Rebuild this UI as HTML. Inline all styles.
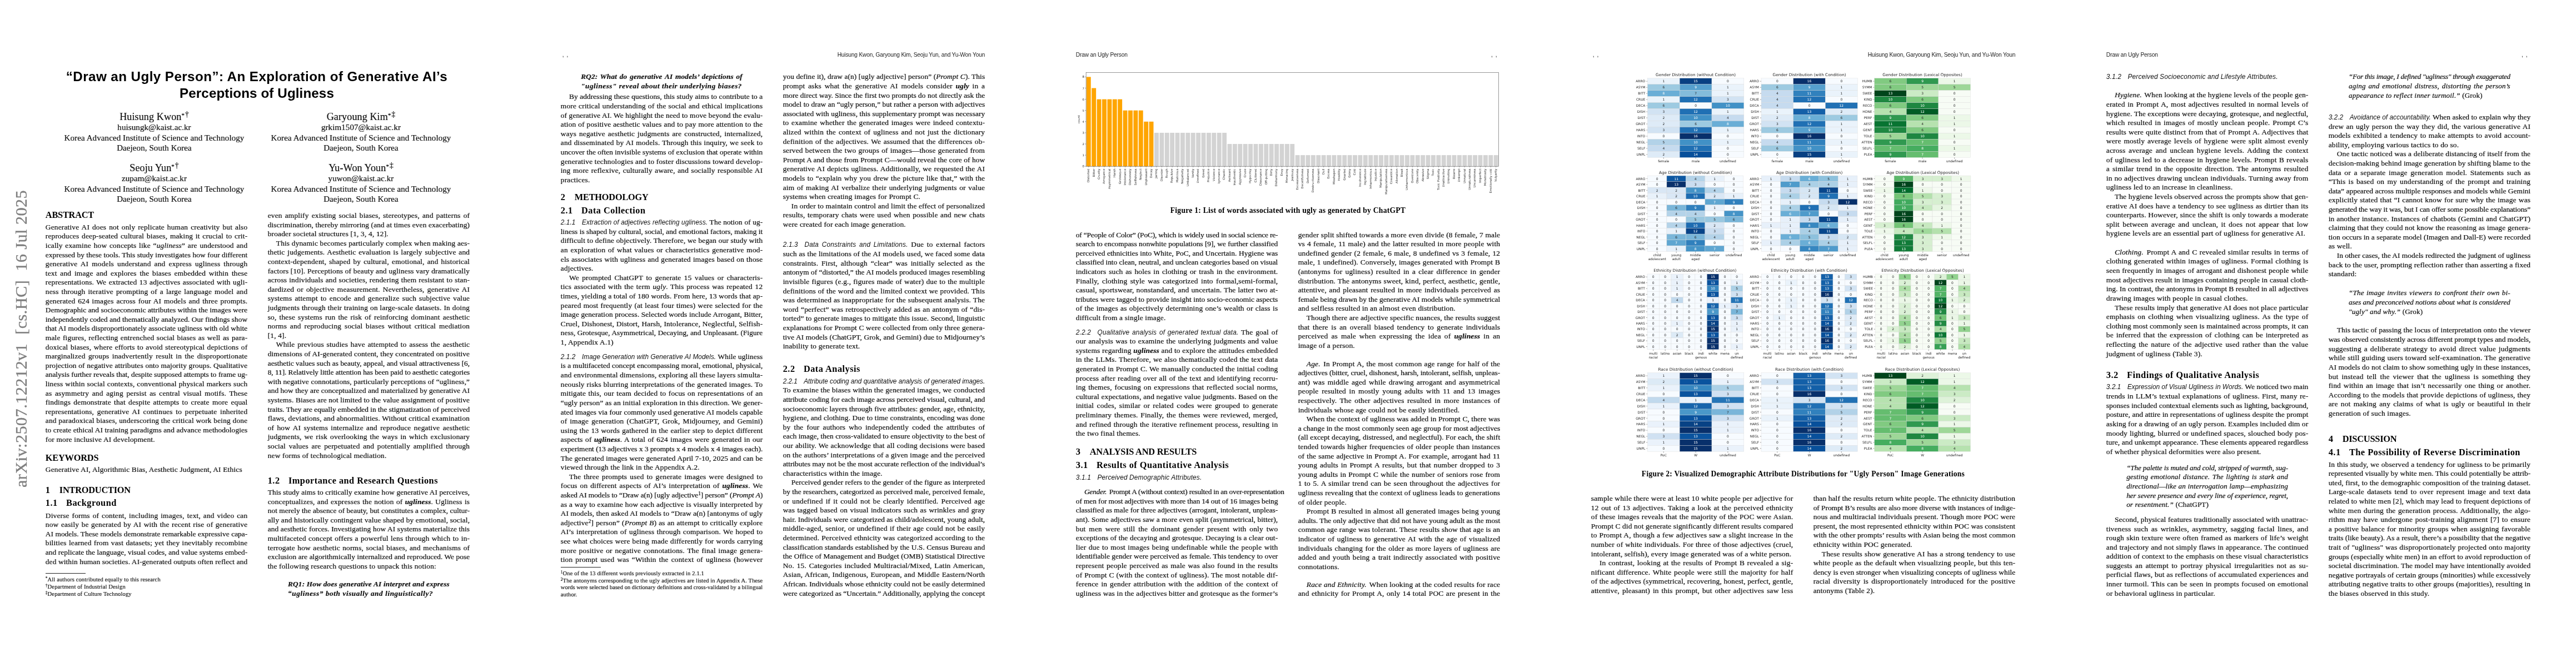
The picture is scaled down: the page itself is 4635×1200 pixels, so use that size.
<!DOCTYPE html><html lang="en"><head><meta charset="utf-8"><title>Draw an Ugly Person</title><style>
html,body{margin:0;padding:0;background:#fff}
body{width:4635px;height:1200px;position:relative;overflow:hidden;will-change:transform;color:#111;font-family:"Liberation Serif",serif;font-size:13.45px}
.l{position:absolute;white-space:nowrap;line-height:21px;height:21px;letter-spacing:0.16px;-webkit-text-stroke:.22px #111}
.l.j{text-align:justify;text-align-last:justify}
.l *{line-height:0}
.l sup{font-size:.7em;vertical-align:baseline;position:relative;top:-.42em}
.h1{font-weight:bold;font-size:16.4px;color:#000;-webkit-text-stroke:0}
.lc{letter-spacing:.45px}
.h1:not(.lc){letter-spacing:-.25px}
.gap{display:inline-block;width:17px}
.lc .gap{width:15.4px}
.g3{display:inline-block;width:1.5px}
.gap2{display:inline-block;width:11.6px}
.ss{font-family:"Liberation Sans",sans-serif;font-style:italic;font-size:11.85px;-webkit-text-stroke:0}
.bi{font-weight:bold;font-style:italic;font-size:13.3px}
.it{font-style:italic;font-size:13.1px}
.up{font-style:normal}
.fn{font-size:10.6px;letter-spacing:.09px;-webkit-text-stroke:.15px #111}
.rule{position:absolute;width:72.7px;height:0;border-top:.6px solid #222}
.hd{position:absolute;font-family:"Liberation Sans",sans-serif;font-size:10.2px;letter-spacing:-.18px;line-height:16px;white-space:nowrap;color:#222}
.hd.r{text-align:right}
.hd.cm{word-spacing:2px;letter-spacing:0}
.ttl{position:absolute;text-align:center;font-family:"Liberation Sans",sans-serif;font-weight:bold;font-size:24.3px;line-height:40px;white-space:nowrap;color:#000;letter-spacing:.37px}
.au{position:absolute;width:400px;text-align:center;font-size:15.1px;line-height:22px;height:22px;white-space:nowrap;-webkit-text-stroke:.2px #111;letter-spacing:.05px}
.au.nm{font-size:18.2px;line-height:26px;height:26px}
.au sup{font-size:.6em;vertical-align:baseline;position:relative;top:-.5em;line-height:0}
.au .dg{font-size:1.25em;position:relative;top:-.05em;margin-left:1px}
.cap{position:absolute;text-align:center;font-weight:bold;font-size:13.6px;letter-spacing:.25px;line-height:20px;white-space:nowrap;color:#000}
.fig{position:absolute;overflow:visible}
.arx{position:absolute;left:38.2px;top:877px;letter-spacing:.42px;transform-origin:0 0;transform:rotate(-90deg);font-family:"Liberation Serif",serif;font-size:30.3px;line-height:0;white-space:nowrap;color:#7f7f7f;-webkit-text-stroke:.3px #7f7f7f}
</style></head><body>
<div class="ttl" style="left:62.0px;top:118.0px;width:800.0px">“Draw an Ugly Person”: An Exploration of Generative AI’s</div>
<div class="ttl" style="left:62.0px;top:148.3px;width:800.0px;letter-spacing:.05px">Perceptions of Ugliness</div>
<div class="au nm" style="left:77.5px;top:197px">Huisung Kwon<sup>*<span class="dg">†</span></sup></div>
<div class="au" style="left:77.5px;top:218px">huisungk@kaist.ac.kr</div>
<div class="au" style="left:77.5px;top:237px">Korea Advanced Institute of Science and Technology</div>
<div class="au" style="left:77.5px;top:255px">Daejeon, South Korea</div>
<div class="au nm" style="left:449.5px;top:197px">Garyoung Kim<sup>*<span class="dg">‡</span></sup></div>
<div class="au" style="left:449.5px;top:218px">grkim1507@kaist.ac.kr</div>
<div class="au" style="left:449.5px;top:237px">Korea Advanced Institute of Science and Technology</div>
<div class="au" style="left:449.5px;top:255px">Daejeon, South Korea</div>
<div class="au nm" style="left:77.5px;top:289px">Seoju Yun<sup>*<span class="dg">†</span></sup></div>
<div class="au" style="left:77.5px;top:310px">zupam@kaist.ac.kr</div>
<div class="au" style="left:77.5px;top:329px">Korea Advanced Institute of Science and Technology</div>
<div class="au" style="left:77.5px;top:347px">Daejeon, South Korea</div>
<div class="au nm" style="left:449.5px;top:289px">Yu-Won Youn<sup>*<span class="dg">‡</span></sup></div>
<div class="au" style="left:449.5px;top:310px">yuwon@kaist.ac.kr</div>
<div class="au" style="left:449.5px;top:329px">Korea Advanced Institute of Science and Technology</div>
<div class="au" style="left:449.5px;top:347px">Daejeon, South Korea</div>
<div class="arx">arXiv:2507.12212v1&nbsp; [cs.HC]&nbsp; 16 Jul 2025</div>
<div id="L1" class="l h1" style="left:81.80px;top:374px;line-height:25px;height:25px;">ABSTRACT</div>
<div id="L2" class="l  j" style="left:81.80px;top:398px;width:363.50px;">Generative AI does not only replicate human creativity but also</div>
<div id="L3" class="l  j" style="left:81.80px;top:414px;width:363.50px;">reproduces deep-seated cultural biases, making it crucial to crit-</div>
<div id="L4" class="l  j" style="left:81.80px;top:431px;width:363.50px;">ically examine how concepts like “<i>ugliness</i>” are understood and</div>
<div id="L5" class="l  j" style="left:81.80px;top:448px;width:363.50px;letter-spacing:0.023px;">expressed by these tools. This study investigates how four different</div>
<div id="L6" class="l  j" style="left:81.80px;top:464px;width:363.50px;">generative AI models understand and express ugliness through</div>
<div id="L7" class="l  j" style="left:81.80px;top:481px;width:363.50px;">text and image and explores the biases embedded within these</div>
<div id="L8" class="l  j" style="left:81.80px;top:497px;width:363.50px;">representations. We extracted 13 adjectives associated with ugli-</div>
<div id="L9" class="l  j" style="left:81.80px;top:514px;width:363.50px;">ness through iterative prompting of a large language model and</div>
<div id="L10" class="l  j" style="left:81.80px;top:531px;width:363.50px;">generated 624 images across four AI models and three prompts.</div>
<div id="L11" class="l  j" style="left:81.80px;top:547px;width:363.50px;letter-spacing:0.024px;">Demographic and socioeconomic attributes within the images were</div>
<div id="L12" class="l  j" style="left:81.80px;top:564px;width:363.50px;letter-spacing:0.018px;">independently coded and thematically analyzed. Our findings show</div>
<div id="L13" class="l  j" style="left:81.80px;top:580px;width:363.50px;letter-spacing:0.027px;">that AI models disproportionately associate ugliness with old white</div>
<div id="L14" class="l  j" style="left:81.80px;top:597px;width:363.50px;">male figures, reflecting entrenched social biases as well as para-</div>
<div id="L15" class="l  j" style="left:81.80px;top:614px;width:363.50px;">doxical biases, where efforts to avoid stereotypical depictions of</div>
<div id="L16" class="l  j" style="left:81.80px;top:630px;width:363.50px;">marginalized groups inadvertently result in the disproportionate</div>
<div id="L17" class="l  j" style="left:81.80px;top:647px;width:363.50px;letter-spacing:0.139px;">projection of negative attributes onto majority groups. Qualitative</div>
<div id="L18" class="l  j" style="left:81.80px;top:663px;width:363.50px;letter-spacing:-0.027px;">analysis further reveals that, despite supposed attempts to frame ug-</div>
<div id="L19" class="l  j" style="left:81.80px;top:680px;width:363.50px;">liness within social contexts, conventional physical markers such</div>
<div id="L20" class="l  j" style="left:81.80px;top:697px;width:363.50px;">as asymmetry and aging persist as central visual motifs. These</div>
<div id="L21" class="l  j" style="left:81.80px;top:713px;width:363.50px;">findings demonstrate that despite attempts to create more equal</div>
<div id="L22" class="l  j" style="left:81.80px;top:730px;width:363.50px;">representations, generative AI continues to perpetuate inherited</div>
<div id="L23" class="l  j" style="left:81.80px;top:746px;width:363.50px;">and paradoxical biases, underscoring the critical work being done</div>
<div id="L24" class="l  j" style="left:81.80px;top:763px;width:363.50px;letter-spacing:0.064px;">to create ethical AI training paradigms and advance methodologies</div>
<div id="L25" class="l" style="left:81.80px;top:780px;">for more inclusive AI development.</div>
<div id="L26" class="l h1" style="left:81.80px;top:811px;line-height:25px;height:25px;">KEYWORDS</div>
<div id="L27" class="l" style="left:81.80px;top:834px;">Generative AI, Algorithmic Bias, Aesthetic Judgment, AI Ethics</div>
<div id="L28" class="l h1" style="left:81.80px;top:869px;line-height:25px;height:25px;">1<span class="gap"></span>INTRODUCTION</div>
<div id="L29" class="l h1 lc" style="left:81.80px;top:892px;line-height:25px;height:25px;">1.1<span class="gap"></span>Background</div>
<div id="L30" class="l  j" style="left:81.80px;top:917px;width:363.50px;">Diverse forms of content, including images, text, and video can</div>
<div id="L31" class="l  j" style="left:81.80px;top:933px;width:363.50px;">now easily be generated by AI with the recent rise of generative</div>
<div id="L32" class="l  j" style="left:81.80px;top:950px;width:363.50px;letter-spacing:0.011px;">AI models. These models demonstrate remarkable expressive capa-</div>
<div id="L33" class="l  j" style="left:81.80px;top:966px;width:363.50px;">bilities learned from vast datasets; yet they inevitably recombine</div>
<div id="L34" class="l  j" style="left:81.80px;top:983px;width:363.50px;letter-spacing:0.023px;">and replicate the language, visual codes, and value systems embed-</div>
<div id="L35" class="l  j" style="left:81.80px;top:1000px;width:363.50px;letter-spacing:0.080px;">ded within human societies. AI-generated outputs often reflect and</div>
<div class="rule" style="left:81.80px;top:1031.00px"></div>
<div id="L36" class="l fn" style="left:81.80px;top:1034px;line-height:17px;height:17px;"><sup>*</sup>All authors contributed equally to this research</div>
<div id="L37" class="l fn" style="left:81.80px;top:1047px;line-height:17px;height:17px;"><sup>†</sup>Department of Industrial Design</div>
<div id="L38" class="l fn" style="left:81.80px;top:1060px;line-height:17px;height:17px;"><sup>‡</sup>Department of Culture Technology</div>
<div id="L39" class="l  j" style="left:481.70px;top:377px;width:363.50px;">even amplify existing social biases, stereotypes, and patterns of</div>
<div id="L40" class="l  j" style="left:481.70px;top:394px;width:363.50px;letter-spacing:0.085px;">discrimination, thereby mirroring (and at times even exacerbating)</div>
<div id="L41" class="l" style="left:481.70px;top:410px;">broader societal structures [1, 3, 4, 12].</div>
<div id="L42" class="l  j" style="left:496.80px;top:427px;width:348.40px;letter-spacing:0.139px;">This dynamic becomes particularly complex when making aes-</div>
<div id="L43" class="l  j" style="left:481.70px;top:443px;width:363.50px;">thetic judgements. Aesthetic evaluation is largely subjective and</div>
<div id="L44" class="l  j" style="left:481.70px;top:460px;width:363.50px;">context-dependent, shaped by cultural, emotional, and historical</div>
<div id="L45" class="l  j" style="left:481.70px;top:477px;width:363.50px;letter-spacing:0.147px;">factors [10]. Perceptions of beauty and ugliness vary dramatically</div>
<div id="L46" class="l  j" style="left:481.70px;top:493px;width:363.50px;">across individuals and societies, rendering them resistant to stan-</div>
<div id="L47" class="l  j" style="left:481.70px;top:510px;width:363.50px;">dardized or objective measurement. Nevertheless, generative AI</div>
<div id="L48" class="l  j" style="left:481.70px;top:526px;width:363.50px;">systems attempt to encode and generalize such subjective value</div>
<div id="L49" class="l  j" style="left:481.70px;top:543px;width:363.50px;">judgments through their training on large-scale datasets. In doing</div>
<div id="L50" class="l  j" style="left:481.70px;top:560px;width:363.50px;">so, these systems run the risk of reinforcing dominant aesthetic</div>
<div id="L51" class="l  j" style="left:481.70px;top:576px;width:363.50px;">norms and reproducing social biases without critical mediation</div>
<div id="L52" class="l" style="left:481.70px;top:593px;">[1, 4].</div>
<div id="L53" class="l  j" style="left:496.80px;top:609px;width:348.40px;">While previous studies have attempted to assess the aesthetic</div>
<div id="L54" class="l  j" style="left:481.70px;top:626px;width:363.50px;letter-spacing:0.098px;">dimensions of AI-generated content, they concentrated on positive</div>
<div id="L55" class="l  j" style="left:481.70px;top:643px;width:363.50px;letter-spacing:-0.003px;">aesthetic values such as beauty, appeal, and visual attractiveness [6,</div>
<div id="L56" class="l  j" style="left:481.70px;top:659px;width:363.50px;letter-spacing:-0.090px;">8, 11]. Relatively little attention has been paid to aesthetic categories</div>
<div id="L57" class="l  j" style="left:481.70px;top:676px;width:363.50px;letter-spacing:0.106px;">with negative connotations, particularly perceptions of “ugliness,”</div>
<div id="L58" class="l  j" style="left:481.70px;top:692px;width:363.50px;letter-spacing:0.024px;">and how they are conceptualized and materialized by generative AI</div>
<div id="L59" class="l  j" style="left:481.70px;top:709px;width:363.50px;letter-spacing:0.100px;">systems. Biases are not limited to the value assignment of positive</div>
<div id="L60" class="l  j" style="left:481.70px;top:726px;width:363.50px;letter-spacing:-0.034px;">traits. They are equally embedded in the stigmatization of perceived</div>
<div id="L61" class="l  j" style="left:481.70px;top:742px;width:363.50px;letter-spacing:0.136px;">flaws, deviations, and abnormalities. Without critical examination</div>
<div id="L62" class="l  j" style="left:481.70px;top:759px;width:363.50px;">of how AI systems internalize and reproduce negative aesthetic</div>
<div id="L63" class="l  j" style="left:481.70px;top:775px;width:363.50px;">judgments, we risk overlooking the ways in which exclusionary</div>
<div id="L64" class="l  j" style="left:481.70px;top:792px;width:363.50px;">social values are perpetuated and potentially amplified through</div>
<div id="L65" class="l" style="left:481.70px;top:809px;">new forms of technological mediation.</div>
<div id="L66" class="l h1 lc" style="left:481.70px;top:852px;line-height:25px;height:25px;">1.2<span class="gap"></span>Importance and Research Questions</div>
<div id="L67" class="l  j" style="left:481.70px;top:875px;width:363.50px;letter-spacing:0.063px;">This study aims to critically examine how generative AI perceives,</div>
<div id="L68" class="l  j" style="left:481.70px;top:892px;width:363.50px;">conceptualizes, and expresses the notion of <b><i>ugliness</i></b>. Ugliness is</div>
<div id="L69" class="l  j" style="left:481.70px;top:908px;width:363.50px;letter-spacing:0.012px;">not merely the absence of beauty, but constitutes a complex, cultur-</div>
<div id="L70" class="l  j" style="left:481.70px;top:925px;width:363.50px;letter-spacing:0.117px;">ally and historically contingent value shaped by emotional, social,</div>
<div id="L71" class="l  j" style="left:481.70px;top:941px;width:363.50px;letter-spacing:0.078px;">and aesthetic forces. Investigating how AI systems materialize this</div>
<div id="L72" class="l  j" style="left:481.70px;top:958px;width:363.50px;">multifaceted concept offers a powerful lens through which to in-</div>
<div id="L73" class="l  j" style="left:481.70px;top:975px;width:363.50px;">terrogate how aesthetic norms, social biases, and mechanisms of</div>
<div id="L74" class="l  j" style="left:481.70px;top:991px;width:363.50px;letter-spacing:0.015px;">exclusion are algorithmically internalized and reproduced. We pose</div>
<div id="L75" class="l" style="left:481.70px;top:1008px;">the following research questions to unpack this notion:</div>
<div id="L76" class="l bi j" style="left:518.05px;top:1040px;width:290.80px;">RQ1: How does generative AI interpret and express</div>
<div id="L77" class="l bi" style="left:518.05px;top:1057px;letter-spacing:0.56px;">“ugliness” both visually and linguistically?</div>
<div class="hd cm" style="left:1011.80px;top:90.90px">, ,</div>
<div class="hd r" style="left:1008.80px;top:90.90px;width:763.40px">Huisung Kwon, Garyoung Kim, Seoju Yun, and Yu-Won Youn</div>
<div id="L78" class="l bi j" style="left:1045.15px;top:127px;width:290.80px;">RQ2: What do generative AI models’ depictions of</div>
<div id="L79" class="l bi" style="left:1045.15px;top:144px;letter-spacing:0.49px;">"ugliness" reveal about their underlying biases?</div>
<div id="L80" class="l  j" style="left:1023.90px;top:163px;width:348.40px;letter-spacing:0.065px;">By addressing these questions, this study aims to contribute to a</div>
<div id="L81" class="l  j" style="left:1008.80px;top:180px;width:363.50px;">more critical understanding of the social and ethical implications</div>
<div id="L82" class="l  j" style="left:1008.80px;top:197px;width:363.50px;letter-spacing:0.072px;">of generative AI. We highlight the need to move beyond the evalu-</div>
<div id="L83" class="l  j" style="left:1008.80px;top:213px;width:363.50px;">ation of positive aesthetic values and to pay more attention to the</div>
<div id="L84" class="l  j" style="left:1008.80px;top:230px;width:363.50px;">ways negative aesthetic judgments are constructed, internalized,</div>
<div id="L85" class="l  j" style="left:1008.80px;top:246px;width:363.50px;">and disseminated by AI models. Through this inquiry, we seek to</div>
<div id="L86" class="l  j" style="left:1008.80px;top:263px;width:363.50px;letter-spacing:-0.000px;">uncover the often invisible systems of exclusion that operate within</div>
<div id="L87" class="l  j" style="left:1008.80px;top:280px;width:363.50px;letter-spacing:0.149px;">generative technologies and to foster discussions toward develop-</div>
<div id="L88" class="l  j" style="left:1008.80px;top:296px;width:363.50px;">ing more reflexive, culturally aware, and socially responsible AI</div>
<div id="L89" class="l" style="left:1008.80px;top:313px;">practices.</div>
<div id="L90" class="l h1" style="left:1008.80px;top:342px;line-height:25px;height:25px;">2<span class="gap"></span>METHODOLOGY</div>
<div id="L91" class="l h1 lc" style="left:1008.80px;top:366px;line-height:25px;height:25px;">2.1<span class="gap"></span>Data Collection</div>
<div id="L92" class="l  j" style="left:1008.80px;top:389px;width:363.50px;letter-spacing:0.065px;"><span class="ss">2.1.1<span class="gap2"></span>Extraction of adjectives reflecting ugliness.</span> The notion of ug-</div>
<div id="L93" class="l  j" style="left:1008.80px;top:406px;width:363.50px;letter-spacing:-0.011px;">liness is shaped by cultural, social, and emotional factors, making it</div>
<div id="L94" class="l  j" style="left:1008.80px;top:422px;width:363.50px;letter-spacing:0.132px;">difficult to define objectively. Therefore, we began our study with</div>
<div id="L95" class="l  j" style="left:1008.80px;top:439px;width:363.50px;">an exploration of what values or characteristics generative mod-</div>
<div id="L96" class="l  j" style="left:1008.80px;top:456px;width:363.50px;">els associates with ugliness and generated images based on those</div>
<div id="L97" class="l" style="left:1008.80px;top:472px;">adjectives.</div>
<div id="L98" class="l  j" style="left:1023.90px;top:489px;width:348.40px;">We prompted ChatGPT to generate 15 values or characteris-</div>
<div id="L99" class="l  j" style="left:1008.80px;top:505px;width:363.50px;">tics associated with the term <i>ugly</i>. This process was repeated 12</div>
<div id="L100" class="l  j" style="left:1008.80px;top:522px;width:363.50px;letter-spacing:0.147px;">times, yielding a total of 180 words. From here, 13 words that ap-</div>
<div id="L101" class="l  j" style="left:1008.80px;top:539px;width:363.50px;">peared most frequently (at least four times) were selected for the</div>
<div id="L102" class="l  j" style="left:1008.80px;top:555px;width:363.50px;letter-spacing:0.059px;">image generation process. Selected words include Arrogant, Bitter,</div>
<div id="L103" class="l  j" style="left:1008.80px;top:572px;width:363.50px;">Cruel, Dishonest, Distort, Harsh, Intolerance, Neglectful, Selfish-</div>
<div id="L104" class="l  j" style="left:1008.80px;top:588px;width:363.50px;letter-spacing:0.023px;">ness, Grotesque, Asymmetrical, Decaying, and Unpleasant. (Figure</div>
<div id="L105" class="l" style="left:1008.80px;top:605px;">1, Appendix A.1)</div>
<div id="L106" class="l  j" style="left:1008.80px;top:631px;width:363.50px;letter-spacing:0.041px;"><span class="ss">2.1.2<span class="gap2"></span>Image Generation with Generative AI Models.</span> While ugliness</div>
<div id="L107" class="l  j" style="left:1008.80px;top:647px;width:363.50px;letter-spacing:-0.005px;">is a multifaceted concept encompassing moral, emotional, physical,</div>
<div id="L108" class="l  j" style="left:1008.80px;top:664px;width:363.50px;letter-spacing:0.144px;">and environmental dimensions, exploring all these layers simulta-</div>
<div id="L109" class="l  j" style="left:1008.80px;top:681px;width:363.50px;">neously risks blurring interpretations of the generated images. To</div>
<div id="L110" class="l  j" style="left:1008.80px;top:697px;width:363.50px;">mitigate this, our team decided to focus on representations of an</div>
<div id="L111" class="l  j" style="left:1008.80px;top:714px;width:363.50px;letter-spacing:0.133px;">“ugly person” as an initial exploration in this direction. We gener-</div>
<div id="L112" class="l  j" style="left:1008.80px;top:731px;width:363.50px;letter-spacing:0.036px;">ated images via four commonly used generative AI models capable</div>
<div id="L113" class="l  j" style="left:1008.80px;top:747px;width:363.50px;">of image generation (ChatGPT, Grok, Midjourney, and Gemini)</div>
<div id="L114" class="l  j" style="left:1008.80px;top:764px;width:363.50px;">using the 13 words gathered in the earlier step to depict different</div>
<div id="L115" class="l  j" style="left:1008.80px;top:780px;width:363.50px;">aspects of <b><i>ugliness</i></b>. A total of 624 images were generated in our</div>
<div id="L116" class="l  j" style="left:1008.80px;top:797px;width:363.50px;letter-spacing:-0.045px;">experiment (13 adjectives x 3 prompts x 4 models x 4 images each).</div>
<div id="L117" class="l  j" style="left:1008.80px;top:814px;width:363.50px;letter-spacing:0.108px;">The generated images were generated April 7-10, 2025 and can be</div>
<div id="L118" class="l" style="left:1008.80px;top:830px;">viewed through the link in the Appendix A.2.</div>
<div id="L119" class="l  j" style="left:1023.90px;top:847px;width:348.40px;">The three prompts used to generate images were designed to</div>
<div id="L120" class="l  j" style="left:1008.80px;top:863px;width:363.50px;">focus on different aspects of AI’s interpretation of <b><i>ugliness</i></b>. We</div>
<div id="L121" class="l  j" style="left:1008.80px;top:880px;width:363.50px;letter-spacing:-0.088px;">asked AI models to “Draw a(n) [ugly adjective<sup>1</sup>] person” (<i>Prompt A</i>)</div>
<div id="L122" class="l  j" style="left:1008.80px;top:897px;width:363.50px;">as a way to examine how each adjective is visually interpreted by</div>
<div id="L123" class="l  j" style="left:1008.80px;top:913px;width:363.50px;letter-spacing:0.065px;">AI models, then asked AI models to “Draw a(n) [antonyms of ugly</div>
<div id="L124" class="l  j" style="left:1008.80px;top:930px;width:363.50px;">adjective<sup>2</sup>] person” (<i>Prompt B</i>) as an attempt to critically explore</div>
<div id="L125" class="l  j" style="left:1008.80px;top:946px;width:363.50px;">AI’s interpretation of ugliness through comparison. We hoped to</div>
<div id="L126" class="l  j" style="left:1008.80px;top:963px;width:363.50px;">see what choices were being made differently for words carrying</div>
<div id="L127" class="l  j" style="left:1008.80px;top:980px;width:363.50px;">more positive or negative connotations. The final image genera-</div>
<div id="L128" class="l  j" style="left:1008.80px;top:996px;width:363.50px;">tion prompt used was “Within the context of ugliness (however</div>
<div class="rule" style="left:1008.80px;top:1020.00px"></div>
<div id="L129" class="l fn" style="left:1008.80px;top:1023px;line-height:17px;height:17px;"><sup>1</sup>One of the 13 different words previously extracted in 2.1.1</div>
<div id="L130" class="l fn j" style="left:1008.80px;top:1036px;line-height:17px;height:17px;width:363.50px;letter-spacing:0.083px;"><sup>2</sup>The antonyms corresponding to the ugly adjectives are listed in Appendix A. These</div>
<div id="L131" class="l fn j" style="left:1008.80px;top:1048px;line-height:17px;height:17px;width:363.50px;letter-spacing:-0.023px;">words were selected based on dictionary definitions and cross-validated by a bilingual</div>
<div id="L132" class="l fn" style="left:1008.80px;top:1061px;line-height:17px;height:17px;">author.</div>
<div id="L133" class="l  j" style="left:1408.70px;top:127px;width:363.50px;letter-spacing:0.061px;">you define it), draw a(n) [ugly adjective] person” (<i>Prompt C</i>). This</div>
<div id="L134" class="l  j" style="left:1408.70px;top:144px;width:363.50px;">prompt asks what the generative AI models consider <b><i>ugly</i></b> in a</div>
<div id="L135" class="l  j" style="left:1408.70px;top:161px;width:363.50px;letter-spacing:0.024px;">more direct way. Since the first two prompts do not directly ask the</div>
<div id="L136" class="l  j" style="left:1408.70px;top:177px;width:363.50px;letter-spacing:-0.005px;">model to draw an “ugly person,” but rather a person with adjectives</div>
<div id="L137" class="l  j" style="left:1408.70px;top:194px;width:363.50px;letter-spacing:0.040px;">associated with ugliness, this supplementary prompt was necessary</div>
<div id="L138" class="l  j" style="left:1408.70px;top:210px;width:363.50px;">to examine whether the generated images were indeed contextu-</div>
<div id="L139" class="l  j" style="left:1408.70px;top:227px;width:363.50px;">alized within the context of ugliness and not just the dictionary</div>
<div id="L140" class="l  j" style="left:1408.70px;top:244px;width:363.50px;">definition of the adjectives. We assumed that the differences ob-</div>
<div id="L141" class="l  j" style="left:1408.70px;top:260px;width:363.50px;">served between the two groups of images—those generated from</div>
<div id="L142" class="l  j" style="left:1408.70px;top:277px;width:363.50px;letter-spacing:0.036px;">Prompt A and those from Prompt C—would reveal the core of how</div>
<div id="L143" class="l  j" style="left:1408.70px;top:293px;width:363.50px;">generative AI depicts ugliness. Additionally, we requested the AI</div>
<div id="L144" class="l  j" style="left:1408.70px;top:310px;width:363.50px;">models to “explain why you drew the picture like that,” with the</div>
<div id="L145" class="l  j" style="left:1408.70px;top:327px;width:363.50px;">aim of making AI verbalize their underlying judgments or value</div>
<div id="L146" class="l" style="left:1408.70px;top:343px;">systems when creating images for Prompt C.</div>
<div id="L147" class="l  j" style="left:1423.80px;top:360px;width:348.40px;letter-spacing:0.134px;">In order to maintain control and limit the effect of personalized</div>
<div id="L148" class="l  j" style="left:1408.70px;top:376px;width:363.50px;">results, temporary chats were used when possible and new chats</div>
<div id="L149" class="l" style="left:1408.70px;top:393px;">were created for each image generation.</div>
<div id="L150" class="l  j" style="left:1408.70px;top:429px;width:363.50px;"><span class="ss">2.1.3<span class="gap2"></span>Data Constraints and Limitations.</span> Due to external factors</div>
<div id="L151" class="l  j" style="left:1408.70px;top:446px;width:363.50px;letter-spacing:0.149px;">such as the limitations of the AI models used, we faced some data</div>
<div id="L152" class="l  j" style="left:1408.70px;top:463px;width:363.50px;">constraints. First, although “clear” was initially selected as the</div>
<div id="L153" class="l  j" style="left:1408.70px;top:479px;width:363.50px;letter-spacing:-0.012px;">antonym of “distorted,” the AI models produced images resembling</div>
<div id="L154" class="l  j" style="left:1408.70px;top:496px;width:363.50px;">invisible figures (e.g., figures made of water) due to the multiple</div>
<div id="L155" class="l  j" style="left:1408.70px;top:513px;width:363.50px;">definitions of the word and the limited context we provided. This</div>
<div id="L156" class="l  j" style="left:1408.70px;top:529px;width:363.50px;">was determined as inappropriate for the subsequent analysis. The</div>
<div id="L157" class="l  j" style="left:1408.70px;top:546px;width:363.50px;">word “perfect” was retrospectively added as an antonym of “dis-</div>
<div id="L158" class="l  j" style="left:1408.70px;top:562px;width:363.50px;letter-spacing:0.065px;">torted” to generate images to mitigate this issue. Second, linguistic</div>
<div id="L159" class="l  j" style="left:1408.70px;top:579px;width:363.50px;letter-spacing:0.141px;">explanations for Prompt C were collected from only three genera-</div>
<div id="L160" class="l  j" style="left:1408.70px;top:596px;width:363.50px;letter-spacing:0.088px;">tive AI models (ChatGPT, Grok, and Gemini) due to Midjourney’s</div>
<div id="L161" class="l" style="left:1408.70px;top:612px;">inability to generate text.</div>
<div id="L162" class="l h1 lc" style="left:1408.70px;top:651px;line-height:25px;height:25px;">2.2<span class="gap"></span>Data Analysis</div>
<div id="L163" class="l  j" style="left:1408.70px;top:675px;width:363.50px;letter-spacing:-0.070px;"><span class="ss">2.2.1<span class="gap2"></span>Attribute coding and quantitative analysis of generated images.</span></div>
<div id="L164" class="l  j" style="left:1408.70px;top:691px;width:363.50px;letter-spacing:0.140px;">To examine the biases within the generated images, we conducted</div>
<div id="L165" class="l  j" style="left:1408.70px;top:708px;width:363.50px;letter-spacing:-0.095px;">attribute coding for each image across perceived visual, cultural, and</div>
<div id="L166" class="l  j" style="left:1408.70px;top:725px;width:363.50px;letter-spacing:-0.006px;">socioeconomic layers through five attributes: gender, age, ethnicity,</div>
<div id="L167" class="l  j" style="left:1408.70px;top:741px;width:363.50px;letter-spacing:0.086px;">hygiene, and clothing. Due to time constraints, encoding was done</div>
<div id="L168" class="l  j" style="left:1408.70px;top:758px;width:363.50px;">by the four authors who independently coded the attributes of</div>
<div id="L169" class="l  j" style="left:1408.70px;top:774px;width:363.50px;letter-spacing:0.022px;">each image, then cross-validated to ensure objectivity to the best of</div>
<div id="L170" class="l  j" style="left:1408.70px;top:791px;width:363.50px;">our ability. We acknowledge that all coding decisions were based</div>
<div id="L171" class="l  j" style="left:1408.70px;top:808px;width:363.50px;">on the authors’ interpretations of a given image and the perceived</div>
<div id="L172" class="l  j" style="left:1408.70px;top:824px;width:363.50px;letter-spacing:-0.048px;">attributes may not be the most accurate reflection of the individual’s</div>
<div id="L173" class="l" style="left:1408.70px;top:841px;">characteristics within the image.</div>
<div id="L174" class="l  j" style="left:1423.80px;top:857px;width:348.40px;letter-spacing:0.027px;">Perceived gender refers to the gender of the figure as interpreted</div>
<div id="L175" class="l  j" style="left:1408.70px;top:874px;width:363.50px;letter-spacing:-0.064px;">by the researchers, categorized as perceived male, perceived female,</div>
<div id="L176" class="l  j" style="left:1408.70px;top:891px;width:363.50px;">or undefined if it could not be clearly identified. Perceived age</div>
<div id="L177" class="l  j" style="left:1408.70px;top:907px;width:363.50px;">was tagged based on visual indicators such as wrinkles and gray</div>
<div id="L178" class="l  j" style="left:1408.70px;top:924px;width:363.50px;letter-spacing:0.028px;">hair. Individuals were categorized as child/adolescent, young adult,</div>
<div id="L179" class="l  j" style="left:1408.70px;top:940px;width:363.50px;">middle-aged, senior, or undefined if their age could not be easily</div>
<div id="L180" class="l  j" style="left:1408.70px;top:957px;width:363.50px;">determined. Perceived ethnicity was categorized according to the</div>
<div id="L181" class="l  j" style="left:1408.70px;top:974px;width:363.50px;letter-spacing:0.062px;">classification standards established by the U.S. Census Bureau and</div>
<div id="L182" class="l  j" style="left:1408.70px;top:990px;width:363.50px;letter-spacing:0.057px;">the Office of Management and Budget (OMB) Statistical Directive</div>
<div id="L183" class="l  j" style="left:1408.70px;top:1007px;width:363.50px;">No. 15. Categories included Multiracial/Mixed, Latin American,</div>
<div id="L184" class="l  j" style="left:1408.70px;top:1023px;width:363.50px;">Asian, African, Indigenous, European, and Middle Eastern/North</div>
<div id="L185" class="l  j" style="left:1408.70px;top:1040px;width:363.50px;letter-spacing:-0.022px;">African. Individuals whose ethnicity could not be easily determined</div>
<div id="L186" class="l  j" style="left:1408.70px;top:1057px;width:363.50px;letter-spacing:-0.042px;">were categorized as “Uncertain.” Additionally, applying the concept</div>
<div class="hd" style="left:1935.80px;top:90.90px">Draw an Ugly Person</div>
<div class="hd r cm" style="left:1935.80px;top:90.90px;width:757.70px">, ,</div>
<div id="L187" class="l  j" style="left:1935.80px;top:412px;width:363.50px;letter-spacing:-0.192px;">of “People of Color” (PoC), which is widely used in social science re-</div>
<div id="L188" class="l  j" style="left:1935.80px;top:428px;width:363.50px;letter-spacing:-0.033px;">search to encompass nonwhite populations [9], we further classified</div>
<div id="L189" class="l  j" style="left:1935.80px;top:445px;width:363.50px;letter-spacing:0.050px;">perceived ethnicities into White, PoC, and Uncertain. Hygiene was</div>
<div id="L190" class="l  j" style="left:1935.80px;top:461px;width:363.50px;letter-spacing:-0.042px;">classified into clean, neutral, and unclean categories based on visual</div>
<div id="L191" class="l  j" style="left:1935.80px;top:478px;width:363.50px;">indicators such as holes in clothing or trash in the environment.</div>
<div id="L192" class="l  j" style="left:1935.80px;top:495px;width:363.50px;">Finally, clothing style was categorized into formal,semi-formal,</div>
<div id="L193" class="l  j" style="left:1935.80px;top:511px;width:363.50px;">casual, sportswear, nonstandard, and uncertain. The latter two at-</div>
<div id="L194" class="l  j" style="left:1935.80px;top:528px;width:363.50px;letter-spacing:0.017px;">tributes were tagged to provide insight into socio-economic aspects</div>
<div id="L195" class="l  j" style="left:1935.80px;top:544px;width:363.50px;">of the images as objectively determining one’s wealth or class is</div>
<div id="L196" class="l" style="left:1935.80px;top:561px;">difficult from a single image.</div>
<div id="L197" class="l  j" style="left:1935.80px;top:587px;width:363.50px;"><span class="ss">2.2.2<span class="gap2"></span>Qualitative analysis of generated textual data.</span> The goal of</div>
<div id="L198" class="l  j" style="left:1935.80px;top:603px;width:363.50px;">our analysis was to examine the underlying judgments and value</div>
<div id="L199" class="l  j" style="left:1935.80px;top:620px;width:363.50px;letter-spacing:0.145px;">systems regarding <b><i>ugliness</i></b> and to explore the attitudes embedded</div>
<div id="L200" class="l  j" style="left:1935.80px;top:636px;width:363.50px;">in the LLMs. Therefore, we also thematically coded the text data</div>
<div id="L201" class="l  j" style="left:1935.80px;top:653px;width:363.50px;">generated in Prompt C. We manually conducted the initial coding</div>
<div id="L202" class="l  j" style="left:1935.80px;top:670px;width:363.50px;">process after reading over all of the text and identifying recorru-</div>
<div id="L203" class="l  j" style="left:1935.80px;top:686px;width:363.50px;">ing themes, focusing on expressions that reflected social norms,</div>
<div id="L204" class="l  j" style="left:1935.80px;top:703px;width:363.50px;letter-spacing:0.132px;">cultural expectations, and negative value judgments. Based on the</div>
<div id="L205" class="l  j" style="left:1935.80px;top:719px;width:363.50px;">initial codes, similar or related codes were grouped to generate</div>
<div id="L206" class="l  j" style="left:1935.80px;top:736px;width:363.50px;">preliminary themes. Finally, the themes were reviewed, merged,</div>
<div id="L207" class="l  j" style="left:1935.80px;top:753px;width:363.50px;">and refined through the iterative refinement process, resulting in</div>
<div id="L208" class="l" style="left:1935.80px;top:769px;">the two final themes.</div>
<div id="L209" class="l h1" style="left:1935.80px;top:800px;line-height:25px;height:25px;">3<span class="gap"></span>ANALYSIS AND RESULTS</div>
<div id="L210" class="l h1 lc" style="left:1935.80px;top:824px;line-height:25px;height:25px;">3.1<span class="gap"></span>Results of Quantitative Analysis</div>
<div id="L211" class="l" style="left:1935.80px;top:848px;"><span class="ss">3.1.1<span class="gap2"></span>Perceived Demographic Attributes.</span></div>
<div id="L212" class="l  j" style="left:1950.90px;top:874px;width:359.90px;letter-spacing:-0.265px;"><i>Gender.</i><span class="g3"></span> Prompt A (without context) resulted in an over-representation</div>
<div id="L213" class="l  j" style="left:1935.80px;top:891px;width:363.50px;letter-spacing:-0.123px;">of men for most adjectives with more than 14 out of 16 images being</div>
<div id="L214" class="l  j" style="left:1935.80px;top:907px;width:363.50px;letter-spacing:-0.015px;">classified as male for three adjectives (arrogant, intolerant, unpleas-</div>
<div id="L215" class="l  j" style="left:1935.80px;top:924px;width:363.50px;letter-spacing:0.073px;">ant). Some adjectives saw a more even split (asymmetrical, bitter),</div>
<div id="L216" class="l  j" style="left:1935.80px;top:941px;width:363.50px;">but men were still the dominant gender present with only two</div>
<div id="L217" class="l  j" style="left:1935.80px;top:957px;width:363.50px;letter-spacing:0.103px;">exceptions of the decaying and grotesque. Decaying is a clear out-</div>
<div id="L218" class="l  j" style="left:1935.80px;top:974px;width:363.50px;">lier due to most images being undefinable while the people with</div>
<div id="L219" class="l  j" style="left:1935.80px;top:990px;width:363.50px;letter-spacing:-0.012px;">identifiable gender were perceived as female. This tendency to over</div>
<div id="L220" class="l  j" style="left:1935.80px;top:1007px;width:363.50px;">represent people perceived as male was also found in the results</div>
<div id="L221" class="l  j" style="left:1935.80px;top:1024px;width:363.50px;">of Prompt C (with the context of ugliness). The most notable dif-</div>
<div id="L222" class="l  j" style="left:1935.80px;top:1040px;width:363.50px;">ference in gender attribution with the addition of the context of</div>
<div id="L223" class="l  j" style="left:1935.80px;top:1057px;width:363.50px;letter-spacing:0.154px;">ugliness was in the adjectives bitter and grotesque as the former’s</div>
<div id="L224" class="l  j" style="left:2335.70px;top:412px;width:363.50px;">gender split shifted towards a more even divide (8 female, 7 male</div>
<div id="L225" class="l  j" style="left:2335.70px;top:428px;width:363.50px;">vs 4 female, 11 male) and the latter resulted in more people with</div>
<div id="L226" class="l  j" style="left:2335.70px;top:445px;width:363.50px;">undefined gender (2 female, 6 male, 8 undefined vs 3 female, 12</div>
<div id="L227" class="l  j" style="left:2335.70px;top:461px;width:363.50px;">male, 1 undefined). Conversely, images generated with Prompt B</div>
<div id="L228" class="l  j" style="left:2335.70px;top:478px;width:363.50px;">(antonyms for ugliness) resulted in a clear difference in gender</div>
<div id="L229" class="l  j" style="left:2335.70px;top:495px;width:363.50px;">distribution. The antonyms sweet, kind, perfect, aesthetic, gentle,</div>
<div id="L230" class="l  j" style="left:2335.70px;top:511px;width:363.50px;">attentive, and pleasant resulted in more individuals perceived as</div>
<div id="L231" class="l  j" style="left:2335.70px;top:528px;width:363.50px;letter-spacing:-0.023px;">female being drawn by the generative AI models while symmetrical</div>
<div id="L232" class="l" style="left:2335.70px;top:544px;">and selfless resulted in an almost even distribution.</div>
<div id="L233" class="l  j" style="left:2350.80px;top:561px;width:348.40px;letter-spacing:0.114px;">Though there are adjective specific nuances, the results suggest</div>
<div id="L234" class="l  j" style="left:2335.70px;top:578px;width:363.50px;">that there is an overall biased tendency to generate individuals</div>
<div id="L235" class="l  j" style="left:2335.70px;top:594px;width:363.50px;">perceived as male when expressing the idea of <b><i>ugliness</i></b> in an</div>
<div id="L236" class="l" style="left:2335.70px;top:611px;">image of a person.</div>
<div id="L237" class="l  j" style="left:2350.80px;top:644px;width:348.40px;"><i>Age.</i><span class="g3"></span> In Prompt A, the most common age range for half of the</div>
<div id="L238" class="l  j" style="left:2335.70px;top:660px;width:363.50px;letter-spacing:-0.073px;">adjectives (bitter, cruel, dishonest, harsh, intolerant, selfish, unpleas-</div>
<div id="L239" class="l  j" style="left:2335.70px;top:677px;width:363.50px;">ant) was middle aged while drawing arrogant and asymmetrical</div>
<div id="L240" class="l  j" style="left:2335.70px;top:693px;width:363.50px;">people resulted in mostly young adults with 11 and 13 images</div>
<div id="L241" class="l  j" style="left:2335.70px;top:710px;width:363.50px;">respectively. The other adjectives resulted in more instances of</div>
<div id="L242" class="l" style="left:2335.70px;top:727px;">individuals whose age could not be easily identified.</div>
<div id="L243" class="l  j" style="left:2350.80px;top:743px;width:348.40px;letter-spacing:0.076px;">When the context of ugliness was added in Prompt C, there was</div>
<div id="L244" class="l  j" style="left:2335.70px;top:760px;width:363.50px;letter-spacing:0.035px;">a change in the most commonly seen age group for most adjectives</div>
<div id="L245" class="l  j" style="left:2335.70px;top:776px;width:363.50px;letter-spacing:0.054px;">(all except decaying, distressed, and neglectful). For each, the shift</div>
<div id="L246" class="l  j" style="left:2335.70px;top:793px;width:363.50px;">tended towards higher frequencies of older people than instances</div>
<div id="L247" class="l  j" style="left:2335.70px;top:810px;width:363.50px;">of the same adjective in Prompt A. For example, arrogant had 11</div>
<div id="L248" class="l  j" style="left:2335.70px;top:826px;width:363.50px;">young adults in Prompt A results, but that number dropped to 3</div>
<div id="L249" class="l  j" style="left:2335.70px;top:843px;width:363.50px;">young adults in Prompt C while the number of seniors rose from</div>
<div id="L250" class="l  j" style="left:2335.70px;top:859px;width:363.50px;">1 to 5. A similar trend can be seen throughout the adjectives for</div>
<div id="L251" class="l  j" style="left:2335.70px;top:876px;width:363.50px;letter-spacing:0.110px;">ugliness revealing that the context of ugliness leads to generations</div>
<div id="L252" class="l" style="left:2335.70px;top:893px;">of older people.</div>
<div id="L253" class="l  j" style="left:2350.80px;top:909px;width:348.40px;">Prompt B resulted in almost all generated images being young</div>
<div id="L254" class="l  j" style="left:2335.70px;top:926px;width:363.50px;letter-spacing:0.003px;">adults. The only adjective that did not have young adult as the most</div>
<div id="L255" class="l  j" style="left:2335.70px;top:942px;width:363.50px;letter-spacing:0.150px;">common age range was tolerant. These results show that age is an</div>
<div id="L256" class="l  j" style="left:2335.70px;top:959px;width:363.50px;">indicator of ugliness to generative AI with the age of visualized</div>
<div id="L257" class="l  j" style="left:2335.70px;top:976px;width:363.50px;">individuals changing for the older as more layers of ugliness are</div>
<div id="L258" class="l  j" style="left:2335.70px;top:992px;width:363.50px;">added and youth being a trait indirectly associated with positive</div>
<div id="L259" class="l" style="left:2335.70px;top:1009px;">connotations.</div>
<div id="L260" class="l  j" style="left:2350.80px;top:1041px;width:348.40px;"><i>Race and Ethnicity.</i><span class="g3"></span> When looking at the coded results for race</div>
<div id="L261" class="l  j" style="left:2335.70px;top:1057px;width:363.50px;">and ethnicity for Prompt A, only 14 total POC are present in the</div>
<div class="cap" style="left:1935.8px;top:369.2px;width:763.4px">Figure 1: List of words associated with ugly as generated by ChatGPT</div>
<svg class="fig" style="left:1900px;top:110px" width="840" height="260" viewBox="1900 110 840 260" font-family="DejaVu Sans, sans-serif" font-size="5.3" fill="#262626"><rect x="1954.85" y="138.40" width="7.89" height="160.80" fill="#ffa500"/><path d="M1958.80 299.20v2" stroke="#333" stroke-width=".45"/><text transform="translate(1960.15 303.50) rotate(-90)" text-anchor="end">Distorted</text><rect x="1964.25" y="158.50" width="7.89" height="140.70" fill="#ffa500"/><path d="M1968.19 299.20v2" stroke="#333" stroke-width=".45"/><text transform="translate(1969.54 303.50) rotate(-90)" text-anchor="end">Bitter</text><rect x="1973.64" y="178.60" width="7.89" height="120.60" fill="#ffa500"/><path d="M1977.59 299.20v2" stroke="#333" stroke-width=".45"/><text transform="translate(1978.94 303.50) rotate(-90)" text-anchor="end">Cruelty</text><rect x="1983.04" y="178.60" width="7.89" height="120.60" fill="#ffa500"/><path d="M1986.99 299.20v2" stroke="#333" stroke-width=".45"/><text transform="translate(1988.34 303.50) rotate(-90)" text-anchor="end">Arrogance</text><rect x="1992.44" y="178.60" width="7.89" height="120.60" fill="#ffa500"/><path d="M1996.38 299.20v2" stroke="#333" stroke-width=".45"/><text transform="translate(1997.73 303.50) rotate(-90)" text-anchor="end">Asymmetrical</text><rect x="2001.83" y="178.60" width="7.89" height="120.60" fill="#ffa500"/><path d="M2005.78 299.20v2" stroke="#333" stroke-width=".45"/><text transform="translate(2007.13 303.50) rotate(-90)" text-anchor="end">Harsh</text><rect x="2011.23" y="178.60" width="7.89" height="120.60" fill="#ffa500"/><path d="M2015.18 299.20v2" stroke="#333" stroke-width=".45"/><text transform="translate(2016.53 303.50) rotate(-90)" text-anchor="end">Grotesque</text><rect x="2020.63" y="198.70" width="7.89" height="100.50" fill="#ffa500"/><path d="M2024.57 299.20v2" stroke="#333" stroke-width=".45"/><text transform="translate(2025.92 303.50) rotate(-90)" text-anchor="end">Intolerance</text><rect x="2030.02" y="198.70" width="7.89" height="100.50" fill="#ffa500"/><path d="M2033.97 299.20v2" stroke="#333" stroke-width=".45"/><text transform="translate(2035.32 303.50) rotate(-90)" text-anchor="end">Dishonesty</text><rect x="2039.42" y="198.70" width="7.89" height="100.50" fill="#ffa500"/><path d="M2043.36 299.20v2" stroke="#333" stroke-width=".45"/><text transform="translate(2044.71 303.50) rotate(-90)" text-anchor="end">Selfishness</text><rect x="2048.81" y="198.70" width="7.89" height="100.50" fill="#ffa500"/><path d="M2052.76 299.20v2" stroke="#333" stroke-width=".45"/><text transform="translate(2054.11 303.50) rotate(-90)" text-anchor="end">Neglect</text><rect x="2058.21" y="218.80" width="7.89" height="80.40" fill="#ffa500"/><path d="M2062.16 299.20v2" stroke="#333" stroke-width=".45"/><text transform="translate(2063.51 303.50) rotate(-90)" text-anchor="end">Unpleasant</text><rect x="2067.61" y="218.80" width="7.89" height="80.40" fill="#ffa500"/><path d="M2071.55 299.20v2" stroke="#333" stroke-width=".45"/><text transform="translate(2072.90 303.50) rotate(-90)" text-anchor="end">Decay</text><rect x="2077.00" y="238.90" width="7.89" height="60.30" fill="#d3d3d3"/><path d="M2080.95 299.20v2" stroke="#333" stroke-width=".45"/><text transform="translate(2082.30 303.50) rotate(-90)" text-anchor="end">Jarring</text><rect x="2086.40" y="238.90" width="7.89" height="60.30" fill="#d3d3d3"/><path d="M2090.34 299.20v2" stroke="#333" stroke-width=".45"/><text transform="translate(2091.69 303.50) rotate(-90)" text-anchor="end">Disorder</text><rect x="2095.79" y="238.90" width="7.89" height="60.30" fill="#d3d3d3"/><path d="M2099.74 299.20v2" stroke="#333" stroke-width=".45"/><text transform="translate(2101.09 303.50) rotate(-90)" text-anchor="end">Rough</text><rect x="2105.19" y="238.90" width="7.89" height="60.30" fill="#d3d3d3"/><path d="M2109.14 299.20v2" stroke="#333" stroke-width=".45"/><text transform="translate(2110.49 303.50) rotate(-90)" text-anchor="end">Repulsive</text><rect x="2114.59" y="238.90" width="7.89" height="60.30" fill="#d3d3d3"/><path d="M2118.53 299.20v2" stroke="#333" stroke-width=".45"/><text transform="translate(2119.88 303.50) rotate(-90)" text-anchor="end">Malicious</text><rect x="2123.98" y="238.90" width="7.89" height="60.30" fill="#d3d3d3"/><path d="M2127.93 299.20v2" stroke="#333" stroke-width=".45"/><text transform="translate(2129.28 303.50) rotate(-90)" text-anchor="end">Negativity</text><rect x="2133.38" y="238.90" width="7.89" height="60.30" fill="#d3d3d3"/><path d="M2137.33 299.20v2" stroke="#333" stroke-width=".45"/><text transform="translate(2138.68 303.50) rotate(-90)" text-anchor="end">Unbalanced</text><rect x="2142.78" y="238.90" width="7.89" height="60.30" fill="#d3d3d3"/><path d="M2146.72 299.20v2" stroke="#333" stroke-width=".45"/><text transform="translate(2148.07 303.50) rotate(-90)" text-anchor="end">Vanity</text><rect x="2152.17" y="238.90" width="7.89" height="60.30" fill="#d3d3d3"/><path d="M2156.12 299.20v2" stroke="#333" stroke-width=".45"/><text transform="translate(2157.47 303.50) rotate(-90)" text-anchor="end">Unrefined</text><rect x="2161.57" y="238.90" width="7.89" height="60.30" fill="#d3d3d3"/><path d="M2165.51 299.20v2" stroke="#333" stroke-width=".45"/><text transform="translate(2166.86 303.50) rotate(-90)" text-anchor="end">Greed</text><rect x="2170.96" y="238.90" width="7.89" height="60.30" fill="#d3d3d3"/><path d="M2174.91 299.20v2" stroke="#333" stroke-width=".45"/><text transform="translate(2176.26 303.50) rotate(-90)" text-anchor="end">Prejudice</text><rect x="2180.36" y="238.90" width="7.89" height="60.30" fill="#d3d3d3"/><path d="M2184.31 299.20v2" stroke="#333" stroke-width=".45"/><text transform="translate(2185.66 303.50) rotate(-90)" text-anchor="end">Violence</text><rect x="2189.76" y="238.90" width="7.89" height="60.30" fill="#d3d3d3"/><path d="M2193.70 299.20v2" stroke="#333" stroke-width=".45"/><text transform="translate(2195.05 303.50) rotate(-90)" text-anchor="end">Ignorance</text><rect x="2199.15" y="238.90" width="7.89" height="60.30" fill="#d3d3d3"/><path d="M2203.10 299.20v2" stroke="#333" stroke-width=".45"/><text transform="translate(2204.45 303.50) rotate(-90)" text-anchor="end">Chaotic</text><rect x="2208.55" y="259.00" width="7.89" height="40.20" fill="#d3d3d3"/><path d="M2212.50 299.20v2" stroke="#333" stroke-width=".45"/><text transform="translate(2213.85 303.50) rotate(-90)" text-anchor="end">Awkward</text><rect x="2217.95" y="259.00" width="7.89" height="40.20" fill="#d3d3d3"/><path d="M2221.89 299.20v2" stroke="#333" stroke-width=".45"/><text transform="translate(2223.24 303.50) rotate(-90)" text-anchor="end">Inauthentic</text><rect x="2227.34" y="259.00" width="7.89" height="40.20" fill="#d3d3d3"/><path d="M2231.29 299.20v2" stroke="#333" stroke-width=".45"/><text transform="translate(2232.64 303.50) rotate(-90)" text-anchor="end">Aggressive</text><rect x="2236.74" y="259.00" width="7.89" height="40.20" fill="#d3d3d3"/><path d="M2240.68 299.20v2" stroke="#333" stroke-width=".45"/><text transform="translate(2242.03 303.50) rotate(-90)" text-anchor="end">Crude</text><rect x="2246.13" y="259.00" width="7.89" height="40.20" fill="#d3d3d3"/><path d="M2250.08 299.20v2" stroke="#333" stroke-width=".45"/><text transform="translate(2251.43 303.50) rotate(-90)" text-anchor="end">Hypocrisy</text><rect x="2255.53" y="259.00" width="7.89" height="40.20" fill="#d3d3d3"/><path d="M2259.48 299.20v2" stroke="#333" stroke-width=".45"/><text transform="translate(2260.83 303.50) rotate(-90)" text-anchor="end">Cluttered</text><rect x="2264.93" y="259.00" width="7.89" height="40.20" fill="#d3d3d3"/><path d="M2268.87 299.20v2" stroke="#333" stroke-width=".45"/><text transform="translate(2270.22 303.50) rotate(-90)" text-anchor="end">Dissonance</text><rect x="2274.32" y="259.00" width="7.89" height="40.20" fill="#d3d3d3"/><path d="M2278.27 299.20v2" stroke="#333" stroke-width=".45"/><text transform="translate(2279.62 303.50) rotate(-90)" text-anchor="end">Off-putting</text><rect x="2283.72" y="259.00" width="7.89" height="40.20" fill="#d3d3d3"/><path d="M2287.67 299.20v2" stroke="#333" stroke-width=".45"/><text transform="translate(2289.02 303.50) rotate(-90)" text-anchor="end">Dirty</text><rect x="2293.11" y="259.00" width="7.89" height="40.20" fill="#d3d3d3"/><path d="M2297.06 299.20v2" stroke="#333" stroke-width=".45"/><text transform="translate(2298.41 303.50) rotate(-90)" text-anchor="end">Disharmony</text><rect x="2302.51" y="259.00" width="7.89" height="40.20" fill="#d3d3d3"/><path d="M2306.46 299.20v2" stroke="#333" stroke-width=".45"/><text transform="translate(2307.81 303.50) rotate(-90)" text-anchor="end">Envy</text><rect x="2311.91" y="259.00" width="7.89" height="40.20" fill="#d3d3d3"/><path d="M2315.85 299.20v2" stroke="#333" stroke-width=".45"/><text transform="translate(2317.20 303.50) rotate(-90)" text-anchor="end">Menacing</text><rect x="2321.30" y="259.00" width="7.89" height="40.20" fill="#d3d3d3"/><path d="M2325.25 299.20v2" stroke="#333" stroke-width=".45"/><text transform="translate(2326.60 303.50) rotate(-90)" text-anchor="end">Jealousy</text><rect x="2330.70" y="279.10" width="7.89" height="20.10" fill="#d3d3d3"/><path d="M2334.65 299.20v2" stroke="#333" stroke-width=".45"/><text transform="translate(2336.00 303.50) rotate(-90)" text-anchor="end">Excessiveness</text><rect x="2340.10" y="279.10" width="7.89" height="20.10" fill="#d3d3d3"/><path d="M2344.04 299.20v2" stroke="#333" stroke-width=".45"/><text transform="translate(2345.39 303.50) rotate(-90)" text-anchor="end">Deceitfulness</text><rect x="2349.49" y="279.10" width="7.89" height="20.10" fill="#d3d3d3"/><path d="M2353.44 299.20v2" stroke="#333" stroke-width=".45"/><text transform="translate(2354.79 303.50) rotate(-90)" text-anchor="end">Deformed</text><rect x="2358.89" y="279.10" width="7.89" height="20.10" fill="#d3d3d3"/><path d="M2362.83 299.20v2" stroke="#333" stroke-width=".45"/><text transform="translate(2364.18 303.50) rotate(-90)" text-anchor="end">Destructiveness</text><rect x="2368.28" y="279.10" width="7.89" height="20.10" fill="#d3d3d3"/><path d="M2372.23 299.20v2" stroke="#333" stroke-width=".45"/><text transform="translate(2373.58 303.50) rotate(-90)" text-anchor="end">Dissonant</text><rect x="2377.68" y="279.10" width="7.89" height="20.10" fill="#d3d3d3"/><path d="M2381.63 299.20v2" stroke="#333" stroke-width=".45"/><text transform="translate(2382.98 303.50) rotate(-90)" text-anchor="end">Dull</text><rect x="2387.08" y="279.10" width="7.89" height="20.10" fill="#d3d3d3"/><path d="M2391.02 299.20v2" stroke="#333" stroke-width=".45"/><text transform="translate(2392.37 303.50) rotate(-90)" text-anchor="end">Excess</text><rect x="2396.47" y="279.10" width="7.89" height="20.10" fill="#d3d3d3"/><path d="M2400.42 299.20v2" stroke="#333" stroke-width=".45"/><text transform="translate(2401.77 303.50) rotate(-90)" text-anchor="end">Misshapen</text><rect x="2405.87" y="279.10" width="7.89" height="20.10" fill="#d3d3d3"/><path d="M2409.82 299.20v2" stroke="#333" stroke-width=".45"/><text transform="translate(2411.17 303.50) rotate(-90)" text-anchor="end">Hostility</text><rect x="2415.27" y="279.10" width="7.89" height="20.10" fill="#d3d3d3"/><path d="M2419.21 299.20v2" stroke="#333" stroke-width=".45"/><text transform="translate(2420.56 303.50) rotate(-90)" text-anchor="end">Gnarled</text><rect x="2424.66" y="279.10" width="7.89" height="20.10" fill="#d3d3d3"/><path d="M2428.61 299.20v2" stroke="#333" stroke-width=".45"/><text transform="translate(2429.96 303.50) rotate(-90)" text-anchor="end">Grimy</text><rect x="2434.06" y="279.10" width="7.89" height="20.10" fill="#d3d3d3"/><path d="M2438.00 299.20v2" stroke="#333" stroke-width=".45"/><text transform="translate(2439.35 303.50) rotate(-90)" text-anchor="end">Cold</text><rect x="2443.45" y="279.10" width="7.89" height="20.10" fill="#d3d3d3"/><path d="M2447.40 299.20v2" stroke="#333" stroke-width=".45"/><text transform="translate(2448.75 303.50) rotate(-90)" text-anchor="end">Incoherence</text><rect x="2452.85" y="279.10" width="7.89" height="20.10" fill="#d3d3d3"/><path d="M2456.80 299.20v2" stroke="#333" stroke-width=".45"/><text transform="translate(2458.15 303.50) rotate(-90)" text-anchor="end">Ingratitude</text><rect x="2462.25" y="279.10" width="7.89" height="20.10" fill="#d3d3d3"/><path d="M2466.19 299.20v2" stroke="#333" stroke-width=".45"/><text transform="translate(2467.54 303.50) rotate(-90)" text-anchor="end">Inharmonious</text><rect x="2471.64" y="279.10" width="7.89" height="20.10" fill="#d3d3d3"/><path d="M2475.59 299.20v2" stroke="#333" stroke-width=".45"/><text transform="translate(2476.94 303.50) rotate(-90)" text-anchor="end">Injustice</text><rect x="2481.04" y="279.10" width="7.89" height="20.10" fill="#d3d3d3"/><path d="M2484.99 299.20v2" stroke="#333" stroke-width=".45"/><text transform="translate(2486.34 303.50) rotate(-90)" text-anchor="end">Manipulation</text><rect x="2490.44" y="279.10" width="7.89" height="20.10" fill="#d3d3d3"/><path d="M2494.38 299.20v2" stroke="#333" stroke-width=".45"/><text transform="translate(2495.73 303.50) rotate(-90)" text-anchor="end">Manipulativeness</text><rect x="2499.83" y="279.10" width="7.89" height="20.10" fill="#d3d3d3"/><path d="M2503.78 299.20v2" stroke="#333" stroke-width=".45"/><text transform="translate(2505.13 303.50) rotate(-90)" text-anchor="end">Cowardice</text><rect x="2509.23" y="279.10" width="7.89" height="20.10" fill="#d3d3d3"/><path d="M2513.17 299.20v2" stroke="#333" stroke-width=".45"/><text transform="translate(2514.52 303.50) rotate(-90)" text-anchor="end">Alienation</text><rect x="2518.62" y="279.10" width="7.89" height="20.10" fill="#d3d3d3"/><path d="M2522.57 299.20v2" stroke="#333" stroke-width=".45"/><text transform="translate(2523.92 303.50) rotate(-90)" text-anchor="end">Bleak</text><rect x="2528.02" y="279.10" width="7.89" height="20.10" fill="#d3d3d3"/><path d="M2531.97 299.20v2" stroke="#333" stroke-width=".45"/><text transform="translate(2533.32 303.50) rotate(-90)" text-anchor="end">Unharmonious</text><rect x="2537.42" y="279.10" width="7.89" height="20.10" fill="#d3d3d3"/><path d="M2541.36 299.20v2" stroke="#333" stroke-width=".45"/><text transform="translate(2542.71 303.50) rotate(-90)" text-anchor="end">Overdone</text><rect x="2546.81" y="279.10" width="7.89" height="20.10" fill="#d3d3d3"/><path d="M2550.76 299.20v2" stroke="#333" stroke-width=".45"/><text transform="translate(2552.11 303.50) rotate(-90)" text-anchor="end">Obscenity</text><rect x="2556.21" y="279.10" width="7.89" height="20.10" fill="#d3d3d3"/><path d="M2560.16 299.20v2" stroke="#333" stroke-width=".45"/><text transform="translate(2561.51 303.50) rotate(-90)" text-anchor="end">Abrasive</text><rect x="2565.60" y="279.10" width="7.89" height="20.10" fill="#d3d3d3"/><path d="M2569.55 299.20v2" stroke="#333" stroke-width=".45"/><text transform="translate(2570.90 303.50) rotate(-90)" text-anchor="end">Stigma</text><rect x="2575.00" y="279.10" width="7.89" height="20.10" fill="#d3d3d3"/><path d="M2578.95 299.20v2" stroke="#333" stroke-width=".45"/><text transform="translate(2580.30 303.50) rotate(-90)" text-anchor="end">Toxic</text><rect x="2584.40" y="279.10" width="7.89" height="20.10" fill="#d3d3d3"/><path d="M2588.34 299.20v2" stroke="#333" stroke-width=".45"/><text transform="translate(2589.69 303.50) rotate(-90)" text-anchor="end">Toxic Positivity</text><rect x="2593.79" y="279.10" width="7.89" height="20.10" fill="#d3d3d3"/><path d="M2597.74 299.20v2" stroke="#333" stroke-width=".45"/><text transform="translate(2599.09 303.50) rotate(-90)" text-anchor="end">Unattractive</text><rect x="2603.19" y="279.10" width="7.89" height="20.10" fill="#d3d3d3"/><path d="M2607.14 299.20v2" stroke="#333" stroke-width=".45"/><text transform="translate(2608.49 303.50) rotate(-90)" text-anchor="end">Uninviting</text><rect x="2612.59" y="279.10" width="7.89" height="20.10" fill="#d3d3d3"/><path d="M2616.53 299.20v2" stroke="#333" stroke-width=".45"/><text transform="translate(2617.88 303.50) rotate(-90)" text-anchor="end">Bizarre</text><rect x="2621.98" y="279.10" width="7.89" height="20.10" fill="#d3d3d3"/><path d="M2625.93 299.20v2" stroke="#333" stroke-width=".45"/><text transform="translate(2627.28 303.50) rotate(-90)" text-anchor="end">Unkempt</text><rect x="2631.38" y="279.10" width="7.89" height="20.10" fill="#d3d3d3"/><path d="M2635.32 299.20v2" stroke="#333" stroke-width=".45"/><text transform="translate(2636.67 303.50) rotate(-90)" text-anchor="end">Unnatural</text><rect x="2640.77" y="279.10" width="7.89" height="20.10" fill="#d3d3d3"/><path d="M2644.72 299.20v2" stroke="#333" stroke-width=".45"/><text transform="translate(2646.07 303.50) rotate(-90)" text-anchor="end">Unnaturalness</text><rect x="2650.17" y="279.10" width="7.89" height="20.10" fill="#d3d3d3"/><path d="M2654.12 299.20v2" stroke="#333" stroke-width=".45"/><text transform="translate(2655.47 303.50) rotate(-90)" text-anchor="end">Uncanniness</text><rect x="2659.57" y="279.10" width="7.89" height="20.10" fill="#d3d3d3"/><path d="M2663.51 299.20v2" stroke="#333" stroke-width=".45"/><text transform="translate(2664.86 303.50) rotate(-90)" text-anchor="end">Imperfect</text><rect x="2668.96" y="279.10" width="7.89" height="20.10" fill="#d3d3d3"/><path d="M2672.91 299.20v2" stroke="#333" stroke-width=".45"/><text transform="translate(2674.26 303.50) rotate(-90)" text-anchor="end">Monstrosity</text><rect x="2678.36" y="279.10" width="7.89" height="20.10" fill="#d3d3d3"/><path d="M2682.31 299.20v2" stroke="#333" stroke-width=".45"/><text transform="translate(2683.66 303.50) rotate(-90)" text-anchor="end">Emotionally cold</text><rect x="2687.76" y="279.10" width="7.89" height="20.10" fill="#d3d3d3"/><path d="M2691.70 299.20v2" stroke="#333" stroke-width=".45"/><text transform="translate(2693.05 303.50) rotate(-90)" text-anchor="end">Vulgarity</text><path d="M1954.10 299.20h-2" stroke="#333" stroke-width=".45"/><text x="1950.80" y="301.20" text-anchor="end">0</text><path d="M1954.10 279.10h-2" stroke="#333" stroke-width=".45"/><text x="1950.80" y="281.10" text-anchor="end">1</text><path d="M1954.10 259.00h-2" stroke="#333" stroke-width=".45"/><text x="1950.80" y="261.00" text-anchor="end">2</text><path d="M1954.10 238.90h-2" stroke="#333" stroke-width=".45"/><text x="1950.80" y="240.90" text-anchor="end">3</text><path d="M1954.10 218.80h-2" stroke="#333" stroke-width=".45"/><text x="1950.80" y="220.80" text-anchor="end">4</text><path d="M1954.10 198.70h-2" stroke="#333" stroke-width=".45"/><text x="1950.80" y="200.70" text-anchor="end">5</text><path d="M1954.10 178.60h-2" stroke="#333" stroke-width=".45"/><text x="1950.80" y="180.60" text-anchor="end">6</text><path d="M1954.10 158.50h-2" stroke="#333" stroke-width=".45"/><text x="1950.80" y="160.50" text-anchor="end">7</text><path d="M1954.10 138.40h-2" stroke="#333" stroke-width=".45"/><text x="1950.80" y="140.40" text-anchor="end">8</text><rect x="1954.10" y="130.60" width="742.30" height="168.60" fill="none" stroke="#333" stroke-width=".5"/><text transform="translate(1943.20 214.90) rotate(-90)" text-anchor="middle">count</text></svg>
<div class="hd cm" style="left:2865.80px;top:90.90px">, ,</div>
<div class="hd r" style="left:2862.80px;top:90.90px;width:763.40px">Huisung Kwon, Garyoung Kim, Seoju Yun, and Yu-Won Youn</div>
<div id="L262" class="l  j" style="left:2862.80px;top:886px;width:363.50px;">sample while there were at least 10 white people per adjective for</div>
<div id="L263" class="l  j" style="left:2862.80px;top:903px;width:363.50px;">12 out of 13 adjectives. Taking a look at the perceived ethnicity</div>
<div id="L264" class="l  j" style="left:2862.80px;top:919px;width:363.50px;">of these images reveals that the majority of the POC were Asian.</div>
<div id="L265" class="l  j" style="left:2862.80px;top:936px;width:363.50px;letter-spacing:0.100px;">Prompt C did not generate significantly different results compared</div>
<div id="L266" class="l  j" style="left:2862.80px;top:952px;width:363.50px;">to Prompt A, though a few adjectives saw a slight increase in the</div>
<div id="L267" class="l  j" style="left:2862.80px;top:969px;width:363.50px;">number of white individuals. For three of those adjectives (cruel,</div>
<div id="L268" class="l" style="left:2862.80px;top:986px;">intolerant, selfish), every image generated was of a white person.</div>
<div id="L269" class="l  j" style="left:2877.90px;top:1002px;width:348.40px;">In contrast, looking at the results of Prompt B revealed a sig-</div>
<div id="L270" class="l  j" style="left:2862.80px;top:1019px;width:363.50px;">nificant difference. White people were still the majority for half</div>
<div id="L271" class="l  j" style="left:2862.80px;top:1035px;width:363.50px;letter-spacing:0.116px;">of the adjectives (symmetrical, recovering, honest, perfect, gentle,</div>
<div id="L272" class="l  j" style="left:2862.80px;top:1052px;width:363.50px;">attentive, pleasant) in this prompt, but other adjectives saw less</div>
<div id="L273" class="l  j" style="left:3262.70px;top:886px;width:363.50px;letter-spacing:0.096px;">than half the results return white people. The ethnicity distribution</div>
<div id="L274" class="l  j" style="left:3262.70px;top:903px;width:363.50px;letter-spacing:-0.065px;">of Prompt B’s results are also more diverse with instances of indige-</div>
<div id="L275" class="l  j" style="left:3262.70px;top:919px;width:363.50px;">nous and multiracial individuals present. Though more POC were</div>
<div id="L276" class="l  j" style="left:3262.70px;top:936px;width:363.50px;letter-spacing:0.114px;">present, the most represented ethnicity within POC was consistent</div>
<div id="L277" class="l  j" style="left:3262.70px;top:952px;width:363.50px;letter-spacing:0.079px;">with the other prompts’ results with Asian being the most common</div>
<div id="L278" class="l" style="left:3262.70px;top:969px;">ethnicity within POC generated.</div>
<div id="L279" class="l  j" style="left:3277.80px;top:986px;width:348.40px;">These results show generative AI has a strong tendency to use</div>
<div id="L280" class="l  j" style="left:3262.70px;top:1002px;width:363.50px;">white people as the default when visualizing people, but this ten-</div>
<div id="L281" class="l  j" style="left:3262.70px;top:1019px;width:363.50px;letter-spacing:0.034px;">dency is even stronger when visualizing concepts of ugliness while</div>
<div id="L282" class="l  j" style="left:3262.70px;top:1035px;width:363.50px;">racial diversity is disproportionately introduced for the positive</div>
<div id="L283" class="l" style="left:3262.70px;top:1052px;">antonyms (Table 2).</div>
<div class="cap" style="left:2862.8px;top:842.5px;width:763.4px">Figure 2: Visualized Demographic Attribute Distributions for "Ugly Person" Image Generations</div>
<svg class="fig" style="left:2900px;top:120px" width="700" height="720" viewBox="2900 120 700 720" font-family="DejaVu Sans, sans-serif" font-size="5.95" fill="#262626" text-anchor="middle"><text x="3051.10" y="137.10" font-size="7.29">Gender Distribution (without Condition)</text><text x="2960.30" y="148.39" text-anchor="end">ARRO</text><path d="M2964.40 146.19h-2.1" stroke="#333" stroke-width=".5"/><rect x="2964.40" y="140.70" width="57.80" height="10.98" fill="#eaf3fb" stroke="#d8d8d8" stroke-opacity=".8" stroke-width=".45"/><text x="2993.30" y="148.39" fill="#262626">1</text><rect x="3022.20" y="140.70" width="57.80" height="10.98" fill="#084082" stroke="#d8d8d8" stroke-opacity=".8" stroke-width=".45"/><text x="3051.10" y="148.39" fill="#fff">15</text><rect x="3080.00" y="140.70" width="57.80" height="10.98" fill="#f7fbff" stroke="#d8d8d8" stroke-opacity=".8" stroke-width=".45"/><text x="3108.90" y="148.39" fill="#262626">0</text><text x="2960.30" y="159.37" text-anchor="end">ASYM</text><path d="M2964.40 157.17h-2.1" stroke="#333" stroke-width=".5"/><rect x="2964.40" y="151.68" width="57.80" height="10.98" fill="#9dcae1" stroke="#d8d8d8" stroke-opacity=".8" stroke-width=".45"/><text x="2993.30" y="159.37" fill="#262626">6</text><rect x="3022.20" y="151.68" width="57.80" height="10.98" fill="#56a0ce" stroke="#d8d8d8" stroke-opacity=".8" stroke-width=".45"/><text x="3051.10" y="159.37" fill="#fff">9</text><rect x="3080.00" y="151.68" width="57.80" height="10.98" fill="#eaf3fb" stroke="#d8d8d8" stroke-opacity=".8" stroke-width=".45"/><text x="3108.90" y="159.37" fill="#262626">1</text><text x="2960.30" y="170.34" text-anchor="end">BITT</text><path d="M2964.40 168.14h-2.1" stroke="#333" stroke-width=".5"/><rect x="2964.40" y="162.65" width="57.80" height="10.98" fill="#6aaed6" stroke="#d8d8d8" stroke-opacity=".8" stroke-width=".45"/><text x="2993.30" y="170.34" fill="#fff">8</text><rect x="3022.20" y="162.65" width="57.80" height="10.98" fill="#84bcdb" stroke="#d8d8d8" stroke-opacity=".8" stroke-width=".45"/><text x="3051.10" y="170.34" fill="#262626">7</text><rect x="3080.00" y="162.65" width="57.80" height="10.98" fill="#eaf3fb" stroke="#d8d8d8" stroke-opacity=".8" stroke-width=".45"/><text x="3108.90" y="170.34" fill="#262626">1</text><text x="2960.30" y="181.32" text-anchor="end">CRUE</text><path d="M2964.40 179.12h-2.1" stroke="#333" stroke-width=".5"/><rect x="2964.40" y="173.63" width="57.80" height="10.98" fill="#eaf3fb" stroke="#d8d8d8" stroke-opacity=".8" stroke-width=".45"/><text x="2993.30" y="181.32" fill="#262626">1</text><rect x="3022.20" y="173.63" width="57.80" height="10.98" fill="#2070b4" stroke="#d8d8d8" stroke-opacity=".8" stroke-width=".45"/><text x="3051.10" y="181.32" fill="#fff">12</text><rect x="3080.00" y="173.63" width="57.80" height="10.98" fill="#d2e3f3" stroke="#d8d8d8" stroke-opacity=".8" stroke-width=".45"/><text x="3108.90" y="181.32" fill="#262626">3</text><text x="2960.30" y="192.30" text-anchor="end">DECA</text><path d="M2964.40 190.10h-2.1" stroke="#333" stroke-width=".5"/><rect x="2964.40" y="184.61" width="57.80" height="10.98" fill="#9dcae1" stroke="#d8d8d8" stroke-opacity=".8" stroke-width=".45"/><text x="2993.30" y="192.30" fill="#262626">6</text><rect x="3022.20" y="184.61" width="57.80" height="10.98" fill="#f7fbff" stroke="#d8d8d8" stroke-opacity=".8" stroke-width=".45"/><text x="3051.10" y="192.30" fill="#262626">0</text><rect x="3080.00" y="184.61" width="57.80" height="10.98" fill="#4191c6" stroke="#d8d8d8" stroke-opacity=".8" stroke-width=".45"/><text x="3108.90" y="192.30" fill="#fff">10</text><text x="2960.30" y="203.27" text-anchor="end">DISH</text><path d="M2964.40 201.07h-2.1" stroke="#333" stroke-width=".5"/><rect x="2964.40" y="195.58" width="57.80" height="10.98" fill="#d2e3f3" stroke="#d8d8d8" stroke-opacity=".8" stroke-width=".45"/><text x="2993.30" y="203.27" fill="#262626">3</text><rect x="3022.20" y="195.58" width="57.80" height="10.98" fill="#2070b4" stroke="#d8d8d8" stroke-opacity=".8" stroke-width=".45"/><text x="3051.10" y="203.27" fill="#fff">12</text><rect x="3080.00" y="195.58" width="57.80" height="10.98" fill="#eaf3fb" stroke="#d8d8d8" stroke-opacity=".8" stroke-width=".45"/><text x="3108.90" y="203.27" fill="#262626">1</text><text x="2960.30" y="214.25" text-anchor="end">DIST</text><path d="M2964.40 212.05h-2.1" stroke="#333" stroke-width=".5"/><rect x="2964.40" y="206.56" width="57.80" height="10.98" fill="#deebf7" stroke="#d8d8d8" stroke-opacity=".8" stroke-width=".45"/><text x="2993.30" y="214.25" fill="#262626">2</text><rect x="3022.20" y="206.56" width="57.80" height="10.98" fill="#4191c6" stroke="#d8d8d8" stroke-opacity=".8" stroke-width=".45"/><text x="3051.10" y="214.25" fill="#fff">10</text><rect x="3080.00" y="206.56" width="57.80" height="10.98" fill="#c6dbef" stroke="#d8d8d8" stroke-opacity=".8" stroke-width=".45"/><text x="3108.90" y="214.25" fill="#262626">4</text><text x="2960.30" y="225.23" text-anchor="end">GROT</text><path d="M2964.40 223.03h-2.1" stroke="#333" stroke-width=".5"/><rect x="2964.40" y="217.54" width="57.80" height="10.98" fill="#deebf7" stroke="#d8d8d8" stroke-opacity=".8" stroke-width=".45"/><text x="2993.30" y="225.23" fill="#262626">2</text><rect x="3022.20" y="217.54" width="57.80" height="10.98" fill="#9dcae1" stroke="#d8d8d8" stroke-opacity=".8" stroke-width=".45"/><text x="3051.10" y="225.23" fill="#262626">6</text><rect x="3080.00" y="217.54" width="57.80" height="10.98" fill="#6aaed6" stroke="#d8d8d8" stroke-opacity=".8" stroke-width=".45"/><text x="3108.90" y="225.23" fill="#fff">8</text><text x="2960.30" y="236.20" text-anchor="end">HARS</text><path d="M2964.40 234.00h-2.1" stroke="#333" stroke-width=".5"/><rect x="2964.40" y="228.52" width="57.80" height="10.98" fill="#d2e3f3" stroke="#d8d8d8" stroke-opacity=".8" stroke-width=".45"/><text x="2993.30" y="236.20" fill="#262626">3</text><rect x="3022.20" y="228.52" width="57.80" height="10.98" fill="#2070b4" stroke="#d8d8d8" stroke-opacity=".8" stroke-width=".45"/><text x="3051.10" y="236.20" fill="#fff">12</text><rect x="3080.00" y="228.52" width="57.80" height="10.98" fill="#eaf3fb" stroke="#d8d8d8" stroke-opacity=".8" stroke-width=".45"/><text x="3108.90" y="236.20" fill="#262626">1</text><text x="2960.30" y="247.18" text-anchor="end">INTO</text><path d="M2964.40 244.98h-2.1" stroke="#333" stroke-width=".5"/><rect x="2964.40" y="239.49" width="57.80" height="10.98" fill="#f7fbff" stroke="#d8d8d8" stroke-opacity=".8" stroke-width=".45"/><text x="2993.30" y="247.18" fill="#262626">0</text><rect x="3022.20" y="239.49" width="57.80" height="10.98" fill="#08306b" stroke="#d8d8d8" stroke-opacity=".8" stroke-width=".45"/><text x="3051.10" y="247.18" fill="#fff">16</text><rect x="3080.00" y="239.49" width="57.80" height="10.98" fill="#f7fbff" stroke="#d8d8d8" stroke-opacity=".8" stroke-width=".45"/><text x="3108.90" y="247.18" fill="#262626">0</text><text x="2960.30" y="258.16" text-anchor="end">NEGL</text><path d="M2964.40 255.96h-2.1" stroke="#333" stroke-width=".5"/><rect x="2964.40" y="250.47" width="57.80" height="10.98" fill="#b2d2e8" stroke="#d8d8d8" stroke-opacity=".8" stroke-width=".45"/><text x="2993.30" y="258.16" fill="#262626">5</text><rect x="3022.20" y="250.47" width="57.80" height="10.98" fill="#4191c6" stroke="#d8d8d8" stroke-opacity=".8" stroke-width=".45"/><text x="3051.10" y="258.16" fill="#fff">10</text><rect x="3080.00" y="250.47" width="57.80" height="10.98" fill="#eaf3fb" stroke="#d8d8d8" stroke-opacity=".8" stroke-width=".45"/><text x="3108.90" y="258.16" fill="#262626">1</text><text x="2960.30" y="269.13" text-anchor="end">SELF</text><path d="M2964.40 266.93h-2.1" stroke="#333" stroke-width=".5"/><rect x="2964.40" y="261.45" width="57.80" height="10.98" fill="#c6dbef" stroke="#d8d8d8" stroke-opacity=".8" stroke-width=".45"/><text x="2993.30" y="269.13" fill="#262626">4</text><rect x="3022.20" y="261.45" width="57.80" height="10.98" fill="#2070b4" stroke="#d8d8d8" stroke-opacity=".8" stroke-width=".45"/><text x="3051.10" y="269.13" fill="#fff">12</text><rect x="3080.00" y="261.45" width="57.80" height="10.98" fill="#f7fbff" stroke="#d8d8d8" stroke-opacity=".8" stroke-width=".45"/><text x="3108.90" y="269.13" fill="#262626">0</text><text x="2960.30" y="280.11" text-anchor="end">UNPL</text><path d="M2964.40 277.91h-2.1" stroke="#333" stroke-width=".5"/><rect x="2964.40" y="272.42" width="57.80" height="10.98" fill="#deebf7" stroke="#d8d8d8" stroke-opacity=".8" stroke-width=".45"/><text x="2993.30" y="280.11" fill="#262626">2</text><rect x="3022.20" y="272.42" width="57.80" height="10.98" fill="#08509b" stroke="#d8d8d8" stroke-opacity=".8" stroke-width=".45"/><text x="3051.10" y="280.11" fill="#fff">14</text><rect x="3080.00" y="272.42" width="57.80" height="10.98" fill="#f7fbff" stroke="#d8d8d8" stroke-opacity=".8" stroke-width=".45"/><text x="3108.90" y="280.11" fill="#262626">0</text><path d="M2993.30 283.40v2.2" stroke="#333" stroke-width=".5"/><text x="2993.30" y="292.10" font-size="5.9">female</text><path d="M3051.10 283.40v2.2" stroke="#333" stroke-width=".5"/><text x="3051.10" y="292.10" font-size="5.9">male</text><path d="M3108.90 283.40v2.2" stroke="#333" stroke-width=".5"/><text x="3108.90" y="292.10" font-size="5.9">undefined</text><text x="3255.60" y="137.10" font-size="7.29">Gender Distribution (with Condition)</text><text x="3164.90" y="148.39" text-anchor="end">ARRO</text><path d="M3169.00 146.19h-2.1" stroke="#333" stroke-width=".5"/><rect x="3169.00" y="140.70" width="57.73" height="10.98" fill="#f7fbff" stroke="#d8d8d8" stroke-opacity=".8" stroke-width=".45"/><text x="3197.87" y="148.39" fill="#262626">0</text><rect x="3226.73" y="140.70" width="57.73" height="10.98" fill="#08306b" stroke="#d8d8d8" stroke-opacity=".8" stroke-width=".45"/><text x="3255.60" y="148.39" fill="#fff">16</text><rect x="3284.47" y="140.70" width="57.73" height="10.98" fill="#f7fbff" stroke="#d8d8d8" stroke-opacity=".8" stroke-width=".45"/><text x="3313.33" y="148.39" fill="#262626">0</text><text x="3164.90" y="159.37" text-anchor="end">ASYM</text><path d="M3169.00 157.17h-2.1" stroke="#333" stroke-width=".5"/><rect x="3169.00" y="151.68" width="57.73" height="10.98" fill="#9dcae1" stroke="#d8d8d8" stroke-opacity=".8" stroke-width=".45"/><text x="3197.87" y="159.37" fill="#262626">6</text><rect x="3226.73" y="151.68" width="57.73" height="10.98" fill="#56a0ce" stroke="#d8d8d8" stroke-opacity=".8" stroke-width=".45"/><text x="3255.60" y="159.37" fill="#fff">9</text><rect x="3284.47" y="151.68" width="57.73" height="10.98" fill="#eaf3fb" stroke="#d8d8d8" stroke-opacity=".8" stroke-width=".45"/><text x="3313.33" y="159.37" fill="#262626">1</text><text x="3164.90" y="170.34" text-anchor="end">BITT</text><path d="M3169.00 168.14h-2.1" stroke="#333" stroke-width=".5"/><rect x="3169.00" y="162.65" width="57.73" height="10.98" fill="#c6dbef" stroke="#d8d8d8" stroke-opacity=".8" stroke-width=".45"/><text x="3197.87" y="170.34" fill="#262626">4</text><rect x="3226.73" y="162.65" width="57.73" height="10.98" fill="#3181bd" stroke="#d8d8d8" stroke-opacity=".8" stroke-width=".45"/><text x="3255.60" y="170.34" fill="#fff">11</text><rect x="3284.47" y="162.65" width="57.73" height="10.98" fill="#eaf3fb" stroke="#d8d8d8" stroke-opacity=".8" stroke-width=".45"/><text x="3313.33" y="170.34" fill="#262626">1</text><text x="3164.90" y="181.32" text-anchor="end">CRUE</text><path d="M3169.00 179.12h-2.1" stroke="#333" stroke-width=".5"/><rect x="3169.00" y="173.63" width="57.73" height="10.98" fill="#c6dbef" stroke="#d8d8d8" stroke-opacity=".8" stroke-width=".45"/><text x="3197.87" y="181.32" fill="#262626">4</text><rect x="3226.73" y="173.63" width="57.73" height="10.98" fill="#2070b4" stroke="#d8d8d8" stroke-opacity=".8" stroke-width=".45"/><text x="3255.60" y="181.32" fill="#fff">12</text><rect x="3284.47" y="173.63" width="57.73" height="10.98" fill="#f7fbff" stroke="#d8d8d8" stroke-opacity=".8" stroke-width=".45"/><text x="3313.33" y="181.32" fill="#262626">0</text><text x="3164.90" y="192.30" text-anchor="end">DECA</text><path d="M3169.00 190.10h-2.1" stroke="#333" stroke-width=".5"/><rect x="3169.00" y="184.61" width="57.73" height="10.98" fill="#c6dbef" stroke="#d8d8d8" stroke-opacity=".8" stroke-width=".45"/><text x="3197.87" y="192.30" fill="#262626">4</text><rect x="3226.73" y="184.61" width="57.73" height="10.98" fill="#f7fbff" stroke="#d8d8d8" stroke-opacity=".8" stroke-width=".45"/><text x="3255.60" y="192.30" fill="#262626">0</text><rect x="3284.47" y="184.61" width="57.73" height="10.98" fill="#2070b4" stroke="#d8d8d8" stroke-opacity=".8" stroke-width=".45"/><text x="3313.33" y="192.30" fill="#fff">12</text><text x="3164.90" y="203.27" text-anchor="end">DISH</text><path d="M3169.00 201.07h-2.1" stroke="#333" stroke-width=".5"/><rect x="3169.00" y="195.58" width="57.73" height="10.98" fill="#eaf3fb" stroke="#d8d8d8" stroke-opacity=".8" stroke-width=".45"/><text x="3197.87" y="203.27" fill="#262626">1</text><rect x="3226.73" y="195.58" width="57.73" height="10.98" fill="#1460a8" stroke="#d8d8d8" stroke-opacity=".8" stroke-width=".45"/><text x="3255.60" y="203.27" fill="#fff">13</text><rect x="3284.47" y="195.58" width="57.73" height="10.98" fill="#deebf7" stroke="#d8d8d8" stroke-opacity=".8" stroke-width=".45"/><text x="3313.33" y="203.27" fill="#262626">2</text><text x="3164.90" y="214.25" text-anchor="end">DIST</text><path d="M3169.00 212.05h-2.1" stroke="#333" stroke-width=".5"/><rect x="3169.00" y="206.56" width="57.73" height="10.98" fill="#deebf7" stroke="#d8d8d8" stroke-opacity=".8" stroke-width=".45"/><text x="3197.87" y="214.25" fill="#262626">2</text><rect x="3226.73" y="206.56" width="57.73" height="10.98" fill="#6aaed6" stroke="#d8d8d8" stroke-opacity=".8" stroke-width=".45"/><text x="3255.60" y="214.25" fill="#fff">8</text><rect x="3284.47" y="206.56" width="57.73" height="10.98" fill="#9dcae1" stroke="#d8d8d8" stroke-opacity=".8" stroke-width=".45"/><text x="3313.33" y="214.25" fill="#262626">6</text><text x="3164.90" y="225.23" text-anchor="end">GROT</text><path d="M3169.00 223.03h-2.1" stroke="#333" stroke-width=".5"/><rect x="3169.00" y="217.54" width="57.73" height="10.98" fill="#d2e3f3" stroke="#d8d8d8" stroke-opacity=".8" stroke-width=".45"/><text x="3197.87" y="225.23" fill="#262626">3</text><rect x="3226.73" y="217.54" width="57.73" height="10.98" fill="#2070b4" stroke="#d8d8d8" stroke-opacity=".8" stroke-width=".45"/><text x="3255.60" y="225.23" fill="#fff">12</text><rect x="3284.47" y="217.54" width="57.73" height="10.98" fill="#eaf3fb" stroke="#d8d8d8" stroke-opacity=".8" stroke-width=".45"/><text x="3313.33" y="225.23" fill="#262626">1</text><text x="3164.90" y="236.20" text-anchor="end">HARS</text><path d="M3169.00 234.00h-2.1" stroke="#333" stroke-width=".5"/><rect x="3169.00" y="228.52" width="57.73" height="10.98" fill="#9dcae1" stroke="#d8d8d8" stroke-opacity=".8" stroke-width=".45"/><text x="3197.87" y="236.20" fill="#262626">6</text><rect x="3226.73" y="228.52" width="57.73" height="10.98" fill="#56a0ce" stroke="#d8d8d8" stroke-opacity=".8" stroke-width=".45"/><text x="3255.60" y="236.20" fill="#fff">9</text><rect x="3284.47" y="228.52" width="57.73" height="10.98" fill="#eaf3fb" stroke="#d8d8d8" stroke-opacity=".8" stroke-width=".45"/><text x="3313.33" y="236.20" fill="#262626">1</text><text x="3164.90" y="247.18" text-anchor="end">INTO</text><path d="M3169.00 244.98h-2.1" stroke="#333" stroke-width=".5"/><rect x="3169.00" y="239.49" width="57.73" height="10.98" fill="#f7fbff" stroke="#d8d8d8" stroke-opacity=".8" stroke-width=".45"/><text x="3197.87" y="247.18" fill="#262626">0</text><rect x="3226.73" y="239.49" width="57.73" height="10.98" fill="#08306b" stroke="#d8d8d8" stroke-opacity=".8" stroke-width=".45"/><text x="3255.60" y="247.18" fill="#fff">16</text><rect x="3284.47" y="239.49" width="57.73" height="10.98" fill="#f7fbff" stroke="#d8d8d8" stroke-opacity=".8" stroke-width=".45"/><text x="3313.33" y="247.18" fill="#262626">0</text><text x="3164.90" y="258.16" text-anchor="end">NEGL</text><path d="M3169.00 255.96h-2.1" stroke="#333" stroke-width=".5"/><rect x="3169.00" y="250.47" width="57.73" height="10.98" fill="#c6dbef" stroke="#d8d8d8" stroke-opacity=".8" stroke-width=".45"/><text x="3197.87" y="258.16" fill="#262626">4</text><rect x="3226.73" y="250.47" width="57.73" height="10.98" fill="#3181bd" stroke="#d8d8d8" stroke-opacity=".8" stroke-width=".45"/><text x="3255.60" y="258.16" fill="#fff">11</text><rect x="3284.47" y="250.47" width="57.73" height="10.98" fill="#eaf3fb" stroke="#d8d8d8" stroke-opacity=".8" stroke-width=".45"/><text x="3313.33" y="258.16" fill="#262626">1</text><text x="3164.90" y="269.13" text-anchor="end">SELF</text><path d="M3169.00 266.93h-2.1" stroke="#333" stroke-width=".5"/><rect x="3169.00" y="261.45" width="57.73" height="10.98" fill="#9dcae1" stroke="#d8d8d8" stroke-opacity=".8" stroke-width=".45"/><text x="3197.87" y="269.13" fill="#262626">6</text><rect x="3226.73" y="261.45" width="57.73" height="10.98" fill="#4191c6" stroke="#d8d8d8" stroke-opacity=".8" stroke-width=".45"/><text x="3255.60" y="269.13" fill="#fff">10</text><rect x="3284.47" y="261.45" width="57.73" height="10.98" fill="#f7fbff" stroke="#d8d8d8" stroke-opacity=".8" stroke-width=".45"/><text x="3313.33" y="269.13" fill="#262626">0</text><text x="3164.90" y="280.11" text-anchor="end">UNPL</text><path d="M3169.00 277.91h-2.1" stroke="#333" stroke-width=".5"/><rect x="3169.00" y="272.42" width="57.73" height="10.98" fill="#f7fbff" stroke="#d8d8d8" stroke-opacity=".8" stroke-width=".45"/><text x="3197.87" y="280.11" fill="#262626">0</text><rect x="3226.73" y="272.42" width="57.73" height="10.98" fill="#084082" stroke="#d8d8d8" stroke-opacity=".8" stroke-width=".45"/><text x="3255.60" y="280.11" fill="#fff">15</text><rect x="3284.47" y="272.42" width="57.73" height="10.98" fill="#eaf3fb" stroke="#d8d8d8" stroke-opacity=".8" stroke-width=".45"/><text x="3313.33" y="280.11" fill="#262626">1</text><path d="M3197.87 283.40v2.2" stroke="#333" stroke-width=".5"/><text x="3197.87" y="292.10" font-size="5.9">female</text><path d="M3255.60 283.40v2.2" stroke="#333" stroke-width=".5"/><text x="3255.60" y="292.10" font-size="5.9">male</text><path d="M3313.33 283.40v2.2" stroke="#333" stroke-width=".5"/><text x="3313.33" y="292.10" font-size="5.9">undefined</text><text x="3459.05" y="137.10" font-size="7.29">Gender Distribution (Lexical Opposites)</text><text x="3368.50" y="148.39" text-anchor="end">HUMB</text><path d="M3372.60 146.19h-2.1" stroke="#333" stroke-width=".5"/><rect x="3372.60" y="140.70" width="57.63" height="10.98" fill="#81ca81" stroke="#d8d8d8" stroke-opacity=".8" stroke-width=".45"/><text x="3401.42" y="148.39" fill="#262626">6</text><rect x="3430.23" y="140.70" width="57.63" height="10.98" fill="#309950" stroke="#d8d8d8" stroke-opacity=".8" stroke-width=".45"/><text x="3459.05" y="148.39" fill="#fff">9</text><rect x="3487.87" y="140.70" width="57.63" height="10.98" fill="#ecf8e8" stroke="#d8d8d8" stroke-opacity=".8" stroke-width=".45"/><text x="3516.68" y="148.39" fill="#262626">1</text><text x="3368.50" y="159.37" text-anchor="end">SYMM</text><path d="M3372.60 157.17h-2.1" stroke="#333" stroke-width=".5"/><rect x="3372.60" y="151.68" width="57.63" height="10.98" fill="#81ca81" stroke="#d8d8d8" stroke-opacity=".8" stroke-width=".45"/><text x="3401.42" y="159.37" fill="#262626">6</text><rect x="3430.23" y="151.68" width="57.63" height="10.98" fill="#9ed798" stroke="#d8d8d8" stroke-opacity=".8" stroke-width=".45"/><text x="3459.05" y="159.37" fill="#262626">5</text><rect x="3487.87" y="151.68" width="57.63" height="10.98" fill="#9ed798" stroke="#d8d8d8" stroke-opacity=".8" stroke-width=".45"/><text x="3516.68" y="159.37" fill="#262626">5</text><text x="3368.50" y="170.34" text-anchor="end">SWEE</text><path d="M3372.60 168.14h-2.1" stroke="#333" stroke-width=".5"/><rect x="3372.60" y="162.65" width="57.63" height="10.98" fill="#00441b" stroke="#d8d8d8" stroke-opacity=".8" stroke-width=".45"/><text x="3401.42" y="170.34" fill="#fff">13</text><rect x="3430.23" y="162.65" width="57.63" height="10.98" fill="#cbebc5" stroke="#d8d8d8" stroke-opacity=".8" stroke-width=".45"/><text x="3459.05" y="170.34" fill="#262626">3</text><rect x="3487.87" y="162.65" width="57.63" height="10.98" fill="#f7fcf5" stroke="#d8d8d8" stroke-opacity=".8" stroke-width=".45"/><text x="3516.68" y="170.34" fill="#262626">0</text><text x="3368.50" y="181.32" text-anchor="end">KIND</text><path d="M3372.60 179.12h-2.1" stroke="#333" stroke-width=".5"/><rect x="3372.60" y="173.63" width="57.63" height="10.98" fill="#1e8741" stroke="#d8d8d8" stroke-opacity=".8" stroke-width=".45"/><text x="3401.42" y="181.32" fill="#fff">10</text><rect x="3430.23" y="173.63" width="57.63" height="10.98" fill="#81ca81" stroke="#d8d8d8" stroke-opacity=".8" stroke-width=".45"/><text x="3459.05" y="181.32" fill="#262626">6</text><rect x="3487.87" y="173.63" width="57.63" height="10.98" fill="#f7fcf5" stroke="#d8d8d8" stroke-opacity=".8" stroke-width=".45"/><text x="3516.68" y="181.32" fill="#262626">0</text><text x="3368.50" y="192.30" text-anchor="end">RECO</text><path d="M3372.60 190.10h-2.1" stroke="#333" stroke-width=".5"/><rect x="3372.60" y="184.61" width="57.63" height="10.98" fill="#81ca81" stroke="#d8d8d8" stroke-opacity=".8" stroke-width=".45"/><text x="3401.42" y="192.30" fill="#262626">6</text><rect x="3430.23" y="184.61" width="57.63" height="10.98" fill="#1e8741" stroke="#d8d8d8" stroke-opacity=".8" stroke-width=".45"/><text x="3459.05" y="192.30" fill="#fff">10</text><rect x="3487.87" y="184.61" width="57.63" height="10.98" fill="#f7fcf5" stroke="#d8d8d8" stroke-opacity=".8" stroke-width=".45"/><text x="3516.68" y="192.30" fill="#262626">0</text><text x="3368.50" y="203.27" text-anchor="end">HONE</text><path d="M3372.60 201.07h-2.1" stroke="#333" stroke-width=".5"/><rect x="3372.60" y="195.58" width="57.63" height="10.98" fill="#b6e2af" stroke="#d8d8d8" stroke-opacity=".8" stroke-width=".45"/><text x="3401.42" y="203.27" fill="#262626">4</text><rect x="3430.23" y="195.58" width="57.63" height="10.98" fill="#005c25" stroke="#d8d8d8" stroke-opacity=".8" stroke-width=".45"/><text x="3459.05" y="203.27" fill="#fff">12</text><rect x="3487.87" y="195.58" width="57.63" height="10.98" fill="#f7fcf5" stroke="#d8d8d8" stroke-opacity=".8" stroke-width=".45"/><text x="3516.68" y="203.27" fill="#262626">0</text><text x="3368.50" y="214.25" text-anchor="end">PERF</text><path d="M3372.60 212.05h-2.1" stroke="#333" stroke-width=".5"/><rect x="3372.60" y="206.56" width="57.63" height="10.98" fill="#309950" stroke="#d8d8d8" stroke-opacity=".8" stroke-width=".45"/><text x="3401.42" y="214.25" fill="#fff">9</text><rect x="3430.23" y="206.56" width="57.63" height="10.98" fill="#81ca81" stroke="#d8d8d8" stroke-opacity=".8" stroke-width=".45"/><text x="3459.05" y="214.25" fill="#262626">6</text><rect x="3487.87" y="206.56" width="57.63" height="10.98" fill="#ecf8e8" stroke="#d8d8d8" stroke-opacity=".8" stroke-width=".45"/><text x="3516.68" y="214.25" fill="#262626">1</text><text x="3368.50" y="225.23" text-anchor="end">AEST</text><path d="M3372.60 223.03h-2.1" stroke="#333" stroke-width=".5"/><rect x="3372.60" y="217.54" width="57.63" height="10.98" fill="#087432" stroke="#d8d8d8" stroke-opacity=".8" stroke-width=".45"/><text x="3401.42" y="225.23" fill="#fff">11</text><rect x="3430.23" y="217.54" width="57.63" height="10.98" fill="#b6e2af" stroke="#d8d8d8" stroke-opacity=".8" stroke-width=".45"/><text x="3459.05" y="225.23" fill="#262626">4</text><rect x="3487.87" y="217.54" width="57.63" height="10.98" fill="#ecf8e8" stroke="#d8d8d8" stroke-opacity=".8" stroke-width=".45"/><text x="3516.68" y="225.23" fill="#262626">1</text><text x="3368.50" y="236.20" text-anchor="end">GENT</text><path d="M3372.60 234.00h-2.1" stroke="#333" stroke-width=".5"/><rect x="3372.60" y="228.52" width="57.63" height="10.98" fill="#1e8741" stroke="#d8d8d8" stroke-opacity=".8" stroke-width=".45"/><text x="3401.42" y="236.20" fill="#fff">10</text><rect x="3430.23" y="228.52" width="57.63" height="10.98" fill="#81ca81" stroke="#d8d8d8" stroke-opacity=".8" stroke-width=".45"/><text x="3459.05" y="236.20" fill="#262626">6</text><rect x="3487.87" y="228.52" width="57.63" height="10.98" fill="#f7fcf5" stroke="#d8d8d8" stroke-opacity=".8" stroke-width=".45"/><text x="3516.68" y="236.20" fill="#262626">0</text><text x="3368.50" y="247.18" text-anchor="end">TOLE</text><path d="M3372.60 244.98h-2.1" stroke="#333" stroke-width=".5"/><rect x="3372.60" y="239.49" width="57.63" height="10.98" fill="#9ed798" stroke="#d8d8d8" stroke-opacity=".8" stroke-width=".45"/><text x="3401.42" y="247.18" fill="#262626">5</text><rect x="3430.23" y="239.49" width="57.63" height="10.98" fill="#1e8741" stroke="#d8d8d8" stroke-opacity=".8" stroke-width=".45"/><text x="3459.05" y="247.18" fill="#fff">10</text><rect x="3487.87" y="239.49" width="57.63" height="10.98" fill="#ecf8e8" stroke="#d8d8d8" stroke-opacity=".8" stroke-width=".45"/><text x="3516.68" y="247.18" fill="#262626">1</text><text x="3368.50" y="258.16" text-anchor="end">ATTEN</text><path d="M3372.60 255.96h-2.1" stroke="#333" stroke-width=".5"/><rect x="3372.60" y="250.47" width="57.63" height="10.98" fill="#309950" stroke="#d8d8d8" stroke-opacity=".8" stroke-width=".45"/><text x="3401.42" y="258.16" fill="#fff">9</text><rect x="3430.23" y="250.47" width="57.63" height="10.98" fill="#65bd6f" stroke="#d8d8d8" stroke-opacity=".8" stroke-width=".45"/><text x="3459.05" y="258.16" fill="#fff">7</text><rect x="3487.87" y="250.47" width="57.63" height="10.98" fill="#f7fcf5" stroke="#d8d8d8" stroke-opacity=".8" stroke-width=".45"/><text x="3516.68" y="258.16" fill="#262626">0</text><text x="3368.50" y="269.13" text-anchor="end">SELFL</text><path d="M3372.60 266.93h-2.1" stroke="#333" stroke-width=".5"/><rect x="3372.60" y="261.45" width="57.63" height="10.98" fill="#65bd6f" stroke="#d8d8d8" stroke-opacity=".8" stroke-width=".45"/><text x="3401.42" y="269.13" fill="#fff">7</text><rect x="3430.23" y="261.45" width="57.63" height="10.98" fill="#45ad5f" stroke="#d8d8d8" stroke-opacity=".8" stroke-width=".45"/><text x="3459.05" y="269.13" fill="#fff">8</text><rect x="3487.87" y="261.45" width="57.63" height="10.98" fill="#ecf8e8" stroke="#d8d8d8" stroke-opacity=".8" stroke-width=".45"/><text x="3516.68" y="269.13" fill="#262626">1</text><text x="3368.50" y="280.11" text-anchor="end">PLEA</text><path d="M3372.60 277.91h-2.1" stroke="#333" stroke-width=".5"/><rect x="3372.60" y="272.42" width="57.63" height="10.98" fill="#309950" stroke="#d8d8d8" stroke-opacity=".8" stroke-width=".45"/><text x="3401.42" y="280.11" fill="#fff">9</text><rect x="3430.23" y="272.42" width="57.63" height="10.98" fill="#65bd6f" stroke="#d8d8d8" stroke-opacity=".8" stroke-width=".45"/><text x="3459.05" y="280.11" fill="#fff">7</text><rect x="3487.87" y="272.42" width="57.63" height="10.98" fill="#f7fcf5" stroke="#d8d8d8" stroke-opacity=".8" stroke-width=".45"/><text x="3516.68" y="280.11" fill="#262626">0</text><path d="M3401.42 283.40v2.2" stroke="#333" stroke-width=".5"/><text x="3401.42" y="292.10" font-size="5.9">female</text><path d="M3459.05 283.40v2.2" stroke="#333" stroke-width=".5"/><text x="3459.05" y="292.10" font-size="5.9">male</text><path d="M3516.68 283.40v2.2" stroke="#333" stroke-width=".5"/><text x="3516.68" y="292.10" font-size="5.9">undefined</text><text x="3050.65" y="312.50" font-size="7.29">Age Distribution (without Condition)</text><text x="2960.40" y="323.55" text-anchor="end">ARRO</text><path d="M2964.50 321.35h-2.1" stroke="#333" stroke-width=".5"/><rect x="2964.50" y="316.10" width="34.46" height="10.50" fill="#f7fbff" stroke="#d8d8d8" stroke-opacity=".8" stroke-width=".45"/><text x="2981.73" y="323.55" fill="#262626">0</text><rect x="2998.96" y="316.10" width="34.46" height="10.50" fill="#0e58a2" stroke="#d8d8d8" stroke-opacity=".8" stroke-width=".45"/><text x="3016.19" y="323.55" fill="#fff">11</text><rect x="3033.42" y="316.10" width="34.46" height="10.50" fill="#b4d3e9" stroke="#d8d8d8" stroke-opacity=".8" stroke-width=".45"/><text x="3050.65" y="323.55" fill="#262626">4</text><rect x="3067.88" y="316.10" width="34.46" height="10.50" fill="#e8f1fa" stroke="#d8d8d8" stroke-opacity=".8" stroke-width=".45"/><text x="3085.11" y="323.55" fill="#262626">1</text><rect x="3102.34" y="316.10" width="34.46" height="10.50" fill="#f7fbff" stroke="#d8d8d8" stroke-opacity=".8" stroke-width=".45"/><text x="3119.57" y="323.55" fill="#262626">0</text><text x="2960.40" y="334.05" text-anchor="end">ASYM</text><path d="M2964.50 331.85h-2.1" stroke="#333" stroke-width=".5"/><rect x="2964.50" y="326.60" width="34.46" height="10.50" fill="#f7fbff" stroke="#d8d8d8" stroke-opacity=".8" stroke-width=".45"/><text x="2981.73" y="334.05" fill="#262626">0</text><rect x="2998.96" y="326.60" width="34.46" height="10.50" fill="#08306b" stroke="#d8d8d8" stroke-opacity=".8" stroke-width=".45"/><text x="3016.19" y="334.05" fill="#fff">13</text><rect x="3033.42" y="326.60" width="34.46" height="10.50" fill="#caddf0" stroke="#d8d8d8" stroke-opacity=".8" stroke-width=".45"/><text x="3050.65" y="334.05" fill="#262626">3</text><rect x="3067.88" y="326.60" width="34.46" height="10.50" fill="#f7fbff" stroke="#d8d8d8" stroke-opacity=".8" stroke-width=".45"/><text x="3085.11" y="334.05" fill="#262626">0</text><rect x="3102.34" y="326.60" width="34.46" height="10.50" fill="#f7fbff" stroke="#d8d8d8" stroke-opacity=".8" stroke-width=".45"/><text x="3119.57" y="334.05" fill="#262626">0</text><text x="2960.40" y="344.55" text-anchor="end">BITT</text><path d="M2964.50 342.35h-2.1" stroke="#333" stroke-width=".5"/><rect x="2964.50" y="337.10" width="34.46" height="10.50" fill="#d9e7f5" stroke="#d8d8d8" stroke-opacity=".8" stroke-width=".45"/><text x="2981.73" y="344.55" fill="#262626">2</text><rect x="2998.96" y="337.10" width="34.46" height="10.50" fill="#d9e7f5" stroke="#d8d8d8" stroke-opacity=".8" stroke-width=".45"/><text x="3016.19" y="344.55" fill="#262626">2</text><rect x="3033.42" y="337.10" width="34.46" height="10.50" fill="#4594c7" stroke="#d8d8d8" stroke-opacity=".8" stroke-width=".45"/><text x="3050.65" y="344.55" fill="#fff">8</text><rect x="3067.88" y="337.10" width="34.46" height="10.50" fill="#b4d3e9" stroke="#d8d8d8" stroke-opacity=".8" stroke-width=".45"/><text x="3085.11" y="344.55" fill="#262626">4</text><rect x="3102.34" y="337.10" width="34.46" height="10.50" fill="#f7fbff" stroke="#d8d8d8" stroke-opacity=".8" stroke-width=".45"/><text x="3119.57" y="344.55" fill="#262626">0</text><text x="2960.40" y="355.05" text-anchor="end">CRUE</text><path d="M2964.50 352.85h-2.1" stroke="#333" stroke-width=".5"/><rect x="2964.50" y="347.60" width="34.46" height="10.50" fill="#e8f1fa" stroke="#d8d8d8" stroke-opacity=".8" stroke-width=".45"/><text x="2981.73" y="355.05" fill="#262626">1</text><rect x="2998.96" y="347.60" width="34.46" height="10.50" fill="#d9e7f5" stroke="#d8d8d8" stroke-opacity=".8" stroke-width=".45"/><text x="3016.19" y="355.05" fill="#262626">2</text><rect x="3033.42" y="347.60" width="34.46" height="10.50" fill="#1d6cb1" stroke="#d8d8d8" stroke-opacity=".8" stroke-width=".45"/><text x="3050.65" y="355.05" fill="#fff">10</text><rect x="3067.88" y="347.60" width="34.46" height="10.50" fill="#d9e7f5" stroke="#d8d8d8" stroke-opacity=".8" stroke-width=".45"/><text x="3085.11" y="355.05" fill="#262626">2</text><rect x="3102.34" y="347.60" width="34.46" height="10.50" fill="#e8f1fa" stroke="#d8d8d8" stroke-opacity=".8" stroke-width=".45"/><text x="3119.57" y="355.05" fill="#262626">1</text><text x="2960.40" y="365.55" text-anchor="end">DECA</text><path d="M2964.50 363.35h-2.1" stroke="#333" stroke-width=".5"/><rect x="2964.50" y="358.10" width="34.46" height="10.50" fill="#f7fbff" stroke="#d8d8d8" stroke-opacity=".8" stroke-width=".45"/><text x="2981.73" y="365.55" fill="#262626">0</text><rect x="2998.96" y="358.10" width="34.46" height="10.50" fill="#f7fbff" stroke="#d8d8d8" stroke-opacity=".8" stroke-width=".45"/><text x="3016.19" y="365.55" fill="#262626">0</text><rect x="3033.42" y="358.10" width="34.46" height="10.50" fill="#f7fbff" stroke="#d8d8d8" stroke-opacity=".8" stroke-width=".45"/><text x="3050.65" y="365.55" fill="#262626">0</text><rect x="3067.88" y="358.10" width="34.46" height="10.50" fill="#5fa6d1" stroke="#d8d8d8" stroke-opacity=".8" stroke-width=".45"/><text x="3085.11" y="365.55" fill="#fff">7</text><rect x="3102.34" y="358.10" width="34.46" height="10.50" fill="#3080bd" stroke="#d8d8d8" stroke-opacity=".8" stroke-width=".45"/><text x="3119.57" y="365.55" fill="#fff">9</text><text x="2960.40" y="376.05" text-anchor="end">DISH</text><path d="M2964.50 373.85h-2.1" stroke="#333" stroke-width=".5"/><rect x="2964.50" y="368.60" width="34.46" height="10.50" fill="#f7fbff" stroke="#d8d8d8" stroke-opacity=".8" stroke-width=".45"/><text x="2981.73" y="376.05" fill="#262626">0</text><rect x="2998.96" y="368.60" width="34.46" height="10.50" fill="#7ab6d9" stroke="#d8d8d8" stroke-opacity=".8" stroke-width=".45"/><text x="3016.19" y="376.05" fill="#262626">6</text><rect x="3033.42" y="368.60" width="34.46" height="10.50" fill="#3080bd" stroke="#d8d8d8" stroke-opacity=".8" stroke-width=".45"/><text x="3050.65" y="376.05" fill="#fff">9</text><rect x="3067.88" y="368.60" width="34.46" height="10.50" fill="#e8f1fa" stroke="#d8d8d8" stroke-opacity=".8" stroke-width=".45"/><text x="3085.11" y="376.05" fill="#262626">1</text><rect x="3102.34" y="368.60" width="34.46" height="10.50" fill="#f7fbff" stroke="#d8d8d8" stroke-opacity=".8" stroke-width=".45"/><text x="3119.57" y="376.05" fill="#262626">0</text><text x="2960.40" y="386.55" text-anchor="end">DIST</text><path d="M2964.50 384.35h-2.1" stroke="#333" stroke-width=".5"/><rect x="2964.50" y="379.10" width="34.46" height="10.50" fill="#f7fbff" stroke="#d8d8d8" stroke-opacity=".8" stroke-width=".45"/><text x="2981.73" y="386.55" fill="#262626">0</text><rect x="2998.96" y="379.10" width="34.46" height="10.50" fill="#b4d3e9" stroke="#d8d8d8" stroke-opacity=".8" stroke-width=".45"/><text x="3016.19" y="386.55" fill="#262626">4</text><rect x="3033.42" y="379.10" width="34.46" height="10.50" fill="#b4d3e9" stroke="#d8d8d8" stroke-opacity=".8" stroke-width=".45"/><text x="3050.65" y="386.55" fill="#262626">4</text><rect x="3067.88" y="379.10" width="34.46" height="10.50" fill="#f7fbff" stroke="#d8d8d8" stroke-opacity=".8" stroke-width=".45"/><text x="3085.11" y="386.55" fill="#262626">0</text><rect x="3102.34" y="379.10" width="34.46" height="10.50" fill="#4594c7" stroke="#d8d8d8" stroke-opacity=".8" stroke-width=".45"/><text x="3119.57" y="386.55" fill="#fff">8</text><text x="2960.40" y="397.05" text-anchor="end">GROT</text><path d="M2964.50 394.85h-2.1" stroke="#333" stroke-width=".5"/><rect x="2964.50" y="389.60" width="34.46" height="10.50" fill="#f7fbff" stroke="#d8d8d8" stroke-opacity=".8" stroke-width=".45"/><text x="2981.73" y="397.05" fill="#262626">0</text><rect x="2998.96" y="389.60" width="34.46" height="10.50" fill="#f7fbff" stroke="#d8d8d8" stroke-opacity=".8" stroke-width=".45"/><text x="3016.19" y="397.05" fill="#262626">0</text><rect x="3033.42" y="389.60" width="34.46" height="10.50" fill="#9ac8e0" stroke="#d8d8d8" stroke-opacity=".8" stroke-width=".45"/><text x="3050.65" y="397.05" fill="#262626">5</text><rect x="3067.88" y="389.60" width="34.46" height="10.50" fill="#9ac8e0" stroke="#d8d8d8" stroke-opacity=".8" stroke-width=".45"/><text x="3085.11" y="397.05" fill="#262626">5</text><rect x="3102.34" y="389.60" width="34.46" height="10.50" fill="#7ab6d9" stroke="#d8d8d8" stroke-opacity=".8" stroke-width=".45"/><text x="3119.57" y="397.05" fill="#262626">6</text><text x="2960.40" y="407.55" text-anchor="end">HARS</text><path d="M2964.50 405.35h-2.1" stroke="#333" stroke-width=".5"/><rect x="2964.50" y="400.10" width="34.46" height="10.50" fill="#f7fbff" stroke="#d8d8d8" stroke-opacity=".8" stroke-width=".45"/><text x="2981.73" y="407.55" fill="#262626">0</text><rect x="2998.96" y="400.10" width="34.46" height="10.50" fill="#b4d3e9" stroke="#d8d8d8" stroke-opacity=".8" stroke-width=".45"/><text x="3016.19" y="407.55" fill="#262626">4</text><rect x="3033.42" y="400.10" width="34.46" height="10.50" fill="#1d6cb1" stroke="#d8d8d8" stroke-opacity=".8" stroke-width=".45"/><text x="3050.65" y="407.55" fill="#fff">10</text><rect x="3067.88" y="400.10" width="34.46" height="10.50" fill="#d9e7f5" stroke="#d8d8d8" stroke-opacity=".8" stroke-width=".45"/><text x="3085.11" y="407.55" fill="#262626">2</text><rect x="3102.34" y="400.10" width="34.46" height="10.50" fill="#f7fbff" stroke="#d8d8d8" stroke-opacity=".8" stroke-width=".45"/><text x="3119.57" y="407.55" fill="#262626">0</text><text x="2960.40" y="418.05" text-anchor="end">INTO</text><path d="M2964.50 415.85h-2.1" stroke="#333" stroke-width=".5"/><rect x="2964.50" y="410.60" width="34.46" height="10.50" fill="#f7fbff" stroke="#d8d8d8" stroke-opacity=".8" stroke-width=".45"/><text x="2981.73" y="418.05" fill="#262626">0</text><rect x="2998.96" y="410.60" width="34.46" height="10.50" fill="#e8f1fa" stroke="#d8d8d8" stroke-opacity=".8" stroke-width=".45"/><text x="3016.19" y="418.05" fill="#262626">1</text><rect x="3033.42" y="410.60" width="34.46" height="10.50" fill="#084488" stroke="#d8d8d8" stroke-opacity=".8" stroke-width=".45"/><text x="3050.65" y="418.05" fill="#fff">12</text><rect x="3067.88" y="410.60" width="34.46" height="10.50" fill="#caddf0" stroke="#d8d8d8" stroke-opacity=".8" stroke-width=".45"/><text x="3085.11" y="418.05" fill="#262626">3</text><rect x="3102.34" y="410.60" width="34.46" height="10.50" fill="#f7fbff" stroke="#d8d8d8" stroke-opacity=".8" stroke-width=".45"/><text x="3119.57" y="418.05" fill="#262626">0</text><text x="2960.40" y="428.55" text-anchor="end">NEGL</text><path d="M2964.50 426.35h-2.1" stroke="#333" stroke-width=".5"/><rect x="2964.50" y="421.10" width="34.46" height="10.50" fill="#f7fbff" stroke="#d8d8d8" stroke-opacity=".8" stroke-width=".45"/><text x="2981.73" y="428.55" fill="#262626">0</text><rect x="2998.96" y="421.10" width="34.46" height="10.50" fill="#7ab6d9" stroke="#d8d8d8" stroke-opacity=".8" stroke-width=".45"/><text x="3016.19" y="428.55" fill="#262626">6</text><rect x="3033.42" y="421.10" width="34.46" height="10.50" fill="#7ab6d9" stroke="#d8d8d8" stroke-opacity=".8" stroke-width=".45"/><text x="3050.65" y="428.55" fill="#262626">6</text><rect x="3067.88" y="421.10" width="34.46" height="10.50" fill="#b4d3e9" stroke="#d8d8d8" stroke-opacity=".8" stroke-width=".45"/><text x="3085.11" y="428.55" fill="#262626">4</text><rect x="3102.34" y="421.10" width="34.46" height="10.50" fill="#f7fbff" stroke="#d8d8d8" stroke-opacity=".8" stroke-width=".45"/><text x="3119.57" y="428.55" fill="#262626">0</text><text x="2960.40" y="439.05" text-anchor="end">SELF</text><path d="M2964.50 436.85h-2.1" stroke="#333" stroke-width=".5"/><rect x="2964.50" y="431.60" width="34.46" height="10.50" fill="#f7fbff" stroke="#d8d8d8" stroke-opacity=".8" stroke-width=".45"/><text x="2981.73" y="439.05" fill="#262626">0</text><rect x="2998.96" y="431.60" width="34.46" height="10.50" fill="#5fa6d1" stroke="#d8d8d8" stroke-opacity=".8" stroke-width=".45"/><text x="3016.19" y="439.05" fill="#fff">7</text><rect x="3033.42" y="431.60" width="34.46" height="10.50" fill="#3080bd" stroke="#d8d8d8" stroke-opacity=".8" stroke-width=".45"/><text x="3050.65" y="439.05" fill="#fff">9</text><rect x="3067.88" y="431.60" width="34.46" height="10.50" fill="#f7fbff" stroke="#d8d8d8" stroke-opacity=".8" stroke-width=".45"/><text x="3085.11" y="439.05" fill="#262626">0</text><rect x="3102.34" y="431.60" width="34.46" height="10.50" fill="#f7fbff" stroke="#d8d8d8" stroke-opacity=".8" stroke-width=".45"/><text x="3119.57" y="439.05" fill="#262626">0</text><text x="2960.40" y="449.55" text-anchor="end">UNPL</text><path d="M2964.50 447.35h-2.1" stroke="#333" stroke-width=".5"/><rect x="2964.50" y="442.10" width="34.46" height="10.50" fill="#f7fbff" stroke="#d8d8d8" stroke-opacity=".8" stroke-width=".45"/><text x="2981.73" y="449.55" fill="#262626">0</text><rect x="2998.96" y="442.10" width="34.46" height="10.50" fill="#e8f1fa" stroke="#d8d8d8" stroke-opacity=".8" stroke-width=".45"/><text x="3016.19" y="449.55" fill="#262626">1</text><rect x="3033.42" y="442.10" width="34.46" height="10.50" fill="#4594c7" stroke="#d8d8d8" stroke-opacity=".8" stroke-width=".45"/><text x="3050.65" y="449.55" fill="#fff">8</text><rect x="3067.88" y="442.10" width="34.46" height="10.50" fill="#5fa6d1" stroke="#d8d8d8" stroke-opacity=".8" stroke-width=".45"/><text x="3085.11" y="449.55" fill="#fff">7</text><rect x="3102.34" y="442.10" width="34.46" height="10.50" fill="#f7fbff" stroke="#d8d8d8" stroke-opacity=".8" stroke-width=".45"/><text x="3119.57" y="449.55" fill="#262626">0</text><path d="M2981.73 452.60v2.2" stroke="#333" stroke-width=".5"/><text x="2981.73" y="461.30" font-size="5.9">child</text><text x="2981.73" y="468.40" font-size="5.9">adolescent</text><path d="M3016.19 452.60v2.2" stroke="#333" stroke-width=".5"/><text x="3016.19" y="461.30" font-size="5.9">young</text><text x="3016.19" y="468.40" font-size="5.9">adult</text><path d="M3050.65 452.60v2.2" stroke="#333" stroke-width=".5"/><text x="3050.65" y="461.30" font-size="5.9">middle</text><text x="3050.65" y="468.40" font-size="5.9">aged</text><path d="M3085.11 452.60v2.2" stroke="#333" stroke-width=".5"/><text x="3085.11" y="461.30" font-size="5.9">senior</text><path d="M3119.57 452.60v2.2" stroke="#333" stroke-width=".5"/><text x="3119.57" y="461.30" font-size="5.9">undefined</text><text x="3255.60" y="312.50" font-size="7.29">Age Distribution (with Condition)</text><text x="3165.20" y="323.55" text-anchor="end">ARRO</text><path d="M3169.30 321.35h-2.1" stroke="#333" stroke-width=".5"/><rect x="3169.30" y="316.10" width="34.52" height="10.50" fill="#e7f0fa" stroke="#d8d8d8" stroke-opacity=".8" stroke-width=".45"/><text x="3186.56" y="323.55" fill="#262626">1</text><rect x="3203.82" y="316.10" width="34.52" height="10.50" fill="#c6dbef" stroke="#d8d8d8" stroke-opacity=".8" stroke-width=".45"/><text x="3221.08" y="323.55" fill="#262626">3</text><rect x="3238.34" y="316.10" width="34.52" height="10.50" fill="#6aaed6" stroke="#d8d8d8" stroke-opacity=".8" stroke-width=".45"/><text x="3255.60" y="323.55" fill="#fff">6</text><rect x="3272.86" y="316.10" width="34.52" height="10.50" fill="#8dc1dd" stroke="#d8d8d8" stroke-opacity=".8" stroke-width=".45"/><text x="3290.12" y="323.55" fill="#262626">5</text><rect x="3307.38" y="316.10" width="34.52" height="10.50" fill="#e7f0fa" stroke="#d8d8d8" stroke-opacity=".8" stroke-width=".45"/><text x="3324.64" y="323.55" fill="#262626">1</text><text x="3165.20" y="334.05" text-anchor="end">ASYM</text><path d="M3169.30 331.85h-2.1" stroke="#333" stroke-width=".5"/><rect x="3169.30" y="326.60" width="34.52" height="10.50" fill="#f7fbff" stroke="#d8d8d8" stroke-opacity=".8" stroke-width=".45"/><text x="3186.56" y="334.05" fill="#262626">0</text><rect x="3203.82" y="326.60" width="34.52" height="10.50" fill="#4f9bcb" stroke="#d8d8d8" stroke-opacity=".8" stroke-width=".45"/><text x="3221.08" y="334.05" fill="#fff">7</text><rect x="3238.34" y="326.60" width="34.52" height="10.50" fill="#abd0e6" stroke="#d8d8d8" stroke-opacity=".8" stroke-width=".45"/><text x="3255.60" y="334.05" fill="#262626">4</text><rect x="3272.86" y="326.60" width="34.52" height="10.50" fill="#abd0e6" stroke="#d8d8d8" stroke-opacity=".8" stroke-width=".45"/><text x="3290.12" y="334.05" fill="#262626">4</text><rect x="3307.38" y="326.60" width="34.52" height="10.50" fill="#e7f0fa" stroke="#d8d8d8" stroke-opacity=".8" stroke-width=".45"/><text x="3324.64" y="334.05" fill="#262626">1</text><text x="3165.20" y="344.55" text-anchor="end">BITT</text><path d="M3169.30 342.35h-2.1" stroke="#333" stroke-width=".5"/><rect x="3169.30" y="337.10" width="34.52" height="10.50" fill="#f7fbff" stroke="#d8d8d8" stroke-opacity=".8" stroke-width=".45"/><text x="3186.56" y="344.55" fill="#262626">0</text><rect x="3203.82" y="337.10" width="34.52" height="10.50" fill="#c6dbef" stroke="#d8d8d8" stroke-opacity=".8" stroke-width=".45"/><text x="3221.08" y="344.55" fill="#262626">3</text><rect x="3238.34" y="337.10" width="34.52" height="10.50" fill="#d6e6f4" stroke="#d8d8d8" stroke-opacity=".8" stroke-width=".45"/><text x="3255.60" y="344.55" fill="#262626">2</text><rect x="3272.86" y="337.10" width="34.52" height="10.50" fill="#08468b" stroke="#d8d8d8" stroke-opacity=".8" stroke-width=".45"/><text x="3290.12" y="344.55" fill="#fff">11</text><rect x="3307.38" y="337.10" width="34.52" height="10.50" fill="#f7fbff" stroke="#d8d8d8" stroke-opacity=".8" stroke-width=".45"/><text x="3324.64" y="344.55" fill="#262626">0</text><text x="3165.20" y="355.05" text-anchor="end">CRUE</text><path d="M3169.30 352.85h-2.1" stroke="#333" stroke-width=".5"/><rect x="3169.30" y="347.60" width="34.52" height="10.50" fill="#f7fbff" stroke="#d8d8d8" stroke-opacity=".8" stroke-width=".45"/><text x="3186.56" y="355.05" fill="#262626">0</text><rect x="3203.82" y="347.60" width="34.52" height="10.50" fill="#abd0e6" stroke="#d8d8d8" stroke-opacity=".8" stroke-width=".45"/><text x="3221.08" y="355.05" fill="#262626">4</text><rect x="3238.34" y="347.60" width="34.52" height="10.50" fill="#d6e6f4" stroke="#d8d8d8" stroke-opacity=".8" stroke-width=".45"/><text x="3255.60" y="355.05" fill="#262626">2</text><rect x="3272.86" y="347.60" width="34.52" height="10.50" fill="#2070b4" stroke="#d8d8d8" stroke-opacity=".8" stroke-width=".45"/><text x="3290.12" y="355.05" fill="#fff">9</text><rect x="3307.38" y="347.60" width="34.52" height="10.50" fill="#e7f0fa" stroke="#d8d8d8" stroke-opacity=".8" stroke-width=".45"/><text x="3324.64" y="355.05" fill="#262626">1</text><text x="3165.20" y="365.55" text-anchor="end">DECA</text><path d="M3169.30 363.35h-2.1" stroke="#333" stroke-width=".5"/><rect x="3169.30" y="358.10" width="34.52" height="10.50" fill="#f7fbff" stroke="#d8d8d8" stroke-opacity=".8" stroke-width=".45"/><text x="3186.56" y="365.55" fill="#262626">0</text><rect x="3203.82" y="358.10" width="34.52" height="10.50" fill="#e7f0fa" stroke="#d8d8d8" stroke-opacity=".8" stroke-width=".45"/><text x="3221.08" y="365.55" fill="#262626">1</text><rect x="3238.34" y="358.10" width="34.52" height="10.50" fill="#f7fbff" stroke="#d8d8d8" stroke-opacity=".8" stroke-width=".45"/><text x="3255.60" y="365.55" fill="#262626">0</text><rect x="3272.86" y="358.10" width="34.52" height="10.50" fill="#c6dbef" stroke="#d8d8d8" stroke-opacity=".8" stroke-width=".45"/><text x="3290.12" y="365.55" fill="#262626">3</text><rect x="3307.38" y="358.10" width="34.52" height="10.50" fill="#08306b" stroke="#d8d8d8" stroke-opacity=".8" stroke-width=".45"/><text x="3324.64" y="365.55" fill="#fff">12</text><text x="3165.20" y="376.05" text-anchor="end">DISH</text><path d="M3169.30 373.85h-2.1" stroke="#333" stroke-width=".5"/><rect x="3169.30" y="368.60" width="34.52" height="10.50" fill="#f7fbff" stroke="#d8d8d8" stroke-opacity=".8" stroke-width=".45"/><text x="3186.56" y="376.05" fill="#262626">0</text><rect x="3203.82" y="368.60" width="34.52" height="10.50" fill="#abd0e6" stroke="#d8d8d8" stroke-opacity=".8" stroke-width=".45"/><text x="3221.08" y="376.05" fill="#262626">4</text><rect x="3238.34" y="368.60" width="34.52" height="10.50" fill="#2070b4" stroke="#d8d8d8" stroke-opacity=".8" stroke-width=".45"/><text x="3255.60" y="376.05" fill="#fff">9</text><rect x="3272.86" y="368.60" width="34.52" height="10.50" fill="#d6e6f4" stroke="#d8d8d8" stroke-opacity=".8" stroke-width=".45"/><text x="3290.12" y="376.05" fill="#262626">2</text><rect x="3307.38" y="368.60" width="34.52" height="10.50" fill="#e7f0fa" stroke="#d8d8d8" stroke-opacity=".8" stroke-width=".45"/><text x="3324.64" y="376.05" fill="#262626">1</text><text x="3165.20" y="386.55" text-anchor="end">DIST</text><path d="M3169.30 384.35h-2.1" stroke="#333" stroke-width=".5"/><rect x="3169.30" y="379.10" width="34.52" height="10.50" fill="#f7fbff" stroke="#d8d8d8" stroke-opacity=".8" stroke-width=".45"/><text x="3186.56" y="386.55" fill="#262626">0</text><rect x="3203.82" y="379.10" width="34.52" height="10.50" fill="#6aaed6" stroke="#d8d8d8" stroke-opacity=".8" stroke-width=".45"/><text x="3221.08" y="386.55" fill="#fff">6</text><rect x="3238.34" y="379.10" width="34.52" height="10.50" fill="#4f9bcb" stroke="#d8d8d8" stroke-opacity=".8" stroke-width=".45"/><text x="3255.60" y="386.55" fill="#fff">7</text><rect x="3272.86" y="379.10" width="34.52" height="10.50" fill="#f7fbff" stroke="#d8d8d8" stroke-opacity=".8" stroke-width=".45"/><text x="3290.12" y="386.55" fill="#262626">0</text><rect x="3307.38" y="379.10" width="34.52" height="10.50" fill="#c6dbef" stroke="#d8d8d8" stroke-opacity=".8" stroke-width=".45"/><text x="3324.64" y="386.55" fill="#262626">3</text><text x="3165.20" y="397.05" text-anchor="end">GROT</text><path d="M3169.30 394.85h-2.1" stroke="#333" stroke-width=".5"/><rect x="3169.30" y="389.60" width="34.52" height="10.50" fill="#f7fbff" stroke="#d8d8d8" stroke-opacity=".8" stroke-width=".45"/><text x="3186.56" y="397.05" fill="#262626">0</text><rect x="3203.82" y="389.60" width="34.52" height="10.50" fill="#e7f0fa" stroke="#d8d8d8" stroke-opacity=".8" stroke-width=".45"/><text x="3221.08" y="397.05" fill="#262626">1</text><rect x="3238.34" y="389.60" width="34.52" height="10.50" fill="#c6dbef" stroke="#d8d8d8" stroke-opacity=".8" stroke-width=".45"/><text x="3255.60" y="397.05" fill="#262626">3</text><rect x="3272.86" y="389.60" width="34.52" height="10.50" fill="#08468b" stroke="#d8d8d8" stroke-opacity=".8" stroke-width=".45"/><text x="3290.12" y="397.05" fill="#fff">11</text><rect x="3307.38" y="389.60" width="34.52" height="10.50" fill="#e7f0fa" stroke="#d8d8d8" stroke-opacity=".8" stroke-width=".45"/><text x="3324.64" y="397.05" fill="#262626">1</text><text x="3165.20" y="407.55" text-anchor="end">HARS</text><path d="M3169.30 405.35h-2.1" stroke="#333" stroke-width=".5"/><rect x="3169.30" y="400.10" width="34.52" height="10.50" fill="#e7f0fa" stroke="#d8d8d8" stroke-opacity=".8" stroke-width=".45"/><text x="3186.56" y="407.55" fill="#262626">1</text><rect x="3203.82" y="400.10" width="34.52" height="10.50" fill="#e7f0fa" stroke="#d8d8d8" stroke-opacity=".8" stroke-width=".45"/><text x="3221.08" y="407.55" fill="#262626">1</text><rect x="3238.34" y="400.10" width="34.52" height="10.50" fill="#3787c0" stroke="#d8d8d8" stroke-opacity=".8" stroke-width=".45"/><text x="3255.60" y="407.55" fill="#fff">8</text><rect x="3272.86" y="400.10" width="34.52" height="10.50" fill="#6aaed6" stroke="#d8d8d8" stroke-opacity=".8" stroke-width=".45"/><text x="3290.12" y="407.55" fill="#fff">6</text><rect x="3307.38" y="400.10" width="34.52" height="10.50" fill="#f7fbff" stroke="#d8d8d8" stroke-opacity=".8" stroke-width=".45"/><text x="3324.64" y="407.55" fill="#262626">0</text><text x="3165.20" y="418.05" text-anchor="end">INTO</text><path d="M3169.30 415.85h-2.1" stroke="#333" stroke-width=".5"/><rect x="3169.30" y="410.60" width="34.52" height="10.50" fill="#f7fbff" stroke="#d8d8d8" stroke-opacity=".8" stroke-width=".45"/><text x="3186.56" y="418.05" fill="#262626">0</text><rect x="3203.82" y="410.60" width="34.52" height="10.50" fill="#e7f0fa" stroke="#d8d8d8" stroke-opacity=".8" stroke-width=".45"/><text x="3221.08" y="418.05" fill="#262626">1</text><rect x="3238.34" y="410.60" width="34.52" height="10.50" fill="#abd0e6" stroke="#d8d8d8" stroke-opacity=".8" stroke-width=".45"/><text x="3255.60" y="418.05" fill="#262626">4</text><rect x="3272.86" y="410.60" width="34.52" height="10.50" fill="#08468b" stroke="#d8d8d8" stroke-opacity=".8" stroke-width=".45"/><text x="3290.12" y="418.05" fill="#fff">11</text><rect x="3307.38" y="410.60" width="34.52" height="10.50" fill="#f7fbff" stroke="#d8d8d8" stroke-opacity=".8" stroke-width=".45"/><text x="3324.64" y="418.05" fill="#262626">0</text><text x="3165.20" y="428.55" text-anchor="end">NEGL</text><path d="M3169.30 426.35h-2.1" stroke="#333" stroke-width=".5"/><rect x="3169.30" y="421.10" width="34.52" height="10.50" fill="#f7fbff" stroke="#d8d8d8" stroke-opacity=".8" stroke-width=".45"/><text x="3186.56" y="428.55" fill="#262626">0</text><rect x="3203.82" y="421.10" width="34.52" height="10.50" fill="#6aaed6" stroke="#d8d8d8" stroke-opacity=".8" stroke-width=".45"/><text x="3221.08" y="428.55" fill="#fff">6</text><rect x="3238.34" y="421.10" width="34.52" height="10.50" fill="#8dc1dd" stroke="#d8d8d8" stroke-opacity=".8" stroke-width=".45"/><text x="3255.60" y="428.55" fill="#262626">5</text><rect x="3272.86" y="421.10" width="34.52" height="10.50" fill="#c6dbef" stroke="#d8d8d8" stroke-opacity=".8" stroke-width=".45"/><text x="3290.12" y="428.55" fill="#262626">3</text><rect x="3307.38" y="421.10" width="34.52" height="10.50" fill="#d6e6f4" stroke="#d8d8d8" stroke-opacity=".8" stroke-width=".45"/><text x="3324.64" y="428.55" fill="#262626">2</text><text x="3165.20" y="439.05" text-anchor="end">SELF</text><path d="M3169.30 436.85h-2.1" stroke="#333" stroke-width=".5"/><rect x="3169.30" y="431.60" width="34.52" height="10.50" fill="#e7f0fa" stroke="#d8d8d8" stroke-opacity=".8" stroke-width=".45"/><text x="3186.56" y="439.05" fill="#262626">1</text><rect x="3203.82" y="431.60" width="34.52" height="10.50" fill="#abd0e6" stroke="#d8d8d8" stroke-opacity=".8" stroke-width=".45"/><text x="3221.08" y="439.05" fill="#262626">4</text><rect x="3238.34" y="431.60" width="34.52" height="10.50" fill="#6aaed6" stroke="#d8d8d8" stroke-opacity=".8" stroke-width=".45"/><text x="3255.60" y="439.05" fill="#fff">6</text><rect x="3272.86" y="431.60" width="34.52" height="10.50" fill="#abd0e6" stroke="#d8d8d8" stroke-opacity=".8" stroke-width=".45"/><text x="3290.12" y="439.05" fill="#262626">4</text><rect x="3307.38" y="431.60" width="34.52" height="10.50" fill="#e7f0fa" stroke="#d8d8d8" stroke-opacity=".8" stroke-width=".45"/><text x="3324.64" y="439.05" fill="#262626">1</text><text x="3165.20" y="449.55" text-anchor="end">UNPL</text><path d="M3169.30 447.35h-2.1" stroke="#333" stroke-width=".5"/><rect x="3169.30" y="442.10" width="34.52" height="10.50" fill="#f7fbff" stroke="#d8d8d8" stroke-opacity=".8" stroke-width=".45"/><text x="3186.56" y="449.55" fill="#262626">0</text><rect x="3203.82" y="442.10" width="34.52" height="10.50" fill="#f7fbff" stroke="#d8d8d8" stroke-opacity=".8" stroke-width=".45"/><text x="3221.08" y="449.55" fill="#262626">0</text><rect x="3238.34" y="442.10" width="34.52" height="10.50" fill="#3787c0" stroke="#d8d8d8" stroke-opacity=".8" stroke-width=".45"/><text x="3255.60" y="449.55" fill="#fff">8</text><rect x="3272.86" y="442.10" width="34.52" height="10.50" fill="#4f9bcb" stroke="#d8d8d8" stroke-opacity=".8" stroke-width=".45"/><text x="3290.12" y="449.55" fill="#fff">7</text><rect x="3307.38" y="442.10" width="34.52" height="10.50" fill="#e7f0fa" stroke="#d8d8d8" stroke-opacity=".8" stroke-width=".45"/><text x="3324.64" y="449.55" fill="#262626">1</text><path d="M3186.56 452.60v2.2" stroke="#333" stroke-width=".5"/><text x="3186.56" y="461.30" font-size="5.9">child</text><text x="3186.56" y="468.40" font-size="5.9">adolescent</text><path d="M3221.08 452.60v2.2" stroke="#333" stroke-width=".5"/><text x="3221.08" y="461.30" font-size="5.9">young</text><text x="3221.08" y="468.40" font-size="5.9">adult</text><path d="M3255.60 452.60v2.2" stroke="#333" stroke-width=".5"/><text x="3255.60" y="461.30" font-size="5.9">middle</text><text x="3255.60" y="468.40" font-size="5.9">aged</text><path d="M3290.12 452.60v2.2" stroke="#333" stroke-width=".5"/><text x="3290.12" y="461.30" font-size="5.9">senior</text><path d="M3324.64 452.60v2.2" stroke="#333" stroke-width=".5"/><text x="3324.64" y="461.30" font-size="5.9">undefined</text><text x="3459.75" y="312.50" font-size="7.29">Age Distribution (Lexical Opposites)</text><text x="3369.50" y="323.55" text-anchor="end">HUMB</text><path d="M3373.60 321.35h-2.1" stroke="#333" stroke-width=".5"/><rect x="3373.60" y="316.10" width="34.46" height="10.50" fill="#f7fcf5" stroke="#d8d8d8" stroke-opacity=".8" stroke-width=".45"/><text x="3390.83" y="323.55" fill="#262626">0</text><rect x="3408.06" y="316.10" width="34.46" height="10.50" fill="#5ab769" stroke="#d8d8d8" stroke-opacity=".8" stroke-width=".45"/><text x="3425.29" y="323.55" fill="#fff">9</text><rect x="3442.52" y="316.10" width="34.46" height="10.50" fill="#d6efd0" stroke="#d8d8d8" stroke-opacity=".8" stroke-width=".45"/><text x="3459.75" y="323.55" fill="#262626">3</text><rect x="3476.98" y="316.10" width="34.46" height="10.50" fill="#d6efd0" stroke="#d8d8d8" stroke-opacity=".8" stroke-width=".45"/><text x="3494.21" y="323.55" fill="#262626">3</text><rect x="3511.44" y="316.10" width="34.46" height="10.50" fill="#eef8ea" stroke="#d8d8d8" stroke-opacity=".8" stroke-width=".45"/><text x="3528.67" y="323.55" fill="#262626">1</text><text x="3369.50" y="334.05" text-anchor="end">SYMM</text><path d="M3373.60 331.85h-2.1" stroke="#333" stroke-width=".5"/><rect x="3373.60" y="326.60" width="34.46" height="10.50" fill="#f7fcf5" stroke="#d8d8d8" stroke-opacity=".8" stroke-width=".45"/><text x="3390.83" y="334.05" fill="#262626">0</text><rect x="3408.06" y="326.60" width="34.46" height="10.50" fill="#00441b" stroke="#d8d8d8" stroke-opacity=".8" stroke-width=".45"/><text x="3425.29" y="334.05" fill="#fff">16</text><rect x="3442.52" y="326.60" width="34.46" height="10.50" fill="#f7fcf5" stroke="#d8d8d8" stroke-opacity=".8" stroke-width=".45"/><text x="3459.75" y="334.05" fill="#262626">0</text><rect x="3476.98" y="326.60" width="34.46" height="10.50" fill="#f7fcf5" stroke="#d8d8d8" stroke-opacity=".8" stroke-width=".45"/><text x="3494.21" y="334.05" fill="#262626">0</text><rect x="3511.44" y="326.60" width="34.46" height="10.50" fill="#f7fcf5" stroke="#d8d8d8" stroke-opacity=".8" stroke-width=".45"/><text x="3528.67" y="334.05" fill="#262626">0</text><text x="3369.50" y="344.55" text-anchor="end">SWEE</text><path d="M3373.60 342.35h-2.1" stroke="#333" stroke-width=".5"/><rect x="3373.60" y="337.10" width="34.46" height="10.50" fill="#eef8ea" stroke="#d8d8d8" stroke-opacity=".8" stroke-width=".45"/><text x="3390.83" y="344.55" fill="#262626">1</text><rect x="3408.06" y="337.10" width="34.46" height="10.50" fill="#006c2c" stroke="#d8d8d8" stroke-opacity=".8" stroke-width=".45"/><text x="3425.29" y="344.55" fill="#fff">14</text><rect x="3442.52" y="337.10" width="34.46" height="10.50" fill="#eef8ea" stroke="#d8d8d8" stroke-opacity=".8" stroke-width=".45"/><text x="3459.75" y="344.55" fill="#262626">1</text><rect x="3476.98" y="337.10" width="34.46" height="10.50" fill="#f7fcf5" stroke="#d8d8d8" stroke-opacity=".8" stroke-width=".45"/><text x="3494.21" y="344.55" fill="#262626">0</text><rect x="3511.44" y="337.10" width="34.46" height="10.50" fill="#f7fcf5" stroke="#d8d8d8" stroke-opacity=".8" stroke-width=".45"/><text x="3528.67" y="344.55" fill="#262626">0</text><text x="3369.50" y="355.05" text-anchor="end">KIND</text><path d="M3373.60 352.85h-2.1" stroke="#333" stroke-width=".5"/><rect x="3373.60" y="347.60" width="34.46" height="10.50" fill="#f7fcf5" stroke="#d8d8d8" stroke-opacity=".8" stroke-width=".45"/><text x="3390.83" y="355.05" fill="#262626">0</text><rect x="3408.06" y="347.60" width="34.46" height="10.50" fill="#73c476" stroke="#d8d8d8" stroke-opacity=".8" stroke-width=".45"/><text x="3425.29" y="355.05" fill="#262626">8</text><rect x="3442.52" y="347.60" width="34.46" height="10.50" fill="#b4e1ad" stroke="#d8d8d8" stroke-opacity=".8" stroke-width=".45"/><text x="3459.75" y="355.05" fill="#262626">5</text><rect x="3476.98" y="347.60" width="34.46" height="10.50" fill="#d6efd0" stroke="#d8d8d8" stroke-opacity=".8" stroke-width=".45"/><text x="3494.21" y="355.05" fill="#262626">3</text><rect x="3511.44" y="347.60" width="34.46" height="10.50" fill="#f7fcf5" stroke="#d8d8d8" stroke-opacity=".8" stroke-width=".45"/><text x="3528.67" y="355.05" fill="#262626">0</text><text x="3369.50" y="365.55" text-anchor="end">RECO</text><path d="M3373.60 363.35h-2.1" stroke="#333" stroke-width=".5"/><rect x="3373.60" y="358.10" width="34.46" height="10.50" fill="#f7fcf5" stroke="#d8d8d8" stroke-opacity=".8" stroke-width=".45"/><text x="3390.83" y="365.55" fill="#262626">0</text><rect x="3408.06" y="358.10" width="34.46" height="10.50" fill="#40aa5d" stroke="#d8d8d8" stroke-opacity=".8" stroke-width=".45"/><text x="3425.29" y="365.55" fill="#fff">10</text><rect x="3442.52" y="358.10" width="34.46" height="10.50" fill="#d6efd0" stroke="#d8d8d8" stroke-opacity=".8" stroke-width=".45"/><text x="3459.75" y="365.55" fill="#262626">3</text><rect x="3476.98" y="358.10" width="34.46" height="10.50" fill="#d6efd0" stroke="#d8d8d8" stroke-opacity=".8" stroke-width=".45"/><text x="3494.21" y="365.55" fill="#262626">3</text><rect x="3511.44" y="358.10" width="34.46" height="10.50" fill="#f7fcf5" stroke="#d8d8d8" stroke-opacity=".8" stroke-width=".45"/><text x="3528.67" y="365.55" fill="#262626">0</text><text x="3369.50" y="376.05" text-anchor="end">HONE</text><path d="M3373.60 373.85h-2.1" stroke="#333" stroke-width=".5"/><rect x="3373.60" y="368.60" width="34.46" height="10.50" fill="#f7fcf5" stroke="#d8d8d8" stroke-opacity=".8" stroke-width=".45"/><text x="3390.83" y="376.05" fill="#262626">0</text><rect x="3408.06" y="368.60" width="34.46" height="10.50" fill="#40aa5d" stroke="#d8d8d8" stroke-opacity=".8" stroke-width=".45"/><text x="3425.29" y="376.05" fill="#fff">10</text><rect x="3442.52" y="368.60" width="34.46" height="10.50" fill="#c7e9c0" stroke="#d8d8d8" stroke-opacity=".8" stroke-width=".45"/><text x="3459.75" y="376.05" fill="#262626">4</text><rect x="3476.98" y="368.60" width="34.46" height="10.50" fill="#e5f5e0" stroke="#d8d8d8" stroke-opacity=".8" stroke-width=".45"/><text x="3494.21" y="376.05" fill="#262626">2</text><rect x="3511.44" y="368.60" width="34.46" height="10.50" fill="#f7fcf5" stroke="#d8d8d8" stroke-opacity=".8" stroke-width=".45"/><text x="3528.67" y="376.05" fill="#262626">0</text><text x="3369.50" y="386.55" text-anchor="end">PERF</text><path d="M3373.60 384.35h-2.1" stroke="#333" stroke-width=".5"/><rect x="3373.60" y="379.10" width="34.46" height="10.50" fill="#f7fcf5" stroke="#d8d8d8" stroke-opacity=".8" stroke-width=".45"/><text x="3390.83" y="386.55" fill="#262626">0</text><rect x="3408.06" y="379.10" width="34.46" height="10.50" fill="#00441b" stroke="#d8d8d8" stroke-opacity=".8" stroke-width=".45"/><text x="3425.29" y="386.55" fill="#fff">16</text><rect x="3442.52" y="379.10" width="34.46" height="10.50" fill="#f7fcf5" stroke="#d8d8d8" stroke-opacity=".8" stroke-width=".45"/><text x="3459.75" y="386.55" fill="#262626">0</text><rect x="3476.98" y="379.10" width="34.46" height="10.50" fill="#f7fcf5" stroke="#d8d8d8" stroke-opacity=".8" stroke-width=".45"/><text x="3494.21" y="386.55" fill="#262626">0</text><rect x="3511.44" y="379.10" width="34.46" height="10.50" fill="#f7fcf5" stroke="#d8d8d8" stroke-opacity=".8" stroke-width=".45"/><text x="3528.67" y="386.55" fill="#262626">0</text><text x="3369.50" y="397.05" text-anchor="end">AEST</text><path d="M3373.60 394.85h-2.1" stroke="#333" stroke-width=".5"/><rect x="3373.60" y="389.60" width="34.46" height="10.50" fill="#f7fcf5" stroke="#d8d8d8" stroke-opacity=".8" stroke-width=".45"/><text x="3390.83" y="397.05" fill="#262626">0</text><rect x="3408.06" y="389.60" width="34.46" height="10.50" fill="#00441b" stroke="#d8d8d8" stroke-opacity=".8" stroke-width=".45"/><text x="3425.29" y="397.05" fill="#fff">16</text><rect x="3442.52" y="389.60" width="34.46" height="10.50" fill="#f7fcf5" stroke="#d8d8d8" stroke-opacity=".8" stroke-width=".45"/><text x="3459.75" y="397.05" fill="#262626">0</text><rect x="3476.98" y="389.60" width="34.46" height="10.50" fill="#f7fcf5" stroke="#d8d8d8" stroke-opacity=".8" stroke-width=".45"/><text x="3494.21" y="397.05" fill="#262626">0</text><rect x="3511.44" y="389.60" width="34.46" height="10.50" fill="#f7fcf5" stroke="#d8d8d8" stroke-opacity=".8" stroke-width=".45"/><text x="3528.67" y="397.05" fill="#262626">0</text><text x="3369.50" y="407.55" text-anchor="end">GENT</text><path d="M3373.60 405.35h-2.1" stroke="#333" stroke-width=".5"/><rect x="3373.60" y="400.10" width="34.46" height="10.50" fill="#d6efd0" stroke="#d8d8d8" stroke-opacity=".8" stroke-width=".45"/><text x="3390.83" y="407.55" fill="#262626">3</text><rect x="3408.06" y="400.10" width="34.46" height="10.50" fill="#73c476" stroke="#d8d8d8" stroke-opacity=".8" stroke-width=".45"/><text x="3425.29" y="407.55" fill="#262626">8</text><rect x="3442.52" y="400.10" width="34.46" height="10.50" fill="#c7e9c0" stroke="#d8d8d8" stroke-opacity=".8" stroke-width=".45"/><text x="3459.75" y="407.55" fill="#262626">4</text><rect x="3476.98" y="400.10" width="34.46" height="10.50" fill="#eef8ea" stroke="#d8d8d8" stroke-opacity=".8" stroke-width=".45"/><text x="3494.21" y="407.55" fill="#262626">1</text><rect x="3511.44" y="400.10" width="34.46" height="10.50" fill="#f7fcf5" stroke="#d8d8d8" stroke-opacity=".8" stroke-width=".45"/><text x="3528.67" y="407.55" fill="#262626">0</text><text x="3369.50" y="418.05" text-anchor="end">TOLE</text><path d="M3373.60 415.85h-2.1" stroke="#333" stroke-width=".5"/><rect x="3373.60" y="410.60" width="34.46" height="10.50" fill="#eef8ea" stroke="#d8d8d8" stroke-opacity=".8" stroke-width=".45"/><text x="3390.83" y="418.05" fill="#262626">1</text><rect x="3408.06" y="410.60" width="34.46" height="10.50" fill="#c7e9c0" stroke="#d8d8d8" stroke-opacity=".8" stroke-width=".45"/><text x="3425.29" y="418.05" fill="#262626">4</text><rect x="3442.52" y="410.60" width="34.46" height="10.50" fill="#a0d99b" stroke="#d8d8d8" stroke-opacity=".8" stroke-width=".45"/><text x="3459.75" y="418.05" fill="#262626">6</text><rect x="3476.98" y="410.60" width="34.46" height="10.50" fill="#b4e1ad" stroke="#d8d8d8" stroke-opacity=".8" stroke-width=".45"/><text x="3494.21" y="418.05" fill="#262626">5</text><rect x="3511.44" y="410.60" width="34.46" height="10.50" fill="#f7fcf5" stroke="#d8d8d8" stroke-opacity=".8" stroke-width=".45"/><text x="3528.67" y="418.05" fill="#262626">0</text><text x="3369.50" y="428.55" text-anchor="end">ATTEN</text><path d="M3373.60 426.35h-2.1" stroke="#333" stroke-width=".5"/><rect x="3373.60" y="421.10" width="34.46" height="10.50" fill="#f7fcf5" stroke="#d8d8d8" stroke-opacity=".8" stroke-width=".45"/><text x="3390.83" y="428.55" fill="#262626">0</text><rect x="3408.06" y="421.10" width="34.46" height="10.50" fill="#228a44" stroke="#d8d8d8" stroke-opacity=".8" stroke-width=".45"/><text x="3425.29" y="428.55" fill="#fff">12</text><rect x="3442.52" y="421.10" width="34.46" height="10.50" fill="#d6efd0" stroke="#d8d8d8" stroke-opacity=".8" stroke-width=".45"/><text x="3459.75" y="428.55" fill="#262626">3</text><rect x="3476.98" y="421.10" width="34.46" height="10.50" fill="#eef8ea" stroke="#d8d8d8" stroke-opacity=".8" stroke-width=".45"/><text x="3494.21" y="428.55" fill="#262626">1</text><rect x="3511.44" y="421.10" width="34.46" height="10.50" fill="#f7fcf5" stroke="#d8d8d8" stroke-opacity=".8" stroke-width=".45"/><text x="3528.67" y="428.55" fill="#262626">0</text><text x="3369.50" y="439.05" text-anchor="end">SELFL</text><path d="M3373.60 436.85h-2.1" stroke="#333" stroke-width=".5"/><rect x="3373.60" y="431.60" width="34.46" height="10.50" fill="#f7fcf5" stroke="#d8d8d8" stroke-opacity=".8" stroke-width=".45"/><text x="3390.83" y="439.05" fill="#262626">0</text><rect x="3408.06" y="431.60" width="34.46" height="10.50" fill="#117b38" stroke="#d8d8d8" stroke-opacity=".8" stroke-width=".45"/><text x="3425.29" y="439.05" fill="#fff">13</text><rect x="3442.52" y="431.60" width="34.46" height="10.50" fill="#d6efd0" stroke="#d8d8d8" stroke-opacity=".8" stroke-width=".45"/><text x="3459.75" y="439.05" fill="#262626">3</text><rect x="3476.98" y="431.60" width="34.46" height="10.50" fill="#f7fcf5" stroke="#d8d8d8" stroke-opacity=".8" stroke-width=".45"/><text x="3494.21" y="439.05" fill="#262626">0</text><rect x="3511.44" y="431.60" width="34.46" height="10.50" fill="#f7fcf5" stroke="#d8d8d8" stroke-opacity=".8" stroke-width=".45"/><text x="3528.67" y="439.05" fill="#262626">0</text><text x="3369.50" y="449.55" text-anchor="end">PLEA</text><path d="M3373.60 447.35h-2.1" stroke="#333" stroke-width=".5"/><rect x="3373.60" y="442.10" width="34.46" height="10.50" fill="#f7fcf5" stroke="#d8d8d8" stroke-opacity=".8" stroke-width=".45"/><text x="3390.83" y="449.55" fill="#262626">0</text><rect x="3408.06" y="442.10" width="34.46" height="10.50" fill="#117b38" stroke="#d8d8d8" stroke-opacity=".8" stroke-width=".45"/><text x="3425.29" y="449.55" fill="#fff">13</text><rect x="3442.52" y="442.10" width="34.46" height="10.50" fill="#d6efd0" stroke="#d8d8d8" stroke-opacity=".8" stroke-width=".45"/><text x="3459.75" y="449.55" fill="#262626">3</text><rect x="3476.98" y="442.10" width="34.46" height="10.50" fill="#f7fcf5" stroke="#d8d8d8" stroke-opacity=".8" stroke-width=".45"/><text x="3494.21" y="449.55" fill="#262626">0</text><rect x="3511.44" y="442.10" width="34.46" height="10.50" fill="#f7fcf5" stroke="#d8d8d8" stroke-opacity=".8" stroke-width=".45"/><text x="3528.67" y="449.55" fill="#262626">0</text><path d="M3390.83 452.60v2.2" stroke="#333" stroke-width=".5"/><text x="3390.83" y="461.30" font-size="5.9">child</text><text x="3390.83" y="468.40" font-size="5.9">adolescent</text><path d="M3425.29 452.60v2.2" stroke="#333" stroke-width=".5"/><text x="3425.29" y="461.30" font-size="5.9">young</text><text x="3425.29" y="468.40" font-size="5.9">adult</text><path d="M3459.75 452.60v2.2" stroke="#333" stroke-width=".5"/><text x="3459.75" y="461.30" font-size="5.9">middle</text><text x="3459.75" y="468.40" font-size="5.9">aged</text><path d="M3494.21 452.60v2.2" stroke="#333" stroke-width=".5"/><text x="3494.21" y="461.30" font-size="5.9">senior</text><path d="M3528.67 452.60v2.2" stroke="#333" stroke-width=".5"/><text x="3528.67" y="461.30" font-size="5.9">undefined</text><text x="3049.90" y="489.40" font-size="7.29">Ethnicity Distribution (without Condition)</text><text x="2959.90" y="500.42" text-anchor="end">ARRO</text><path d="M2964.00 498.22h-2.1" stroke="#333" stroke-width=".5"/><rect x="2964.00" y="493.00" width="21.48" height="10.45" fill="#f7fbff" stroke="#d8d8d8" stroke-opacity=".8" stroke-width=".45"/><text x="2974.74" y="500.42" fill="#262626">0</text><rect x="2985.47" y="493.00" width="21.48" height="10.45" fill="#f7fbff" stroke="#d8d8d8" stroke-opacity=".8" stroke-width=".45"/><text x="2996.21" y="500.42" fill="#262626">0</text><rect x="3006.95" y="493.00" width="21.48" height="10.45" fill="#eaf2fb" stroke="#d8d8d8" stroke-opacity=".8" stroke-width=".45"/><text x="3017.69" y="500.42" fill="#262626">1</text><rect x="3028.43" y="493.00" width="21.48" height="10.45" fill="#f7fbff" stroke="#d8d8d8" stroke-opacity=".8" stroke-width=".45"/><text x="3039.16" y="500.42" fill="#262626">0</text><rect x="3049.90" y="493.00" width="21.48" height="10.45" fill="#f7fbff" stroke="#d8d8d8" stroke-opacity=".8" stroke-width=".45"/><text x="3060.64" y="500.42" fill="#262626">0</text><rect x="3071.38" y="493.00" width="21.48" height="10.45" fill="#08306b" stroke="#d8d8d8" stroke-opacity=".8" stroke-width=".45"/><text x="3082.11" y="500.42" fill="#fff">15</text><rect x="3092.85" y="493.00" width="21.48" height="10.45" fill="#f7fbff" stroke="#d8d8d8" stroke-opacity=".8" stroke-width=".45"/><text x="3103.59" y="500.42" fill="#262626">0</text><rect x="3114.32" y="493.00" width="21.48" height="10.45" fill="#f7fbff" stroke="#d8d8d8" stroke-opacity=".8" stroke-width=".45"/><text x="3125.06" y="500.42" fill="#262626">0</text><text x="2959.90" y="510.87" text-anchor="end">ASYM</text><path d="M2964.00 508.67h-2.1" stroke="#333" stroke-width=".5"/><rect x="2964.00" y="503.45" width="21.48" height="10.45" fill="#f7fbff" stroke="#d8d8d8" stroke-opacity=".8" stroke-width=".45"/><text x="2974.74" y="510.87" fill="#262626">0</text><rect x="2985.47" y="503.45" width="21.48" height="10.45" fill="#f7fbff" stroke="#d8d8d8" stroke-opacity=".8" stroke-width=".45"/><text x="2996.21" y="510.87" fill="#262626">0</text><rect x="3006.95" y="503.45" width="21.48" height="10.45" fill="#eaf2fb" stroke="#d8d8d8" stroke-opacity=".8" stroke-width=".45"/><text x="3017.69" y="510.87" fill="#262626">1</text><rect x="3028.43" y="503.45" width="21.48" height="10.45" fill="#f7fbff" stroke="#d8d8d8" stroke-opacity=".8" stroke-width=".45"/><text x="3039.16" y="510.87" fill="#262626">0</text><rect x="3049.90" y="503.45" width="21.48" height="10.45" fill="#f7fbff" stroke="#d8d8d8" stroke-opacity=".8" stroke-width=".45"/><text x="3060.64" y="510.87" fill="#262626">0</text><rect x="3071.38" y="503.45" width="21.48" height="10.45" fill="#0a539e" stroke="#d8d8d8" stroke-opacity=".8" stroke-width=".45"/><text x="3082.11" y="510.87" fill="#fff">13</text><rect x="3092.85" y="503.45" width="21.48" height="10.45" fill="#f7fbff" stroke="#d8d8d8" stroke-opacity=".8" stroke-width=".45"/><text x="3103.59" y="510.87" fill="#262626">0</text><rect x="3114.32" y="503.45" width="21.48" height="10.45" fill="#eaf2fb" stroke="#d8d8d8" stroke-opacity=".8" stroke-width=".45"/><text x="3125.06" y="510.87" fill="#262626">1</text><text x="2959.90" y="521.32" text-anchor="end">BITT</text><path d="M2964.00 519.12h-2.1" stroke="#333" stroke-width=".5"/><rect x="2964.00" y="513.89" width="21.48" height="10.45" fill="#f7fbff" stroke="#d8d8d8" stroke-opacity=".8" stroke-width=".45"/><text x="2974.74" y="521.32" fill="#262626">0</text><rect x="2985.47" y="513.89" width="21.48" height="10.45" fill="#f7fbff" stroke="#d8d8d8" stroke-opacity=".8" stroke-width=".45"/><text x="2996.21" y="521.32" fill="#262626">0</text><rect x="3006.95" y="513.89" width="21.48" height="10.45" fill="#eaf2fb" stroke="#d8d8d8" stroke-opacity=".8" stroke-width=".45"/><text x="3017.69" y="521.32" fill="#262626">1</text><rect x="3028.43" y="513.89" width="21.48" height="10.45" fill="#f7fbff" stroke="#d8d8d8" stroke-opacity=".8" stroke-width=".45"/><text x="3039.16" y="521.32" fill="#262626">0</text><rect x="3049.90" y="513.89" width="21.48" height="10.45" fill="#f7fbff" stroke="#d8d8d8" stroke-opacity=".8" stroke-width=".45"/><text x="3060.64" y="521.32" fill="#262626">0</text><rect x="3071.38" y="513.89" width="21.48" height="10.45" fill="#3787c0" stroke="#d8d8d8" stroke-opacity=".8" stroke-width=".45"/><text x="3082.11" y="521.32" fill="#fff">10</text><rect x="3092.85" y="513.89" width="21.48" height="10.45" fill="#f7fbff" stroke="#d8d8d8" stroke-opacity=".8" stroke-width=".45"/><text x="3103.59" y="521.32" fill="#262626">0</text><rect x="3114.32" y="513.89" width="21.48" height="10.45" fill="#abd0e6" stroke="#d8d8d8" stroke-opacity=".8" stroke-width=".45"/><text x="3125.06" y="521.32" fill="#262626">5</text><text x="2959.90" y="531.76" text-anchor="end">CRUE</text><path d="M2964.00 529.56h-2.1" stroke="#333" stroke-width=".5"/><rect x="2964.00" y="524.34" width="21.48" height="10.45" fill="#f7fbff" stroke="#d8d8d8" stroke-opacity=".8" stroke-width=".45"/><text x="2974.74" y="531.76" fill="#262626">0</text><rect x="2985.47" y="524.34" width="21.48" height="10.45" fill="#f7fbff" stroke="#d8d8d8" stroke-opacity=".8" stroke-width=".45"/><text x="2996.21" y="531.76" fill="#262626">0</text><rect x="3006.95" y="524.34" width="21.48" height="10.45" fill="#f7fbff" stroke="#d8d8d8" stroke-opacity=".8" stroke-width=".45"/><text x="3017.69" y="531.76" fill="#262626">0</text><rect x="3028.43" y="524.34" width="21.48" height="10.45" fill="#f7fbff" stroke="#d8d8d8" stroke-opacity=".8" stroke-width=".45"/><text x="3039.16" y="531.76" fill="#262626">0</text><rect x="3049.90" y="524.34" width="21.48" height="10.45" fill="#f7fbff" stroke="#d8d8d8" stroke-opacity=".8" stroke-width=".45"/><text x="3060.64" y="531.76" fill="#262626">0</text><rect x="3071.38" y="524.34" width="21.48" height="10.45" fill="#0a539e" stroke="#d8d8d8" stroke-opacity=".8" stroke-width=".45"/><text x="3082.11" y="531.76" fill="#fff">13</text><rect x="3092.85" y="524.34" width="21.48" height="10.45" fill="#f7fbff" stroke="#d8d8d8" stroke-opacity=".8" stroke-width=".45"/><text x="3103.59" y="531.76" fill="#262626">0</text><rect x="3114.32" y="524.34" width="21.48" height="10.45" fill="#d0e1f2" stroke="#d8d8d8" stroke-opacity=".8" stroke-width=".45"/><text x="3125.06" y="531.76" fill="#262626">3</text><text x="2959.90" y="542.21" text-anchor="end">DECA</text><path d="M2964.00 540.01h-2.1" stroke="#333" stroke-width=".5"/><rect x="2964.00" y="534.78" width="21.48" height="10.45" fill="#f7fbff" stroke="#d8d8d8" stroke-opacity=".8" stroke-width=".45"/><text x="2974.74" y="542.21" fill="#262626">0</text><rect x="2985.47" y="534.78" width="21.48" height="10.45" fill="#f7fbff" stroke="#d8d8d8" stroke-opacity=".8" stroke-width=".45"/><text x="2996.21" y="542.21" fill="#262626">0</text><rect x="3006.95" y="534.78" width="21.48" height="10.45" fill="#c1d9ed" stroke="#d8d8d8" stroke-opacity=".8" stroke-width=".45"/><text x="3017.69" y="542.21" fill="#262626">4</text><rect x="3028.43" y="534.78" width="21.48" height="10.45" fill="#f7fbff" stroke="#d8d8d8" stroke-opacity=".8" stroke-width=".45"/><text x="3039.16" y="542.21" fill="#262626">0</text><rect x="3049.90" y="534.78" width="21.48" height="10.45" fill="#f7fbff" stroke="#d8d8d8" stroke-opacity=".8" stroke-width=".45"/><text x="3060.64" y="542.21" fill="#262626">0</text><rect x="3071.38" y="534.78" width="21.48" height="10.45" fill="#eaf2fb" stroke="#d8d8d8" stroke-opacity=".8" stroke-width=".45"/><text x="3082.11" y="542.21" fill="#262626">1</text><rect x="3092.85" y="534.78" width="21.48" height="10.45" fill="#f7fbff" stroke="#d8d8d8" stroke-opacity=".8" stroke-width=".45"/><text x="3103.59" y="542.21" fill="#262626">0</text><rect x="3114.32" y="534.78" width="21.48" height="10.45" fill="#2575b7" stroke="#d8d8d8" stroke-opacity=".8" stroke-width=".45"/><text x="3125.06" y="542.21" fill="#fff">11</text><text x="2959.90" y="552.65" text-anchor="end">DISH</text><path d="M2964.00 550.45h-2.1" stroke="#333" stroke-width=".5"/><rect x="2964.00" y="545.23" width="21.48" height="10.45" fill="#f7fbff" stroke="#d8d8d8" stroke-opacity=".8" stroke-width=".45"/><text x="2974.74" y="552.65" fill="#262626">0</text><rect x="2985.47" y="545.23" width="21.48" height="10.45" fill="#f7fbff" stroke="#d8d8d8" stroke-opacity=".8" stroke-width=".45"/><text x="2996.21" y="552.65" fill="#262626">0</text><rect x="3006.95" y="545.23" width="21.48" height="10.45" fill="#f7fbff" stroke="#d8d8d8" stroke-opacity=".8" stroke-width=".45"/><text x="3017.69" y="552.65" fill="#262626">0</text><rect x="3028.43" y="545.23" width="21.48" height="10.45" fill="#f7fbff" stroke="#d8d8d8" stroke-opacity=".8" stroke-width=".45"/><text x="3039.16" y="552.65" fill="#262626">0</text><rect x="3049.90" y="545.23" width="21.48" height="10.45" fill="#f7fbff" stroke="#d8d8d8" stroke-opacity=".8" stroke-width=".45"/><text x="3060.64" y="552.65" fill="#262626">0</text><rect x="3071.38" y="545.23" width="21.48" height="10.45" fill="#1764ab" stroke="#d8d8d8" stroke-opacity=".8" stroke-width=".45"/><text x="3082.11" y="552.65" fill="#fff">12</text><rect x="3092.85" y="545.23" width="21.48" height="10.45" fill="#eaf2fb" stroke="#d8d8d8" stroke-opacity=".8" stroke-width=".45"/><text x="3103.59" y="552.65" fill="#262626">1</text><rect x="3114.32" y="545.23" width="21.48" height="10.45" fill="#d0e1f2" stroke="#d8d8d8" stroke-opacity=".8" stroke-width=".45"/><text x="3125.06" y="552.65" fill="#262626">3</text><text x="2959.90" y="563.10" text-anchor="end">DIST</text><path d="M2964.00 560.90h-2.1" stroke="#333" stroke-width=".5"/><rect x="2964.00" y="555.68" width="21.48" height="10.45" fill="#f7fbff" stroke="#d8d8d8" stroke-opacity=".8" stroke-width=".45"/><text x="2974.74" y="563.10" fill="#262626">0</text><rect x="2985.47" y="555.68" width="21.48" height="10.45" fill="#f7fbff" stroke="#d8d8d8" stroke-opacity=".8" stroke-width=".45"/><text x="2996.21" y="563.10" fill="#262626">0</text><rect x="3006.95" y="555.68" width="21.48" height="10.45" fill="#f7fbff" stroke="#d8d8d8" stroke-opacity=".8" stroke-width=".45"/><text x="3017.69" y="563.10" fill="#262626">0</text><rect x="3028.43" y="555.68" width="21.48" height="10.45" fill="#f7fbff" stroke="#d8d8d8" stroke-opacity=".8" stroke-width=".45"/><text x="3039.16" y="563.10" fill="#262626">0</text><rect x="3049.90" y="555.68" width="21.48" height="10.45" fill="#f7fbff" stroke="#d8d8d8" stroke-opacity=".8" stroke-width=".45"/><text x="3060.64" y="563.10" fill="#262626">0</text><rect x="3071.38" y="555.68" width="21.48" height="10.45" fill="#4a98c9" stroke="#d8d8d8" stroke-opacity=".8" stroke-width=".45"/><text x="3082.11" y="563.10" fill="#fff">9</text><rect x="3092.85" y="555.68" width="21.48" height="10.45" fill="#f7fbff" stroke="#d8d8d8" stroke-opacity=".8" stroke-width=".45"/><text x="3103.59" y="563.10" fill="#262626">0</text><rect x="3114.32" y="555.68" width="21.48" height="10.45" fill="#79b5d9" stroke="#d8d8d8" stroke-opacity=".8" stroke-width=".45"/><text x="3125.06" y="563.10" fill="#262626">7</text><text x="2959.90" y="573.55" text-anchor="end">GROT</text><path d="M2964.00 571.35h-2.1" stroke="#333" stroke-width=".5"/><rect x="2964.00" y="566.12" width="21.48" height="10.45" fill="#f7fbff" stroke="#d8d8d8" stroke-opacity=".8" stroke-width=".45"/><text x="2974.74" y="573.55" fill="#262626">0</text><rect x="2985.47" y="566.12" width="21.48" height="10.45" fill="#f7fbff" stroke="#d8d8d8" stroke-opacity=".8" stroke-width=".45"/><text x="2996.21" y="573.55" fill="#262626">0</text><rect x="3006.95" y="566.12" width="21.48" height="10.45" fill="#f7fbff" stroke="#d8d8d8" stroke-opacity=".8" stroke-width=".45"/><text x="3017.69" y="573.55" fill="#262626">0</text><rect x="3028.43" y="566.12" width="21.48" height="10.45" fill="#f7fbff" stroke="#d8d8d8" stroke-opacity=".8" stroke-width=".45"/><text x="3039.16" y="573.55" fill="#262626">0</text><rect x="3049.90" y="566.12" width="21.48" height="10.45" fill="#f7fbff" stroke="#d8d8d8" stroke-opacity=".8" stroke-width=".45"/><text x="3060.64" y="573.55" fill="#262626">0</text><rect x="3071.38" y="566.12" width="21.48" height="10.45" fill="#0a539e" stroke="#d8d8d8" stroke-opacity=".8" stroke-width=".45"/><text x="3082.11" y="573.55" fill="#fff">13</text><rect x="3092.85" y="566.12" width="21.48" height="10.45" fill="#f7fbff" stroke="#d8d8d8" stroke-opacity=".8" stroke-width=".45"/><text x="3103.59" y="573.55" fill="#262626">0</text><rect x="3114.32" y="566.12" width="21.48" height="10.45" fill="#d0e1f2" stroke="#d8d8d8" stroke-opacity=".8" stroke-width=".45"/><text x="3125.06" y="573.55" fill="#262626">3</text><text x="2959.90" y="583.99" text-anchor="end">HARS</text><path d="M2964.00 581.79h-2.1" stroke="#333" stroke-width=".5"/><rect x="2964.00" y="576.57" width="21.48" height="10.45" fill="#f7fbff" stroke="#d8d8d8" stroke-opacity=".8" stroke-width=".45"/><text x="2974.74" y="583.99" fill="#262626">0</text><rect x="2985.47" y="576.57" width="21.48" height="10.45" fill="#f7fbff" stroke="#d8d8d8" stroke-opacity=".8" stroke-width=".45"/><text x="2996.21" y="583.99" fill="#262626">0</text><rect x="3006.95" y="576.57" width="21.48" height="10.45" fill="#eaf2fb" stroke="#d8d8d8" stroke-opacity=".8" stroke-width=".45"/><text x="3017.69" y="583.99" fill="#262626">1</text><rect x="3028.43" y="576.57" width="21.48" height="10.45" fill="#f7fbff" stroke="#d8d8d8" stroke-opacity=".8" stroke-width=".45"/><text x="3039.16" y="583.99" fill="#262626">0</text><rect x="3049.90" y="576.57" width="21.48" height="10.45" fill="#f7fbff" stroke="#d8d8d8" stroke-opacity=".8" stroke-width=".45"/><text x="3060.64" y="583.99" fill="#262626">0</text><rect x="3071.38" y="576.57" width="21.48" height="10.45" fill="#084285" stroke="#d8d8d8" stroke-opacity=".8" stroke-width=".45"/><text x="3082.11" y="583.99" fill="#fff">14</text><rect x="3092.85" y="576.57" width="21.48" height="10.45" fill="#f7fbff" stroke="#d8d8d8" stroke-opacity=".8" stroke-width=".45"/><text x="3103.59" y="583.99" fill="#262626">0</text><rect x="3114.32" y="576.57" width="21.48" height="10.45" fill="#eaf2fb" stroke="#d8d8d8" stroke-opacity=".8" stroke-width=".45"/><text x="3125.06" y="583.99" fill="#262626">1</text><text x="2959.90" y="594.44" text-anchor="end">INTO</text><path d="M2964.00 592.24h-2.1" stroke="#333" stroke-width=".5"/><rect x="2964.00" y="587.02" width="21.48" height="10.45" fill="#f7fbff" stroke="#d8d8d8" stroke-opacity=".8" stroke-width=".45"/><text x="2974.74" y="594.44" fill="#262626">0</text><rect x="2985.47" y="587.02" width="21.48" height="10.45" fill="#f7fbff" stroke="#d8d8d8" stroke-opacity=".8" stroke-width=".45"/><text x="2996.21" y="594.44" fill="#262626">0</text><rect x="3006.95" y="587.02" width="21.48" height="10.45" fill="#f7fbff" stroke="#d8d8d8" stroke-opacity=".8" stroke-width=".45"/><text x="3017.69" y="594.44" fill="#262626">0</text><rect x="3028.43" y="587.02" width="21.48" height="10.45" fill="#f7fbff" stroke="#d8d8d8" stroke-opacity=".8" stroke-width=".45"/><text x="3039.16" y="594.44" fill="#262626">0</text><rect x="3049.90" y="587.02" width="21.48" height="10.45" fill="#f7fbff" stroke="#d8d8d8" stroke-opacity=".8" stroke-width=".45"/><text x="3060.64" y="594.44" fill="#262626">0</text><rect x="3071.38" y="587.02" width="21.48" height="10.45" fill="#08306b" stroke="#d8d8d8" stroke-opacity=".8" stroke-width=".45"/><text x="3082.11" y="594.44" fill="#fff">15</text><rect x="3092.85" y="587.02" width="21.48" height="10.45" fill="#f7fbff" stroke="#d8d8d8" stroke-opacity=".8" stroke-width=".45"/><text x="3103.59" y="594.44" fill="#262626">0</text><rect x="3114.32" y="587.02" width="21.48" height="10.45" fill="#eaf2fb" stroke="#d8d8d8" stroke-opacity=".8" stroke-width=".45"/><text x="3125.06" y="594.44" fill="#262626">1</text><text x="2959.90" y="604.88" text-anchor="end">NEGL</text><path d="M2964.00 602.68h-2.1" stroke="#333" stroke-width=".5"/><rect x="2964.00" y="597.46" width="21.48" height="10.45" fill="#f7fbff" stroke="#d8d8d8" stroke-opacity=".8" stroke-width=".45"/><text x="2974.74" y="604.88" fill="#262626">0</text><rect x="2985.47" y="597.46" width="21.48" height="10.45" fill="#f7fbff" stroke="#d8d8d8" stroke-opacity=".8" stroke-width=".45"/><text x="2996.21" y="604.88" fill="#262626">0</text><rect x="3006.95" y="597.46" width="21.48" height="10.45" fill="#dceaf6" stroke="#d8d8d8" stroke-opacity=".8" stroke-width=".45"/><text x="3017.69" y="604.88" fill="#262626">2</text><rect x="3028.43" y="597.46" width="21.48" height="10.45" fill="#f7fbff" stroke="#d8d8d8" stroke-opacity=".8" stroke-width=".45"/><text x="3039.16" y="604.88" fill="#262626">0</text><rect x="3049.90" y="597.46" width="21.48" height="10.45" fill="#f7fbff" stroke="#d8d8d8" stroke-opacity=".8" stroke-width=".45"/><text x="3060.64" y="604.88" fill="#262626">0</text><rect x="3071.38" y="597.46" width="21.48" height="10.45" fill="#0a539e" stroke="#d8d8d8" stroke-opacity=".8" stroke-width=".45"/><text x="3082.11" y="604.88" fill="#fff">13</text><rect x="3092.85" y="597.46" width="21.48" height="10.45" fill="#f7fbff" stroke="#d8d8d8" stroke-opacity=".8" stroke-width=".45"/><text x="3103.59" y="604.88" fill="#262626">0</text><rect x="3114.32" y="597.46" width="21.48" height="10.45" fill="#f7fbff" stroke="#d8d8d8" stroke-opacity=".8" stroke-width=".45"/><text x="3125.06" y="604.88" fill="#262626">0</text><text x="2959.90" y="615.33" text-anchor="end">SELF</text><path d="M2964.00 613.13h-2.1" stroke="#333" stroke-width=".5"/><rect x="2964.00" y="607.91" width="21.48" height="10.45" fill="#f7fbff" stroke="#d8d8d8" stroke-opacity=".8" stroke-width=".45"/><text x="2974.74" y="615.33" fill="#262626">0</text><rect x="2985.47" y="607.91" width="21.48" height="10.45" fill="#f7fbff" stroke="#d8d8d8" stroke-opacity=".8" stroke-width=".45"/><text x="2996.21" y="615.33" fill="#262626">0</text><rect x="3006.95" y="607.91" width="21.48" height="10.45" fill="#f7fbff" stroke="#d8d8d8" stroke-opacity=".8" stroke-width=".45"/><text x="3017.69" y="615.33" fill="#262626">0</text><rect x="3028.43" y="607.91" width="21.48" height="10.45" fill="#f7fbff" stroke="#d8d8d8" stroke-opacity=".8" stroke-width=".45"/><text x="3039.16" y="615.33" fill="#262626">0</text><rect x="3049.90" y="607.91" width="21.48" height="10.45" fill="#f7fbff" stroke="#d8d8d8" stroke-opacity=".8" stroke-width=".45"/><text x="3060.64" y="615.33" fill="#262626">0</text><rect x="3071.38" y="607.91" width="21.48" height="10.45" fill="#08306b" stroke="#d8d8d8" stroke-opacity=".8" stroke-width=".45"/><text x="3082.11" y="615.33" fill="#fff">15</text><rect x="3092.85" y="607.91" width="21.48" height="10.45" fill="#f7fbff" stroke="#d8d8d8" stroke-opacity=".8" stroke-width=".45"/><text x="3103.59" y="615.33" fill="#262626">0</text><rect x="3114.32" y="607.91" width="21.48" height="10.45" fill="#f7fbff" stroke="#d8d8d8" stroke-opacity=".8" stroke-width=".45"/><text x="3125.06" y="615.33" fill="#262626">0</text><text x="2959.90" y="625.78" text-anchor="end">UNPL</text><path d="M2964.00 623.58h-2.1" stroke="#333" stroke-width=".5"/><rect x="2964.00" y="618.35" width="21.48" height="10.45" fill="#f7fbff" stroke="#d8d8d8" stroke-opacity=".8" stroke-width=".45"/><text x="2974.74" y="625.78" fill="#262626">0</text><rect x="2985.47" y="618.35" width="21.48" height="10.45" fill="#f7fbff" stroke="#d8d8d8" stroke-opacity=".8" stroke-width=".45"/><text x="2996.21" y="625.78" fill="#262626">0</text><rect x="3006.95" y="618.35" width="21.48" height="10.45" fill="#f7fbff" stroke="#d8d8d8" stroke-opacity=".8" stroke-width=".45"/><text x="3017.69" y="625.78" fill="#262626">0</text><rect x="3028.43" y="618.35" width="21.48" height="10.45" fill="#f7fbff" stroke="#d8d8d8" stroke-opacity=".8" stroke-width=".45"/><text x="3039.16" y="625.78" fill="#262626">0</text><rect x="3049.90" y="618.35" width="21.48" height="10.45" fill="#f7fbff" stroke="#d8d8d8" stroke-opacity=".8" stroke-width=".45"/><text x="3060.64" y="625.78" fill="#262626">0</text><rect x="3071.38" y="618.35" width="21.48" height="10.45" fill="#08306b" stroke="#d8d8d8" stroke-opacity=".8" stroke-width=".45"/><text x="3082.11" y="625.78" fill="#fff">15</text><rect x="3092.85" y="618.35" width="21.48" height="10.45" fill="#f7fbff" stroke="#d8d8d8" stroke-opacity=".8" stroke-width=".45"/><text x="3103.59" y="625.78" fill="#262626">0</text><rect x="3114.32" y="618.35" width="21.48" height="10.45" fill="#eaf2fb" stroke="#d8d8d8" stroke-opacity=".8" stroke-width=".45"/><text x="3125.06" y="625.78" fill="#262626">1</text><path d="M2974.74 628.80v2.2" stroke="#333" stroke-width=".5"/><text x="2974.74" y="637.50" font-size="5.9">multi</text><text x="2974.74" y="644.60" font-size="5.9">racial</text><path d="M2996.21 628.80v2.2" stroke="#333" stroke-width=".5"/><text x="2996.21" y="637.50" font-size="5.9">latino</text><path d="M3017.69 628.80v2.2" stroke="#333" stroke-width=".5"/><text x="3017.69" y="637.50" font-size="5.9">asian</text><path d="M3039.16 628.80v2.2" stroke="#333" stroke-width=".5"/><text x="3039.16" y="637.50" font-size="5.9">black</text><path d="M3060.64 628.80v2.2" stroke="#333" stroke-width=".5"/><text x="3060.64" y="637.50" font-size="5.9">indi</text><text x="3060.64" y="644.60" font-size="5.9">genous</text><path d="M3082.11 628.80v2.2" stroke="#333" stroke-width=".5"/><text x="3082.11" y="637.50" font-size="5.9">white</text><path d="M3103.59 628.80v2.2" stroke="#333" stroke-width=".5"/><text x="3103.59" y="637.50" font-size="5.9">mena</text><path d="M3125.06 628.80v2.2" stroke="#333" stroke-width=".5"/><text x="3125.06" y="637.50" font-size="5.9">un</text><text x="3125.06" y="644.60" font-size="5.9">defined</text><text x="3255.15" y="489.40" font-size="7.29">Ethnicity Distribution (with Condition)</text><text x="3165.30" y="500.42" text-anchor="end">ARRO</text><path d="M3169.40 498.22h-2.1" stroke="#333" stroke-width=".5"/><rect x="3169.40" y="493.00" width="21.44" height="10.45" fill="#f7fbff" stroke="#d8d8d8" stroke-opacity=".8" stroke-width=".45"/><text x="3180.12" y="500.42" fill="#262626">0</text><rect x="3190.84" y="493.00" width="21.44" height="10.45" fill="#f7fbff" stroke="#d8d8d8" stroke-opacity=".8" stroke-width=".45"/><text x="3201.56" y="500.42" fill="#262626">0</text><rect x="3212.28" y="493.00" width="21.44" height="10.45" fill="#f7fbff" stroke="#d8d8d8" stroke-opacity=".8" stroke-width=".45"/><text x="3222.99" y="500.42" fill="#262626">0</text><rect x="3233.71" y="493.00" width="21.44" height="10.45" fill="#f7fbff" stroke="#d8d8d8" stroke-opacity=".8" stroke-width=".45"/><text x="3244.43" y="500.42" fill="#262626">0</text><rect x="3255.15" y="493.00" width="21.44" height="10.45" fill="#f7fbff" stroke="#d8d8d8" stroke-opacity=".8" stroke-width=".45"/><text x="3265.87" y="500.42" fill="#262626">0</text><rect x="3276.59" y="493.00" width="21.44" height="10.45" fill="#1460a8" stroke="#d8d8d8" stroke-opacity=".8" stroke-width=".45"/><text x="3287.31" y="500.42" fill="#fff">13</text><rect x="3298.03" y="493.00" width="21.44" height="10.45" fill="#f7fbff" stroke="#d8d8d8" stroke-opacity=".8" stroke-width=".45"/><text x="3308.74" y="500.42" fill="#262626">0</text><rect x="3319.46" y="493.00" width="21.44" height="10.45" fill="#d2e3f3" stroke="#d8d8d8" stroke-opacity=".8" stroke-width=".45"/><text x="3330.18" y="500.42" fill="#262626">3</text><text x="3165.30" y="510.87" text-anchor="end">ASYM</text><path d="M3169.40 508.67h-2.1" stroke="#333" stroke-width=".5"/><rect x="3169.40" y="503.45" width="21.44" height="10.45" fill="#f7fbff" stroke="#d8d8d8" stroke-opacity=".8" stroke-width=".45"/><text x="3180.12" y="510.87" fill="#262626">0</text><rect x="3190.84" y="503.45" width="21.44" height="10.45" fill="#f7fbff" stroke="#d8d8d8" stroke-opacity=".8" stroke-width=".45"/><text x="3201.56" y="510.87" fill="#262626">0</text><rect x="3212.28" y="503.45" width="21.44" height="10.45" fill="#eaf3fb" stroke="#d8d8d8" stroke-opacity=".8" stroke-width=".45"/><text x="3222.99" y="510.87" fill="#262626">1</text><rect x="3233.71" y="503.45" width="21.44" height="10.45" fill="#f7fbff" stroke="#d8d8d8" stroke-opacity=".8" stroke-width=".45"/><text x="3244.43" y="510.87" fill="#262626">0</text><rect x="3255.15" y="503.45" width="21.44" height="10.45" fill="#f7fbff" stroke="#d8d8d8" stroke-opacity=".8" stroke-width=".45"/><text x="3265.87" y="510.87" fill="#262626">0</text><rect x="3276.59" y="503.45" width="21.44" height="10.45" fill="#1460a8" stroke="#d8d8d8" stroke-opacity=".8" stroke-width=".45"/><text x="3287.31" y="510.87" fill="#fff">13</text><rect x="3298.03" y="503.45" width="21.44" height="10.45" fill="#f7fbff" stroke="#d8d8d8" stroke-opacity=".8" stroke-width=".45"/><text x="3308.74" y="510.87" fill="#262626">0</text><rect x="3319.46" y="503.45" width="21.44" height="10.45" fill="#f7fbff" stroke="#d8d8d8" stroke-opacity=".8" stroke-width=".45"/><text x="3330.18" y="510.87" fill="#262626">0</text><text x="3165.30" y="521.32" text-anchor="end">BITT</text><path d="M3169.40 519.12h-2.1" stroke="#333" stroke-width=".5"/><rect x="3169.40" y="513.89" width="21.44" height="10.45" fill="#f7fbff" stroke="#d8d8d8" stroke-opacity=".8" stroke-width=".45"/><text x="3180.12" y="521.32" fill="#262626">0</text><rect x="3190.84" y="513.89" width="21.44" height="10.45" fill="#f7fbff" stroke="#d8d8d8" stroke-opacity=".8" stroke-width=".45"/><text x="3201.56" y="521.32" fill="#262626">0</text><rect x="3212.28" y="513.89" width="21.44" height="10.45" fill="#f7fbff" stroke="#d8d8d8" stroke-opacity=".8" stroke-width=".45"/><text x="3222.99" y="521.32" fill="#262626">0</text><rect x="3233.71" y="513.89" width="21.44" height="10.45" fill="#f7fbff" stroke="#d8d8d8" stroke-opacity=".8" stroke-width=".45"/><text x="3244.43" y="521.32" fill="#262626">0</text><rect x="3255.15" y="513.89" width="21.44" height="10.45" fill="#f7fbff" stroke="#d8d8d8" stroke-opacity=".8" stroke-width=".45"/><text x="3265.87" y="521.32" fill="#262626">0</text><rect x="3276.59" y="513.89" width="21.44" height="10.45" fill="#1460a8" stroke="#d8d8d8" stroke-opacity=".8" stroke-width=".45"/><text x="3287.31" y="521.32" fill="#fff">13</text><rect x="3298.03" y="513.89" width="21.44" height="10.45" fill="#f7fbff" stroke="#d8d8d8" stroke-opacity=".8" stroke-width=".45"/><text x="3308.74" y="521.32" fill="#262626">0</text><rect x="3319.46" y="513.89" width="21.44" height="10.45" fill="#d2e3f3" stroke="#d8d8d8" stroke-opacity=".8" stroke-width=".45"/><text x="3330.18" y="521.32" fill="#262626">3</text><text x="3165.30" y="531.76" text-anchor="end">CRUE</text><path d="M3169.40 529.56h-2.1" stroke="#333" stroke-width=".5"/><rect x="3169.40" y="524.34" width="21.44" height="10.45" fill="#f7fbff" stroke="#d8d8d8" stroke-opacity=".8" stroke-width=".45"/><text x="3180.12" y="531.76" fill="#262626">0</text><rect x="3190.84" y="524.34" width="21.44" height="10.45" fill="#f7fbff" stroke="#d8d8d8" stroke-opacity=".8" stroke-width=".45"/><text x="3201.56" y="531.76" fill="#262626">0</text><rect x="3212.28" y="524.34" width="21.44" height="10.45" fill="#f7fbff" stroke="#d8d8d8" stroke-opacity=".8" stroke-width=".45"/><text x="3222.99" y="531.76" fill="#262626">0</text><rect x="3233.71" y="524.34" width="21.44" height="10.45" fill="#f7fbff" stroke="#d8d8d8" stroke-opacity=".8" stroke-width=".45"/><text x="3244.43" y="531.76" fill="#262626">0</text><rect x="3255.15" y="524.34" width="21.44" height="10.45" fill="#f7fbff" stroke="#d8d8d8" stroke-opacity=".8" stroke-width=".45"/><text x="3265.87" y="531.76" fill="#262626">0</text><rect x="3276.59" y="524.34" width="21.44" height="10.45" fill="#08306b" stroke="#d8d8d8" stroke-opacity=".8" stroke-width=".45"/><text x="3287.31" y="531.76" fill="#fff">16</text><rect x="3298.03" y="524.34" width="21.44" height="10.45" fill="#f7fbff" stroke="#d8d8d8" stroke-opacity=".8" stroke-width=".45"/><text x="3308.74" y="531.76" fill="#262626">0</text><rect x="3319.46" y="524.34" width="21.44" height="10.45" fill="#f7fbff" stroke="#d8d8d8" stroke-opacity=".8" stroke-width=".45"/><text x="3330.18" y="531.76" fill="#262626">0</text><text x="3165.30" y="542.21" text-anchor="end">DECA</text><path d="M3169.40 540.01h-2.1" stroke="#333" stroke-width=".5"/><rect x="3169.40" y="534.78" width="21.44" height="10.45" fill="#f7fbff" stroke="#d8d8d8" stroke-opacity=".8" stroke-width=".45"/><text x="3180.12" y="542.21" fill="#262626">0</text><rect x="3190.84" y="534.78" width="21.44" height="10.45" fill="#f7fbff" stroke="#d8d8d8" stroke-opacity=".8" stroke-width=".45"/><text x="3201.56" y="542.21" fill="#262626">0</text><rect x="3212.28" y="534.78" width="21.44" height="10.45" fill="#eaf3fb" stroke="#d8d8d8" stroke-opacity=".8" stroke-width=".45"/><text x="3222.99" y="542.21" fill="#262626">1</text><rect x="3233.71" y="534.78" width="21.44" height="10.45" fill="#f7fbff" stroke="#d8d8d8" stroke-opacity=".8" stroke-width=".45"/><text x="3244.43" y="542.21" fill="#262626">0</text><rect x="3255.15" y="534.78" width="21.44" height="10.45" fill="#f7fbff" stroke="#d8d8d8" stroke-opacity=".8" stroke-width=".45"/><text x="3265.87" y="542.21" fill="#262626">0</text><rect x="3276.59" y="534.78" width="21.44" height="10.45" fill="#d2e3f3" stroke="#d8d8d8" stroke-opacity=".8" stroke-width=".45"/><text x="3287.31" y="542.21" fill="#262626">3</text><rect x="3298.03" y="534.78" width="21.44" height="10.45" fill="#f7fbff" stroke="#d8d8d8" stroke-opacity=".8" stroke-width=".45"/><text x="3308.74" y="542.21" fill="#262626">0</text><rect x="3319.46" y="534.78" width="21.44" height="10.45" fill="#2070b4" stroke="#d8d8d8" stroke-opacity=".8" stroke-width=".45"/><text x="3330.18" y="542.21" fill="#fff">12</text><text x="3165.30" y="552.65" text-anchor="end">DISH</text><path d="M3169.40 550.45h-2.1" stroke="#333" stroke-width=".5"/><rect x="3169.40" y="545.23" width="21.44" height="10.45" fill="#f7fbff" stroke="#d8d8d8" stroke-opacity=".8" stroke-width=".45"/><text x="3180.12" y="552.65" fill="#262626">0</text><rect x="3190.84" y="545.23" width="21.44" height="10.45" fill="#f7fbff" stroke="#d8d8d8" stroke-opacity=".8" stroke-width=".45"/><text x="3201.56" y="552.65" fill="#262626">0</text><rect x="3212.28" y="545.23" width="21.44" height="10.45" fill="#eaf3fb" stroke="#d8d8d8" stroke-opacity=".8" stroke-width=".45"/><text x="3222.99" y="552.65" fill="#262626">1</text><rect x="3233.71" y="545.23" width="21.44" height="10.45" fill="#f7fbff" stroke="#d8d8d8" stroke-opacity=".8" stroke-width=".45"/><text x="3244.43" y="552.65" fill="#262626">0</text><rect x="3255.15" y="545.23" width="21.44" height="10.45" fill="#f7fbff" stroke="#d8d8d8" stroke-opacity=".8" stroke-width=".45"/><text x="3265.87" y="552.65" fill="#262626">0</text><rect x="3276.59" y="545.23" width="21.44" height="10.45" fill="#2070b4" stroke="#d8d8d8" stroke-opacity=".8" stroke-width=".45"/><text x="3287.31" y="552.65" fill="#fff">12</text><rect x="3298.03" y="545.23" width="21.44" height="10.45" fill="#f7fbff" stroke="#d8d8d8" stroke-opacity=".8" stroke-width=".45"/><text x="3308.74" y="552.65" fill="#262626">0</text><rect x="3319.46" y="545.23" width="21.44" height="10.45" fill="#d2e3f3" stroke="#d8d8d8" stroke-opacity=".8" stroke-width=".45"/><text x="3330.18" y="552.65" fill="#262626">3</text><text x="3165.30" y="563.10" text-anchor="end">DIST</text><path d="M3169.40 560.90h-2.1" stroke="#333" stroke-width=".5"/><rect x="3169.40" y="555.68" width="21.44" height="10.45" fill="#f7fbff" stroke="#d8d8d8" stroke-opacity=".8" stroke-width=".45"/><text x="3180.12" y="563.10" fill="#262626">0</text><rect x="3190.84" y="555.68" width="21.44" height="10.45" fill="#f7fbff" stroke="#d8d8d8" stroke-opacity=".8" stroke-width=".45"/><text x="3201.56" y="563.10" fill="#262626">0</text><rect x="3212.28" y="555.68" width="21.44" height="10.45" fill="#f7fbff" stroke="#d8d8d8" stroke-opacity=".8" stroke-width=".45"/><text x="3222.99" y="563.10" fill="#262626">0</text><rect x="3233.71" y="555.68" width="21.44" height="10.45" fill="#f7fbff" stroke="#d8d8d8" stroke-opacity=".8" stroke-width=".45"/><text x="3244.43" y="563.10" fill="#262626">0</text><rect x="3255.15" y="555.68" width="21.44" height="10.45" fill="#f7fbff" stroke="#d8d8d8" stroke-opacity=".8" stroke-width=".45"/><text x="3265.87" y="563.10" fill="#262626">0</text><rect x="3276.59" y="555.68" width="21.44" height="10.45" fill="#3181bd" stroke="#d8d8d8" stroke-opacity=".8" stroke-width=".45"/><text x="3287.31" y="563.10" fill="#fff">11</text><rect x="3298.03" y="555.68" width="21.44" height="10.45" fill="#f7fbff" stroke="#d8d8d8" stroke-opacity=".8" stroke-width=".45"/><text x="3308.74" y="563.10" fill="#262626">0</text><rect x="3319.46" y="555.68" width="21.44" height="10.45" fill="#b2d2e8" stroke="#d8d8d8" stroke-opacity=".8" stroke-width=".45"/><text x="3330.18" y="563.10" fill="#262626">5</text><text x="3165.30" y="573.55" text-anchor="end">GROT</text><path d="M3169.40 571.35h-2.1" stroke="#333" stroke-width=".5"/><rect x="3169.40" y="566.12" width="21.44" height="10.45" fill="#f7fbff" stroke="#d8d8d8" stroke-opacity=".8" stroke-width=".45"/><text x="3180.12" y="573.55" fill="#262626">0</text><rect x="3190.84" y="566.12" width="21.44" height="10.45" fill="#eaf3fb" stroke="#d8d8d8" stroke-opacity=".8" stroke-width=".45"/><text x="3201.56" y="573.55" fill="#262626">1</text><rect x="3212.28" y="566.12" width="21.44" height="10.45" fill="#f7fbff" stroke="#d8d8d8" stroke-opacity=".8" stroke-width=".45"/><text x="3222.99" y="573.55" fill="#262626">0</text><rect x="3233.71" y="566.12" width="21.44" height="10.45" fill="#f7fbff" stroke="#d8d8d8" stroke-opacity=".8" stroke-width=".45"/><text x="3244.43" y="573.55" fill="#262626">0</text><rect x="3255.15" y="566.12" width="21.44" height="10.45" fill="#f7fbff" stroke="#d8d8d8" stroke-opacity=".8" stroke-width=".45"/><text x="3265.87" y="573.55" fill="#262626">0</text><rect x="3276.59" y="566.12" width="21.44" height="10.45" fill="#1460a8" stroke="#d8d8d8" stroke-opacity=".8" stroke-width=".45"/><text x="3287.31" y="573.55" fill="#fff">13</text><rect x="3298.03" y="566.12" width="21.44" height="10.45" fill="#f7fbff" stroke="#d8d8d8" stroke-opacity=".8" stroke-width=".45"/><text x="3308.74" y="573.55" fill="#262626">0</text><rect x="3319.46" y="566.12" width="21.44" height="10.45" fill="#deebf7" stroke="#d8d8d8" stroke-opacity=".8" stroke-width=".45"/><text x="3330.18" y="573.55" fill="#262626">2</text><text x="3165.30" y="583.99" text-anchor="end">HARS</text><path d="M3169.40 581.79h-2.1" stroke="#333" stroke-width=".5"/><rect x="3169.40" y="576.57" width="21.44" height="10.45" fill="#f7fbff" stroke="#d8d8d8" stroke-opacity=".8" stroke-width=".45"/><text x="3180.12" y="583.99" fill="#262626">0</text><rect x="3190.84" y="576.57" width="21.44" height="10.45" fill="#f7fbff" stroke="#d8d8d8" stroke-opacity=".8" stroke-width=".45"/><text x="3201.56" y="583.99" fill="#262626">0</text><rect x="3212.28" y="576.57" width="21.44" height="10.45" fill="#f7fbff" stroke="#d8d8d8" stroke-opacity=".8" stroke-width=".45"/><text x="3222.99" y="583.99" fill="#262626">0</text><rect x="3233.71" y="576.57" width="21.44" height="10.45" fill="#f7fbff" stroke="#d8d8d8" stroke-opacity=".8" stroke-width=".45"/><text x="3244.43" y="583.99" fill="#262626">0</text><rect x="3255.15" y="576.57" width="21.44" height="10.45" fill="#f7fbff" stroke="#d8d8d8" stroke-opacity=".8" stroke-width=".45"/><text x="3265.87" y="583.99" fill="#262626">0</text><rect x="3276.59" y="576.57" width="21.44" height="10.45" fill="#08509b" stroke="#d8d8d8" stroke-opacity=".8" stroke-width=".45"/><text x="3287.31" y="583.99" fill="#fff">14</text><rect x="3298.03" y="576.57" width="21.44" height="10.45" fill="#f7fbff" stroke="#d8d8d8" stroke-opacity=".8" stroke-width=".45"/><text x="3308.74" y="583.99" fill="#262626">0</text><rect x="3319.46" y="576.57" width="21.44" height="10.45" fill="#deebf7" stroke="#d8d8d8" stroke-opacity=".8" stroke-width=".45"/><text x="3330.18" y="583.99" fill="#262626">2</text><text x="3165.30" y="594.44" text-anchor="end">INTO</text><path d="M3169.40 592.24h-2.1" stroke="#333" stroke-width=".5"/><rect x="3169.40" y="587.02" width="21.44" height="10.45" fill="#f7fbff" stroke="#d8d8d8" stroke-opacity=".8" stroke-width=".45"/><text x="3180.12" y="594.44" fill="#262626">0</text><rect x="3190.84" y="587.02" width="21.44" height="10.45" fill="#f7fbff" stroke="#d8d8d8" stroke-opacity=".8" stroke-width=".45"/><text x="3201.56" y="594.44" fill="#262626">0</text><rect x="3212.28" y="587.02" width="21.44" height="10.45" fill="#f7fbff" stroke="#d8d8d8" stroke-opacity=".8" stroke-width=".45"/><text x="3222.99" y="594.44" fill="#262626">0</text><rect x="3233.71" y="587.02" width="21.44" height="10.45" fill="#f7fbff" stroke="#d8d8d8" stroke-opacity=".8" stroke-width=".45"/><text x="3244.43" y="594.44" fill="#262626">0</text><rect x="3255.15" y="587.02" width="21.44" height="10.45" fill="#f7fbff" stroke="#d8d8d8" stroke-opacity=".8" stroke-width=".45"/><text x="3265.87" y="594.44" fill="#262626">0</text><rect x="3276.59" y="587.02" width="21.44" height="10.45" fill="#08306b" stroke="#d8d8d8" stroke-opacity=".8" stroke-width=".45"/><text x="3287.31" y="594.44" fill="#fff">16</text><rect x="3298.03" y="587.02" width="21.44" height="10.45" fill="#f7fbff" stroke="#d8d8d8" stroke-opacity=".8" stroke-width=".45"/><text x="3308.74" y="594.44" fill="#262626">0</text><rect x="3319.46" y="587.02" width="21.44" height="10.45" fill="#f7fbff" stroke="#d8d8d8" stroke-opacity=".8" stroke-width=".45"/><text x="3330.18" y="594.44" fill="#262626">0</text><text x="3165.30" y="604.88" text-anchor="end">NEGL</text><path d="M3169.40 602.68h-2.1" stroke="#333" stroke-width=".5"/><rect x="3169.40" y="597.46" width="21.44" height="10.45" fill="#f7fbff" stroke="#d8d8d8" stroke-opacity=".8" stroke-width=".45"/><text x="3180.12" y="604.88" fill="#262626">0</text><rect x="3190.84" y="597.46" width="21.44" height="10.45" fill="#f7fbff" stroke="#d8d8d8" stroke-opacity=".8" stroke-width=".45"/><text x="3201.56" y="604.88" fill="#262626">0</text><rect x="3212.28" y="597.46" width="21.44" height="10.45" fill="#f7fbff" stroke="#d8d8d8" stroke-opacity=".8" stroke-width=".45"/><text x="3222.99" y="604.88" fill="#262626">0</text><rect x="3233.71" y="597.46" width="21.44" height="10.45" fill="#f7fbff" stroke="#d8d8d8" stroke-opacity=".8" stroke-width=".45"/><text x="3244.43" y="604.88" fill="#262626">0</text><rect x="3255.15" y="597.46" width="21.44" height="10.45" fill="#f7fbff" stroke="#d8d8d8" stroke-opacity=".8" stroke-width=".45"/><text x="3265.87" y="604.88" fill="#262626">0</text><rect x="3276.59" y="597.46" width="21.44" height="10.45" fill="#08509b" stroke="#d8d8d8" stroke-opacity=".8" stroke-width=".45"/><text x="3287.31" y="604.88" fill="#fff">14</text><rect x="3298.03" y="597.46" width="21.44" height="10.45" fill="#f7fbff" stroke="#d8d8d8" stroke-opacity=".8" stroke-width=".45"/><text x="3308.74" y="604.88" fill="#262626">0</text><rect x="3319.46" y="597.46" width="21.44" height="10.45" fill="#deebf7" stroke="#d8d8d8" stroke-opacity=".8" stroke-width=".45"/><text x="3330.18" y="604.88" fill="#262626">2</text><text x="3165.30" y="615.33" text-anchor="end">SELF</text><path d="M3169.40 613.13h-2.1" stroke="#333" stroke-width=".5"/><rect x="3169.40" y="607.91" width="21.44" height="10.45" fill="#f7fbff" stroke="#d8d8d8" stroke-opacity=".8" stroke-width=".45"/><text x="3180.12" y="615.33" fill="#262626">0</text><rect x="3190.84" y="607.91" width="21.44" height="10.45" fill="#f7fbff" stroke="#d8d8d8" stroke-opacity=".8" stroke-width=".45"/><text x="3201.56" y="615.33" fill="#262626">0</text><rect x="3212.28" y="607.91" width="21.44" height="10.45" fill="#f7fbff" stroke="#d8d8d8" stroke-opacity=".8" stroke-width=".45"/><text x="3222.99" y="615.33" fill="#262626">0</text><rect x="3233.71" y="607.91" width="21.44" height="10.45" fill="#f7fbff" stroke="#d8d8d8" stroke-opacity=".8" stroke-width=".45"/><text x="3244.43" y="615.33" fill="#262626">0</text><rect x="3255.15" y="607.91" width="21.44" height="10.45" fill="#f7fbff" stroke="#d8d8d8" stroke-opacity=".8" stroke-width=".45"/><text x="3265.87" y="615.33" fill="#262626">0</text><rect x="3276.59" y="607.91" width="21.44" height="10.45" fill="#08306b" stroke="#d8d8d8" stroke-opacity=".8" stroke-width=".45"/><text x="3287.31" y="615.33" fill="#fff">16</text><rect x="3298.03" y="607.91" width="21.44" height="10.45" fill="#f7fbff" stroke="#d8d8d8" stroke-opacity=".8" stroke-width=".45"/><text x="3308.74" y="615.33" fill="#262626">0</text><rect x="3319.46" y="607.91" width="21.44" height="10.45" fill="#f7fbff" stroke="#d8d8d8" stroke-opacity=".8" stroke-width=".45"/><text x="3330.18" y="615.33" fill="#262626">0</text><text x="3165.30" y="625.78" text-anchor="end">UNPL</text><path d="M3169.40 623.58h-2.1" stroke="#333" stroke-width=".5"/><rect x="3169.40" y="618.35" width="21.44" height="10.45" fill="#f7fbff" stroke="#d8d8d8" stroke-opacity=".8" stroke-width=".45"/><text x="3180.12" y="625.78" fill="#262626">0</text><rect x="3190.84" y="618.35" width="21.44" height="10.45" fill="#f7fbff" stroke="#d8d8d8" stroke-opacity=".8" stroke-width=".45"/><text x="3201.56" y="625.78" fill="#262626">0</text><rect x="3212.28" y="618.35" width="21.44" height="10.45" fill="#f7fbff" stroke="#d8d8d8" stroke-opacity=".8" stroke-width=".45"/><text x="3222.99" y="625.78" fill="#262626">0</text><rect x="3233.71" y="618.35" width="21.44" height="10.45" fill="#f7fbff" stroke="#d8d8d8" stroke-opacity=".8" stroke-width=".45"/><text x="3244.43" y="625.78" fill="#262626">0</text><rect x="3255.15" y="618.35" width="21.44" height="10.45" fill="#f7fbff" stroke="#d8d8d8" stroke-opacity=".8" stroke-width=".45"/><text x="3265.87" y="625.78" fill="#262626">0</text><rect x="3276.59" y="618.35" width="21.44" height="10.45" fill="#08509b" stroke="#d8d8d8" stroke-opacity=".8" stroke-width=".45"/><text x="3287.31" y="625.78" fill="#fff">14</text><rect x="3298.03" y="618.35" width="21.44" height="10.45" fill="#f7fbff" stroke="#d8d8d8" stroke-opacity=".8" stroke-width=".45"/><text x="3308.74" y="625.78" fill="#262626">0</text><rect x="3319.46" y="618.35" width="21.44" height="10.45" fill="#deebf7" stroke="#d8d8d8" stroke-opacity=".8" stroke-width=".45"/><text x="3330.18" y="625.78" fill="#262626">2</text><path d="M3180.12 628.80v2.2" stroke="#333" stroke-width=".5"/><text x="3180.12" y="637.50" font-size="5.9">multi</text><text x="3180.12" y="644.60" font-size="5.9">racial</text><path d="M3201.56 628.80v2.2" stroke="#333" stroke-width=".5"/><text x="3201.56" y="637.50" font-size="5.9">latino</text><path d="M3222.99 628.80v2.2" stroke="#333" stroke-width=".5"/><text x="3222.99" y="637.50" font-size="5.9">asian</text><path d="M3244.43 628.80v2.2" stroke="#333" stroke-width=".5"/><text x="3244.43" y="637.50" font-size="5.9">black</text><path d="M3265.87 628.80v2.2" stroke="#333" stroke-width=".5"/><text x="3265.87" y="637.50" font-size="5.9">indi</text><text x="3265.87" y="644.60" font-size="5.9">genous</text><path d="M3287.31 628.80v2.2" stroke="#333" stroke-width=".5"/><text x="3287.31" y="637.50" font-size="5.9">white</text><path d="M3308.74 628.80v2.2" stroke="#333" stroke-width=".5"/><text x="3308.74" y="637.50" font-size="5.9">mena</text><path d="M3330.18 628.80v2.2" stroke="#333" stroke-width=".5"/><text x="3330.18" y="637.50" font-size="5.9">un</text><text x="3330.18" y="644.60" font-size="5.9">defined</text><text x="3459.53" y="489.40" font-size="7.29">Ethnicity Distribution (Lexical Opposites)</text><text x="3369.95" y="500.42" text-anchor="end">HUMB</text><path d="M3374.05 498.22h-2.1" stroke="#333" stroke-width=".5"/><rect x="3374.05" y="493.00" width="21.37" height="10.45" fill="#f7fcf5" stroke="#d8d8d8" stroke-opacity=".8" stroke-width=".45"/><text x="3384.73" y="500.42" fill="#262626">0</text><rect x="3395.42" y="493.00" width="21.37" height="10.45" fill="#f7fcf5" stroke="#d8d8d8" stroke-opacity=".8" stroke-width=".45"/><text x="3406.10" y="500.42" fill="#262626">0</text><rect x="3416.79" y="493.00" width="21.37" height="10.45" fill="#92d28f" stroke="#d8d8d8" stroke-opacity=".8" stroke-width=".45"/><text x="3427.47" y="500.42" fill="#262626">5</text><rect x="3438.16" y="493.00" width="21.37" height="10.45" fill="#f7fcf5" stroke="#d8d8d8" stroke-opacity=".8" stroke-width=".45"/><text x="3448.84" y="500.42" fill="#262626">0</text><rect x="3459.53" y="493.00" width="21.37" height="10.45" fill="#f7fcf5" stroke="#d8d8d8" stroke-opacity=".8" stroke-width=".45"/><text x="3470.21" y="500.42" fill="#262626">0</text><rect x="3480.89" y="493.00" width="21.37" height="10.45" fill="#dbf1d6" stroke="#d8d8d8" stroke-opacity=".8" stroke-width=".45"/><text x="3491.58" y="500.42" fill="#262626">2</text><rect x="3502.26" y="493.00" width="21.37" height="10.45" fill="#92d28f" stroke="#d8d8d8" stroke-opacity=".8" stroke-width=".45"/><text x="3512.95" y="500.42" fill="#262626">5</text><rect x="3523.63" y="493.00" width="21.37" height="10.45" fill="#ebf7e7" stroke="#d8d8d8" stroke-opacity=".8" stroke-width=".45"/><text x="3534.32" y="500.42" fill="#262626">1</text><text x="3369.95" y="510.87" text-anchor="end">SYMM</text><path d="M3374.05 508.67h-2.1" stroke="#333" stroke-width=".5"/><rect x="3374.05" y="503.45" width="21.37" height="10.45" fill="#f7fcf5" stroke="#d8d8d8" stroke-opacity=".8" stroke-width=".45"/><text x="3384.73" y="510.87" fill="#262626">0</text><rect x="3395.42" y="503.45" width="21.37" height="10.45" fill="#f7fcf5" stroke="#d8d8d8" stroke-opacity=".8" stroke-width=".45"/><text x="3406.10" y="510.87" fill="#262626">0</text><rect x="3416.79" y="503.45" width="21.37" height="10.45" fill="#dbf1d6" stroke="#d8d8d8" stroke-opacity=".8" stroke-width=".45"/><text x="3427.47" y="510.87" fill="#262626">2</text><rect x="3438.16" y="503.45" width="21.37" height="10.45" fill="#f7fcf5" stroke="#d8d8d8" stroke-opacity=".8" stroke-width=".45"/><text x="3448.84" y="510.87" fill="#262626">0</text><rect x="3459.53" y="503.45" width="21.37" height="10.45" fill="#f7fcf5" stroke="#d8d8d8" stroke-opacity=".8" stroke-width=".45"/><text x="3470.21" y="510.87" fill="#262626">0</text><rect x="3480.89" y="503.45" width="21.37" height="10.45" fill="#00441b" stroke="#d8d8d8" stroke-opacity=".8" stroke-width=".45"/><text x="3491.58" y="510.87" fill="#fff">12</text><rect x="3502.26" y="503.45" width="21.37" height="10.45" fill="#f7fcf5" stroke="#d8d8d8" stroke-opacity=".8" stroke-width=".45"/><text x="3512.95" y="510.87" fill="#262626">0</text><rect x="3523.63" y="503.45" width="21.37" height="10.45" fill="#ebf7e7" stroke="#d8d8d8" stroke-opacity=".8" stroke-width=".45"/><text x="3534.32" y="510.87" fill="#262626">1</text><text x="3369.95" y="521.32" text-anchor="end">SWEE</text><path d="M3374.05 519.12h-2.1" stroke="#333" stroke-width=".5"/><rect x="3374.05" y="513.89" width="21.37" height="10.45" fill="#f7fcf5" stroke="#d8d8d8" stroke-opacity=".8" stroke-width=".45"/><text x="3384.73" y="521.32" fill="#262626">0</text><rect x="3395.42" y="513.89" width="21.37" height="10.45" fill="#f7fcf5" stroke="#d8d8d8" stroke-opacity=".8" stroke-width=".45"/><text x="3406.10" y="521.32" fill="#262626">0</text><rect x="3416.79" y="513.89" width="21.37" height="10.45" fill="#aedea7" stroke="#d8d8d8" stroke-opacity=".8" stroke-width=".45"/><text x="3427.47" y="521.32" fill="#262626">4</text><rect x="3438.16" y="513.89" width="21.37" height="10.45" fill="#f7fcf5" stroke="#d8d8d8" stroke-opacity=".8" stroke-width=".45"/><text x="3448.84" y="521.32" fill="#262626">0</text><rect x="3459.53" y="513.89" width="21.37" height="10.45" fill="#f7fcf5" stroke="#d8d8d8" stroke-opacity=".8" stroke-width=".45"/><text x="3470.21" y="521.32" fill="#262626">0</text><rect x="3480.89" y="513.89" width="21.37" height="10.45" fill="#52b365" stroke="#d8d8d8" stroke-opacity=".8" stroke-width=".45"/><text x="3491.58" y="521.32" fill="#fff">7</text><rect x="3502.26" y="513.89" width="21.37" height="10.45" fill="#f7fcf5" stroke="#d8d8d8" stroke-opacity=".8" stroke-width=".45"/><text x="3512.95" y="521.32" fill="#262626">0</text><rect x="3523.63" y="513.89" width="21.37" height="10.45" fill="#aedea7" stroke="#d8d8d8" stroke-opacity=".8" stroke-width=".45"/><text x="3534.32" y="521.32" fill="#262626">4</text><text x="3369.95" y="531.76" text-anchor="end">KIND</text><path d="M3374.05 529.56h-2.1" stroke="#333" stroke-width=".5"/><rect x="3374.05" y="524.34" width="21.37" height="10.45" fill="#f7fcf5" stroke="#d8d8d8" stroke-opacity=".8" stroke-width=".45"/><text x="3384.73" y="531.76" fill="#262626">0</text><rect x="3395.42" y="524.34" width="21.37" height="10.45" fill="#f7fcf5" stroke="#d8d8d8" stroke-opacity=".8" stroke-width=".45"/><text x="3406.10" y="531.76" fill="#262626">0</text><rect x="3416.79" y="524.34" width="21.37" height="10.45" fill="#c7e9c0" stroke="#d8d8d8" stroke-opacity=".8" stroke-width=".45"/><text x="3427.47" y="531.76" fill="#262626">3</text><rect x="3438.16" y="524.34" width="21.37" height="10.45" fill="#f7fcf5" stroke="#d8d8d8" stroke-opacity=".8" stroke-width=".45"/><text x="3448.84" y="531.76" fill="#262626">0</text><rect x="3459.53" y="524.34" width="21.37" height="10.45" fill="#f7fcf5" stroke="#d8d8d8" stroke-opacity=".8" stroke-width=".45"/><text x="3470.21" y="531.76" fill="#262626">0</text><rect x="3480.89" y="524.34" width="21.37" height="10.45" fill="#52b365" stroke="#d8d8d8" stroke-opacity=".8" stroke-width=".45"/><text x="3491.58" y="531.76" fill="#fff">7</text><rect x="3502.26" y="524.34" width="21.37" height="10.45" fill="#f7fcf5" stroke="#d8d8d8" stroke-opacity=".8" stroke-width=".45"/><text x="3512.95" y="531.76" fill="#262626">0</text><rect x="3523.63" y="524.34" width="21.37" height="10.45" fill="#c7e9c0" stroke="#d8d8d8" stroke-opacity=".8" stroke-width=".45"/><text x="3534.32" y="531.76" fill="#262626">3</text><text x="3369.95" y="542.21" text-anchor="end">RECO</text><path d="M3374.05 540.01h-2.1" stroke="#333" stroke-width=".5"/><rect x="3374.05" y="534.78" width="21.37" height="10.45" fill="#f7fcf5" stroke="#d8d8d8" stroke-opacity=".8" stroke-width=".45"/><text x="3384.73" y="542.21" fill="#262626">0</text><rect x="3395.42" y="534.78" width="21.37" height="10.45" fill="#f7fcf5" stroke="#d8d8d8" stroke-opacity=".8" stroke-width=".45"/><text x="3406.10" y="542.21" fill="#262626">0</text><rect x="3416.79" y="534.78" width="21.37" height="10.45" fill="#ebf7e7" stroke="#d8d8d8" stroke-opacity=".8" stroke-width=".45"/><text x="3427.47" y="542.21" fill="#262626">1</text><rect x="3438.16" y="534.78" width="21.37" height="10.45" fill="#f7fcf5" stroke="#d8d8d8" stroke-opacity=".8" stroke-width=".45"/><text x="3448.84" y="542.21" fill="#262626">0</text><rect x="3459.53" y="534.78" width="21.37" height="10.45" fill="#f7fcf5" stroke="#d8d8d8" stroke-opacity=".8" stroke-width=".45"/><text x="3470.21" y="542.21" fill="#262626">0</text><rect x="3480.89" y="534.78" width="21.37" height="10.45" fill="#0b7734" stroke="#d8d8d8" stroke-opacity=".8" stroke-width=".45"/><text x="3491.58" y="542.21" fill="#fff">10</text><rect x="3502.26" y="534.78" width="21.37" height="10.45" fill="#ebf7e7" stroke="#d8d8d8" stroke-opacity=".8" stroke-width=".45"/><text x="3512.95" y="542.21" fill="#262626">1</text><rect x="3523.63" y="534.78" width="21.37" height="10.45" fill="#dbf1d6" stroke="#d8d8d8" stroke-opacity=".8" stroke-width=".45"/><text x="3534.32" y="542.21" fill="#262626">2</text><text x="3369.95" y="552.65" text-anchor="end">HONE</text><path d="M3374.05 550.45h-2.1" stroke="#333" stroke-width=".5"/><rect x="3374.05" y="545.23" width="21.37" height="10.45" fill="#f7fcf5" stroke="#d8d8d8" stroke-opacity=".8" stroke-width=".45"/><text x="3384.73" y="552.65" fill="#262626">0</text><rect x="3395.42" y="545.23" width="21.37" height="10.45" fill="#f7fcf5" stroke="#d8d8d8" stroke-opacity=".8" stroke-width=".45"/><text x="3406.10" y="552.65" fill="#262626">0</text><rect x="3416.79" y="545.23" width="21.37" height="10.45" fill="#dbf1d6" stroke="#d8d8d8" stroke-opacity=".8" stroke-width=".45"/><text x="3427.47" y="552.65" fill="#262626">2</text><rect x="3438.16" y="545.23" width="21.37" height="10.45" fill="#f7fcf5" stroke="#d8d8d8" stroke-opacity=".8" stroke-width=".45"/><text x="3448.84" y="552.65" fill="#262626">0</text><rect x="3459.53" y="545.23" width="21.37" height="10.45" fill="#f7fcf5" stroke="#d8d8d8" stroke-opacity=".8" stroke-width=".45"/><text x="3470.21" y="552.65" fill="#262626">0</text><rect x="3480.89" y="545.23" width="21.37" height="10.45" fill="#00441b" stroke="#d8d8d8" stroke-opacity=".8" stroke-width=".45"/><text x="3491.58" y="552.65" fill="#fff">12</text><rect x="3502.26" y="545.23" width="21.37" height="10.45" fill="#f7fcf5" stroke="#d8d8d8" stroke-opacity=".8" stroke-width=".45"/><text x="3512.95" y="552.65" fill="#262626">0</text><rect x="3523.63" y="545.23" width="21.37" height="10.45" fill="#f7fcf5" stroke="#d8d8d8" stroke-opacity=".8" stroke-width=".45"/><text x="3534.32" y="552.65" fill="#262626">0</text><text x="3369.95" y="563.10" text-anchor="end">PERF</text><path d="M3374.05 560.90h-2.1" stroke="#333" stroke-width=".5"/><rect x="3374.05" y="555.68" width="21.37" height="10.45" fill="#f7fcf5" stroke="#d8d8d8" stroke-opacity=".8" stroke-width=".45"/><text x="3384.73" y="563.10" fill="#262626">0</text><rect x="3395.42" y="555.68" width="21.37" height="10.45" fill="#f7fcf5" stroke="#d8d8d8" stroke-opacity=".8" stroke-width=".45"/><text x="3406.10" y="563.10" fill="#262626">0</text><rect x="3416.79" y="555.68" width="21.37" height="10.45" fill="#dbf1d6" stroke="#d8d8d8" stroke-opacity=".8" stroke-width=".45"/><text x="3427.47" y="563.10" fill="#262626">2</text><rect x="3438.16" y="555.68" width="21.37" height="10.45" fill="#f7fcf5" stroke="#d8d8d8" stroke-opacity=".8" stroke-width=".45"/><text x="3448.84" y="563.10" fill="#262626">0</text><rect x="3459.53" y="555.68" width="21.37" height="10.45" fill="#f7fcf5" stroke="#d8d8d8" stroke-opacity=".8" stroke-width=".45"/><text x="3470.21" y="563.10" fill="#262626">0</text><rect x="3480.89" y="555.68" width="21.37" height="10.45" fill="#228a44" stroke="#d8d8d8" stroke-opacity=".8" stroke-width=".45"/><text x="3491.58" y="563.10" fill="#fff">9</text><rect x="3502.26" y="555.68" width="21.37" height="10.45" fill="#ebf7e7" stroke="#d8d8d8" stroke-opacity=".8" stroke-width=".45"/><text x="3512.95" y="563.10" fill="#262626">1</text><rect x="3523.63" y="555.68" width="21.37" height="10.45" fill="#f7fcf5" stroke="#d8d8d8" stroke-opacity=".8" stroke-width=".45"/><text x="3534.32" y="563.10" fill="#262626">0</text><text x="3369.95" y="573.55" text-anchor="end">AEST</text><path d="M3374.05 571.35h-2.1" stroke="#333" stroke-width=".5"/><rect x="3374.05" y="566.12" width="21.37" height="10.45" fill="#f7fcf5" stroke="#d8d8d8" stroke-opacity=".8" stroke-width=".45"/><text x="3384.73" y="573.55" fill="#262626">0</text><rect x="3395.42" y="566.12" width="21.37" height="10.45" fill="#f7fcf5" stroke="#d8d8d8" stroke-opacity=".8" stroke-width=".45"/><text x="3406.10" y="573.55" fill="#262626">0</text><rect x="3416.79" y="566.12" width="21.37" height="10.45" fill="#aedea7" stroke="#d8d8d8" stroke-opacity=".8" stroke-width=".45"/><text x="3427.47" y="573.55" fill="#262626">4</text><rect x="3438.16" y="566.12" width="21.37" height="10.45" fill="#f7fcf5" stroke="#d8d8d8" stroke-opacity=".8" stroke-width=".45"/><text x="3448.84" y="573.55" fill="#262626">0</text><rect x="3459.53" y="566.12" width="21.37" height="10.45" fill="#f7fcf5" stroke="#d8d8d8" stroke-opacity=".8" stroke-width=".45"/><text x="3470.21" y="573.55" fill="#262626">0</text><rect x="3480.89" y="566.12" width="21.37" height="10.45" fill="#73c476" stroke="#d8d8d8" stroke-opacity=".8" stroke-width=".45"/><text x="3491.58" y="573.55" fill="#262626">6</text><rect x="3502.26" y="566.12" width="21.37" height="10.45" fill="#ebf7e7" stroke="#d8d8d8" stroke-opacity=".8" stroke-width=".45"/><text x="3512.95" y="573.55" fill="#262626">1</text><rect x="3523.63" y="566.12" width="21.37" height="10.45" fill="#c7e9c0" stroke="#d8d8d8" stroke-opacity=".8" stroke-width=".45"/><text x="3534.32" y="573.55" fill="#262626">3</text><text x="3369.95" y="583.99" text-anchor="end">GENT</text><path d="M3374.05 581.79h-2.1" stroke="#333" stroke-width=".5"/><rect x="3374.05" y="576.57" width="21.37" height="10.45" fill="#f7fcf5" stroke="#d8d8d8" stroke-opacity=".8" stroke-width=".45"/><text x="3384.73" y="583.99" fill="#262626">0</text><rect x="3395.42" y="576.57" width="21.37" height="10.45" fill="#f7fcf5" stroke="#d8d8d8" stroke-opacity=".8" stroke-width=".45"/><text x="3406.10" y="583.99" fill="#262626">0</text><rect x="3416.79" y="576.57" width="21.37" height="10.45" fill="#92d28f" stroke="#d8d8d8" stroke-opacity=".8" stroke-width=".45"/><text x="3427.47" y="583.99" fill="#262626">5</text><rect x="3438.16" y="576.57" width="21.37" height="10.45" fill="#f7fcf5" stroke="#d8d8d8" stroke-opacity=".8" stroke-width=".45"/><text x="3448.84" y="583.99" fill="#262626">0</text><rect x="3459.53" y="576.57" width="21.37" height="10.45" fill="#f7fcf5" stroke="#d8d8d8" stroke-opacity=".8" stroke-width=".45"/><text x="3470.21" y="583.99" fill="#262626">0</text><rect x="3480.89" y="576.57" width="21.37" height="10.45" fill="#228a44" stroke="#d8d8d8" stroke-opacity=".8" stroke-width=".45"/><text x="3491.58" y="583.99" fill="#fff">9</text><rect x="3502.26" y="576.57" width="21.37" height="10.45" fill="#f7fcf5" stroke="#d8d8d8" stroke-opacity=".8" stroke-width=".45"/><text x="3512.95" y="583.99" fill="#262626">0</text><rect x="3523.63" y="576.57" width="21.37" height="10.45" fill="#ebf7e7" stroke="#d8d8d8" stroke-opacity=".8" stroke-width=".45"/><text x="3534.32" y="583.99" fill="#262626">1</text><text x="3369.95" y="594.44" text-anchor="end">TOLE</text><path d="M3374.05 592.24h-2.1" stroke="#333" stroke-width=".5"/><rect x="3374.05" y="587.02" width="21.37" height="10.45" fill="#f7fcf5" stroke="#d8d8d8" stroke-opacity=".8" stroke-width=".45"/><text x="3384.73" y="594.44" fill="#262626">0</text><rect x="3395.42" y="587.02" width="21.37" height="10.45" fill="#dbf1d6" stroke="#d8d8d8" stroke-opacity=".8" stroke-width=".45"/><text x="3406.10" y="594.44" fill="#262626">2</text><rect x="3416.79" y="587.02" width="21.37" height="10.45" fill="#c7e9c0" stroke="#d8d8d8" stroke-opacity=".8" stroke-width=".45"/><text x="3427.47" y="594.44" fill="#262626">3</text><rect x="3438.16" y="587.02" width="21.37" height="10.45" fill="#f7fcf5" stroke="#d8d8d8" stroke-opacity=".8" stroke-width=".45"/><text x="3448.84" y="594.44" fill="#262626">0</text><rect x="3459.53" y="587.02" width="21.37" height="10.45" fill="#f7fcf5" stroke="#d8d8d8" stroke-opacity=".8" stroke-width=".45"/><text x="3470.21" y="594.44" fill="#262626">0</text><rect x="3480.89" y="587.02" width="21.37" height="10.45" fill="#aedea7" stroke="#d8d8d8" stroke-opacity=".8" stroke-width=".45"/><text x="3491.58" y="594.44" fill="#262626">4</text><rect x="3502.26" y="587.02" width="21.37" height="10.45" fill="#f7fcf5" stroke="#d8d8d8" stroke-opacity=".8" stroke-width=".45"/><text x="3512.95" y="594.44" fill="#262626">0</text><rect x="3523.63" y="587.02" width="21.37" height="10.45" fill="#92d28f" stroke="#d8d8d8" stroke-opacity=".8" stroke-width=".45"/><text x="3534.32" y="594.44" fill="#262626">5</text><text x="3369.95" y="604.88" text-anchor="end">ATTEN</text><path d="M3374.05 602.68h-2.1" stroke="#333" stroke-width=".5"/><rect x="3374.05" y="597.46" width="21.37" height="10.45" fill="#f7fcf5" stroke="#d8d8d8" stroke-opacity=".8" stroke-width=".45"/><text x="3384.73" y="604.88" fill="#262626">0</text><rect x="3395.42" y="597.46" width="21.37" height="10.45" fill="#f7fcf5" stroke="#d8d8d8" stroke-opacity=".8" stroke-width=".45"/><text x="3406.10" y="604.88" fill="#262626">0</text><rect x="3416.79" y="597.46" width="21.37" height="10.45" fill="#aedea7" stroke="#d8d8d8" stroke-opacity=".8" stroke-width=".45"/><text x="3427.47" y="604.88" fill="#262626">4</text><rect x="3438.16" y="597.46" width="21.37" height="10.45" fill="#f7fcf5" stroke="#d8d8d8" stroke-opacity=".8" stroke-width=".45"/><text x="3448.84" y="604.88" fill="#262626">0</text><rect x="3459.53" y="597.46" width="21.37" height="10.45" fill="#f7fcf5" stroke="#d8d8d8" stroke-opacity=".8" stroke-width=".45"/><text x="3470.21" y="604.88" fill="#262626">0</text><rect x="3480.89" y="597.46" width="21.37" height="10.45" fill="#0b7734" stroke="#d8d8d8" stroke-opacity=".8" stroke-width=".45"/><text x="3491.58" y="604.88" fill="#fff">10</text><rect x="3502.26" y="597.46" width="21.37" height="10.45" fill="#f7fcf5" stroke="#d8d8d8" stroke-opacity=".8" stroke-width=".45"/><text x="3512.95" y="604.88" fill="#262626">0</text><rect x="3523.63" y="597.46" width="21.37" height="10.45" fill="#ebf7e7" stroke="#d8d8d8" stroke-opacity=".8" stroke-width=".45"/><text x="3534.32" y="604.88" fill="#262626">1</text><text x="3369.95" y="615.33" text-anchor="end">SELFL</text><path d="M3374.05 613.13h-2.1" stroke="#333" stroke-width=".5"/><rect x="3374.05" y="607.91" width="21.37" height="10.45" fill="#f7fcf5" stroke="#d8d8d8" stroke-opacity=".8" stroke-width=".45"/><text x="3384.73" y="615.33" fill="#262626">0</text><rect x="3395.42" y="607.91" width="21.37" height="10.45" fill="#ebf7e7" stroke="#d8d8d8" stroke-opacity=".8" stroke-width=".45"/><text x="3406.10" y="615.33" fill="#262626">1</text><rect x="3416.79" y="607.91" width="21.37" height="10.45" fill="#92d28f" stroke="#d8d8d8" stroke-opacity=".8" stroke-width=".45"/><text x="3427.47" y="615.33" fill="#262626">5</text><rect x="3438.16" y="607.91" width="21.37" height="10.45" fill="#f7fcf5" stroke="#d8d8d8" stroke-opacity=".8" stroke-width=".45"/><text x="3448.84" y="615.33" fill="#262626">0</text><rect x="3459.53" y="607.91" width="21.37" height="10.45" fill="#f7fcf5" stroke="#d8d8d8" stroke-opacity=".8" stroke-width=".45"/><text x="3470.21" y="615.33" fill="#262626">0</text><rect x="3480.89" y="607.91" width="21.37" height="10.45" fill="#92d28f" stroke="#d8d8d8" stroke-opacity=".8" stroke-width=".45"/><text x="3491.58" y="615.33" fill="#262626">5</text><rect x="3502.26" y="607.91" width="21.37" height="10.45" fill="#f7fcf5" stroke="#d8d8d8" stroke-opacity=".8" stroke-width=".45"/><text x="3512.95" y="615.33" fill="#262626">0</text><rect x="3523.63" y="607.91" width="21.37" height="10.45" fill="#c7e9c0" stroke="#d8d8d8" stroke-opacity=".8" stroke-width=".45"/><text x="3534.32" y="615.33" fill="#262626">3</text><text x="3369.95" y="625.78" text-anchor="end">PLEA</text><path d="M3374.05 623.58h-2.1" stroke="#333" stroke-width=".5"/><rect x="3374.05" y="618.35" width="21.37" height="10.45" fill="#f7fcf5" stroke="#d8d8d8" stroke-opacity=".8" stroke-width=".45"/><text x="3384.73" y="625.78" fill="#262626">0</text><rect x="3395.42" y="618.35" width="21.37" height="10.45" fill="#f7fcf5" stroke="#d8d8d8" stroke-opacity=".8" stroke-width=".45"/><text x="3406.10" y="625.78" fill="#262626">0</text><rect x="3416.79" y="618.35" width="21.37" height="10.45" fill="#dbf1d6" stroke="#d8d8d8" stroke-opacity=".8" stroke-width=".45"/><text x="3427.47" y="625.78" fill="#262626">2</text><rect x="3438.16" y="618.35" width="21.37" height="10.45" fill="#f7fcf5" stroke="#d8d8d8" stroke-opacity=".8" stroke-width=".45"/><text x="3448.84" y="625.78" fill="#262626">0</text><rect x="3459.53" y="618.35" width="21.37" height="10.45" fill="#f7fcf5" stroke="#d8d8d8" stroke-opacity=".8" stroke-width=".45"/><text x="3470.21" y="625.78" fill="#262626">0</text><rect x="3480.89" y="618.35" width="21.37" height="10.45" fill="#37a055" stroke="#d8d8d8" stroke-opacity=".8" stroke-width=".45"/><text x="3491.58" y="625.78" fill="#fff">8</text><rect x="3502.26" y="618.35" width="21.37" height="10.45" fill="#f7fcf5" stroke="#d8d8d8" stroke-opacity=".8" stroke-width=".45"/><text x="3512.95" y="625.78" fill="#262626">0</text><rect x="3523.63" y="618.35" width="21.37" height="10.45" fill="#aedea7" stroke="#d8d8d8" stroke-opacity=".8" stroke-width=".45"/><text x="3534.32" y="625.78" fill="#262626">4</text><path d="M3384.73 628.80v2.2" stroke="#333" stroke-width=".5"/><text x="3384.73" y="637.50" font-size="5.9">multi</text><text x="3384.73" y="644.60" font-size="5.9">racial</text><path d="M3406.10 628.80v2.2" stroke="#333" stroke-width=".5"/><text x="3406.10" y="637.50" font-size="5.9">latino</text><path d="M3427.47 628.80v2.2" stroke="#333" stroke-width=".5"/><text x="3427.47" y="637.50" font-size="5.9">asian</text><path d="M3448.84 628.80v2.2" stroke="#333" stroke-width=".5"/><text x="3448.84" y="637.50" font-size="5.9">black</text><path d="M3470.21 628.80v2.2" stroke="#333" stroke-width=".5"/><text x="3470.21" y="637.50" font-size="5.9">indi</text><text x="3470.21" y="644.60" font-size="5.9">genous</text><path d="M3491.58 628.80v2.2" stroke="#333" stroke-width=".5"/><text x="3491.58" y="637.50" font-size="5.9">white</text><path d="M3512.95 628.80v2.2" stroke="#333" stroke-width=".5"/><text x="3512.95" y="637.50" font-size="5.9">mena</text><path d="M3534.32 628.80v2.2" stroke="#333" stroke-width=".5"/><text x="3534.32" y="637.50" font-size="5.9">un</text><text x="3534.32" y="644.60" font-size="5.9">defined</text><text x="3051.10" y="667.00" font-size="7.29">Race Distribution (without Condition)</text><text x="2960.30" y="678.25" text-anchor="end">ARRO</text><path d="M2964.40 676.05h-2.1" stroke="#333" stroke-width=".5"/><rect x="2964.40" y="670.60" width="57.80" height="10.90" fill="#eaf2fb" stroke="#d8d8d8" stroke-opacity=".8" stroke-width=".45"/><text x="2993.30" y="678.25" fill="#262626">1</text><rect x="3022.20" y="670.60" width="57.80" height="10.90" fill="#08306b" stroke="#d8d8d8" stroke-opacity=".8" stroke-width=".45"/><text x="3051.10" y="678.25" fill="#fff">15</text><rect x="3080.00" y="670.60" width="57.80" height="10.90" fill="#f7fbff" stroke="#d8d8d8" stroke-opacity=".8" stroke-width=".45"/><text x="3108.90" y="678.25" fill="#262626">0</text><text x="2960.30" y="689.15" text-anchor="end">ASYM</text><path d="M2964.40 686.95h-2.1" stroke="#333" stroke-width=".5"/><rect x="2964.40" y="681.50" width="57.80" height="10.90" fill="#dceaf6" stroke="#d8d8d8" stroke-opacity=".8" stroke-width=".45"/><text x="2993.30" y="689.15" fill="#262626">2</text><rect x="3022.20" y="681.50" width="57.80" height="10.90" fill="#0a539e" stroke="#d8d8d8" stroke-opacity=".8" stroke-width=".45"/><text x="3051.10" y="689.15" fill="#fff">13</text><rect x="3080.00" y="681.50" width="57.80" height="10.90" fill="#eaf2fb" stroke="#d8d8d8" stroke-opacity=".8" stroke-width=".45"/><text x="3108.90" y="689.15" fill="#262626">1</text><text x="2960.30" y="700.05" text-anchor="end">BITT</text><path d="M2964.40 697.85h-2.1" stroke="#333" stroke-width=".5"/><rect x="2964.40" y="692.40" width="57.80" height="10.90" fill="#eaf2fb" stroke="#d8d8d8" stroke-opacity=".8" stroke-width=".45"/><text x="2993.30" y="700.05" fill="#262626">1</text><rect x="3022.20" y="692.40" width="57.80" height="10.90" fill="#3787c0" stroke="#d8d8d8" stroke-opacity=".8" stroke-width=".45"/><text x="3051.10" y="700.05" fill="#fff">10</text><rect x="3080.00" y="692.40" width="57.80" height="10.90" fill="#abd0e6" stroke="#d8d8d8" stroke-opacity=".8" stroke-width=".45"/><text x="3108.90" y="700.05" fill="#262626">5</text><text x="2960.30" y="710.95" text-anchor="end">CRUE</text><path d="M2964.40 708.75h-2.1" stroke="#333" stroke-width=".5"/><rect x="2964.40" y="703.30" width="57.80" height="10.90" fill="#f7fbff" stroke="#d8d8d8" stroke-opacity=".8" stroke-width=".45"/><text x="2993.30" y="710.95" fill="#262626">0</text><rect x="3022.20" y="703.30" width="57.80" height="10.90" fill="#0a539e" stroke="#d8d8d8" stroke-opacity=".8" stroke-width=".45"/><text x="3051.10" y="710.95" fill="#fff">13</text><rect x="3080.00" y="703.30" width="57.80" height="10.90" fill="#d0e1f2" stroke="#d8d8d8" stroke-opacity=".8" stroke-width=".45"/><text x="3108.90" y="710.95" fill="#262626">3</text><text x="2960.30" y="721.85" text-anchor="end">DECA</text><path d="M2964.40 719.65h-2.1" stroke="#333" stroke-width=".5"/><rect x="2964.40" y="714.20" width="57.80" height="10.90" fill="#c1d9ed" stroke="#d8d8d8" stroke-opacity=".8" stroke-width=".45"/><text x="2993.30" y="721.85" fill="#262626">4</text><rect x="3022.20" y="714.20" width="57.80" height="10.90" fill="#eaf2fb" stroke="#d8d8d8" stroke-opacity=".8" stroke-width=".45"/><text x="3051.10" y="721.85" fill="#262626">1</text><rect x="3080.00" y="714.20" width="57.80" height="10.90" fill="#2575b7" stroke="#d8d8d8" stroke-opacity=".8" stroke-width=".45"/><text x="3108.90" y="721.85" fill="#fff">11</text><text x="2960.30" y="732.75" text-anchor="end">DISH</text><path d="M2964.40 730.55h-2.1" stroke="#333" stroke-width=".5"/><rect x="2964.40" y="725.10" width="57.80" height="10.90" fill="#eaf2fb" stroke="#d8d8d8" stroke-opacity=".8" stroke-width=".45"/><text x="2993.30" y="732.75" fill="#262626">1</text><rect x="3022.20" y="725.10" width="57.80" height="10.90" fill="#1764ab" stroke="#d8d8d8" stroke-opacity=".8" stroke-width=".45"/><text x="3051.10" y="732.75" fill="#fff">12</text><rect x="3080.00" y="725.10" width="57.80" height="10.90" fill="#d0e1f2" stroke="#d8d8d8" stroke-opacity=".8" stroke-width=".45"/><text x="3108.90" y="732.75" fill="#262626">3</text><text x="2960.30" y="743.65" text-anchor="end">DIST</text><path d="M2964.40 741.45h-2.1" stroke="#333" stroke-width=".5"/><rect x="2964.40" y="736.00" width="57.80" height="10.90" fill="#f7fbff" stroke="#d8d8d8" stroke-opacity=".8" stroke-width=".45"/><text x="2993.30" y="743.65" fill="#262626">0</text><rect x="3022.20" y="736.00" width="57.80" height="10.90" fill="#4a98c9" stroke="#d8d8d8" stroke-opacity=".8" stroke-width=".45"/><text x="3051.10" y="743.65" fill="#fff">9</text><rect x="3080.00" y="736.00" width="57.80" height="10.90" fill="#79b5d9" stroke="#d8d8d8" stroke-opacity=".8" stroke-width=".45"/><text x="3108.90" y="743.65" fill="#262626">7</text><text x="2960.30" y="754.55" text-anchor="end">GROT</text><path d="M2964.40 752.35h-2.1" stroke="#333" stroke-width=".5"/><rect x="2964.40" y="746.90" width="57.80" height="10.90" fill="#f7fbff" stroke="#d8d8d8" stroke-opacity=".8" stroke-width=".45"/><text x="2993.30" y="754.55" fill="#262626">0</text><rect x="3022.20" y="746.90" width="57.80" height="10.90" fill="#0a539e" stroke="#d8d8d8" stroke-opacity=".8" stroke-width=".45"/><text x="3051.10" y="754.55" fill="#fff">13</text><rect x="3080.00" y="746.90" width="57.80" height="10.90" fill="#d0e1f2" stroke="#d8d8d8" stroke-opacity=".8" stroke-width=".45"/><text x="3108.90" y="754.55" fill="#262626">3</text><text x="2960.30" y="765.45" text-anchor="end">HARS</text><path d="M2964.40 763.25h-2.1" stroke="#333" stroke-width=".5"/><rect x="2964.40" y="757.80" width="57.80" height="10.90" fill="#eaf2fb" stroke="#d8d8d8" stroke-opacity=".8" stroke-width=".45"/><text x="2993.30" y="765.45" fill="#262626">1</text><rect x="3022.20" y="757.80" width="57.80" height="10.90" fill="#084285" stroke="#d8d8d8" stroke-opacity=".8" stroke-width=".45"/><text x="3051.10" y="765.45" fill="#fff">14</text><rect x="3080.00" y="757.80" width="57.80" height="10.90" fill="#eaf2fb" stroke="#d8d8d8" stroke-opacity=".8" stroke-width=".45"/><text x="3108.90" y="765.45" fill="#262626">1</text><text x="2960.30" y="776.35" text-anchor="end">INTO</text><path d="M2964.40 774.15h-2.1" stroke="#333" stroke-width=".5"/><rect x="2964.40" y="768.70" width="57.80" height="10.90" fill="#f7fbff" stroke="#d8d8d8" stroke-opacity=".8" stroke-width=".45"/><text x="2993.30" y="776.35" fill="#262626">0</text><rect x="3022.20" y="768.70" width="57.80" height="10.90" fill="#08306b" stroke="#d8d8d8" stroke-opacity=".8" stroke-width=".45"/><text x="3051.10" y="776.35" fill="#fff">15</text><rect x="3080.00" y="768.70" width="57.80" height="10.90" fill="#eaf2fb" stroke="#d8d8d8" stroke-opacity=".8" stroke-width=".45"/><text x="3108.90" y="776.35" fill="#262626">1</text><text x="2960.30" y="787.25" text-anchor="end">NEGL</text><path d="M2964.40 785.05h-2.1" stroke="#333" stroke-width=".5"/><rect x="2964.40" y="779.60" width="57.80" height="10.90" fill="#d0e1f2" stroke="#d8d8d8" stroke-opacity=".8" stroke-width=".45"/><text x="2993.30" y="787.25" fill="#262626">3</text><rect x="3022.20" y="779.60" width="57.80" height="10.90" fill="#0a539e" stroke="#d8d8d8" stroke-opacity=".8" stroke-width=".45"/><text x="3051.10" y="787.25" fill="#fff">13</text><rect x="3080.00" y="779.60" width="57.80" height="10.90" fill="#f7fbff" stroke="#d8d8d8" stroke-opacity=".8" stroke-width=".45"/><text x="3108.90" y="787.25" fill="#262626">0</text><text x="2960.30" y="798.15" text-anchor="end">SELF</text><path d="M2964.40 795.95h-2.1" stroke="#333" stroke-width=".5"/><rect x="2964.40" y="790.50" width="57.80" height="10.90" fill="#eaf2fb" stroke="#d8d8d8" stroke-opacity=".8" stroke-width=".45"/><text x="2993.30" y="798.15" fill="#262626">1</text><rect x="3022.20" y="790.50" width="57.80" height="10.90" fill="#08306b" stroke="#d8d8d8" stroke-opacity=".8" stroke-width=".45"/><text x="3051.10" y="798.15" fill="#fff">15</text><rect x="3080.00" y="790.50" width="57.80" height="10.90" fill="#f7fbff" stroke="#d8d8d8" stroke-opacity=".8" stroke-width=".45"/><text x="3108.90" y="798.15" fill="#262626">0</text><text x="2960.30" y="809.05" text-anchor="end">UNPL</text><path d="M2964.40 806.85h-2.1" stroke="#333" stroke-width=".5"/><rect x="2964.40" y="801.40" width="57.80" height="10.90" fill="#f7fbff" stroke="#d8d8d8" stroke-opacity=".8" stroke-width=".45"/><text x="2993.30" y="809.05" fill="#262626">0</text><rect x="3022.20" y="801.40" width="57.80" height="10.90" fill="#08306b" stroke="#d8d8d8" stroke-opacity=".8" stroke-width=".45"/><text x="3051.10" y="809.05" fill="#fff">15</text><rect x="3080.00" y="801.40" width="57.80" height="10.90" fill="#eaf2fb" stroke="#d8d8d8" stroke-opacity=".8" stroke-width=".45"/><text x="3108.90" y="809.05" fill="#262626">1</text><path d="M2993.30 812.30v2.2" stroke="#333" stroke-width=".5"/><text x="2993.30" y="821.00" font-size="5.9">PoC</text><path d="M3051.10 812.30v2.2" stroke="#333" stroke-width=".5"/><text x="3051.10" y="821.00" font-size="5.9">W</text><path d="M3108.90 812.30v2.2" stroke="#333" stroke-width=".5"/><text x="3108.90" y="821.00" font-size="5.9">undefined</text><text x="3255.60" y="667.00" font-size="7.29">Race Distribution (with Condition)</text><text x="3164.90" y="678.25" text-anchor="end">ARRO</text><path d="M3169.00 676.05h-2.1" stroke="#333" stroke-width=".5"/><rect x="3169.00" y="670.60" width="57.73" height="10.90" fill="#f7fbff" stroke="#d8d8d8" stroke-opacity=".8" stroke-width=".45"/><text x="3197.87" y="678.25" fill="#262626">0</text><rect x="3226.73" y="670.60" width="57.73" height="10.90" fill="#1460a8" stroke="#d8d8d8" stroke-opacity=".8" stroke-width=".45"/><text x="3255.60" y="678.25" fill="#fff">13</text><rect x="3284.47" y="670.60" width="57.73" height="10.90" fill="#d2e3f3" stroke="#d8d8d8" stroke-opacity=".8" stroke-width=".45"/><text x="3313.33" y="678.25" fill="#262626">3</text><text x="3164.90" y="689.15" text-anchor="end">ASYM</text><path d="M3169.00 686.95h-2.1" stroke="#333" stroke-width=".5"/><rect x="3169.00" y="681.50" width="57.73" height="10.90" fill="#d2e3f3" stroke="#d8d8d8" stroke-opacity=".8" stroke-width=".45"/><text x="3197.87" y="689.15" fill="#262626">3</text><rect x="3226.73" y="681.50" width="57.73" height="10.90" fill="#1460a8" stroke="#d8d8d8" stroke-opacity=".8" stroke-width=".45"/><text x="3255.60" y="689.15" fill="#fff">13</text><rect x="3284.47" y="681.50" width="57.73" height="10.90" fill="#f7fbff" stroke="#d8d8d8" stroke-opacity=".8" stroke-width=".45"/><text x="3313.33" y="689.15" fill="#262626">0</text><text x="3164.90" y="700.05" text-anchor="end">BITT</text><path d="M3169.00 697.85h-2.1" stroke="#333" stroke-width=".5"/><rect x="3169.00" y="692.40" width="57.73" height="10.90" fill="#f7fbff" stroke="#d8d8d8" stroke-opacity=".8" stroke-width=".45"/><text x="3197.87" y="700.05" fill="#262626">0</text><rect x="3226.73" y="692.40" width="57.73" height="10.90" fill="#1460a8" stroke="#d8d8d8" stroke-opacity=".8" stroke-width=".45"/><text x="3255.60" y="700.05" fill="#fff">13</text><rect x="3284.47" y="692.40" width="57.73" height="10.90" fill="#d2e3f3" stroke="#d8d8d8" stroke-opacity=".8" stroke-width=".45"/><text x="3313.33" y="700.05" fill="#262626">3</text><text x="3164.90" y="710.95" text-anchor="end">CRUE</text><path d="M3169.00 708.75h-2.1" stroke="#333" stroke-width=".5"/><rect x="3169.00" y="703.30" width="57.73" height="10.90" fill="#f7fbff" stroke="#d8d8d8" stroke-opacity=".8" stroke-width=".45"/><text x="3197.87" y="710.95" fill="#262626">0</text><rect x="3226.73" y="703.30" width="57.73" height="10.90" fill="#08306b" stroke="#d8d8d8" stroke-opacity=".8" stroke-width=".45"/><text x="3255.60" y="710.95" fill="#fff">16</text><rect x="3284.47" y="703.30" width="57.73" height="10.90" fill="#f7fbff" stroke="#d8d8d8" stroke-opacity=".8" stroke-width=".45"/><text x="3313.33" y="710.95" fill="#262626">0</text><text x="3164.90" y="721.85" text-anchor="end">DECA</text><path d="M3169.00 719.65h-2.1" stroke="#333" stroke-width=".5"/><rect x="3169.00" y="714.20" width="57.73" height="10.90" fill="#eaf3fb" stroke="#d8d8d8" stroke-opacity=".8" stroke-width=".45"/><text x="3197.87" y="721.85" fill="#262626">1</text><rect x="3226.73" y="714.20" width="57.73" height="10.90" fill="#d2e3f3" stroke="#d8d8d8" stroke-opacity=".8" stroke-width=".45"/><text x="3255.60" y="721.85" fill="#262626">3</text><rect x="3284.47" y="714.20" width="57.73" height="10.90" fill="#2070b4" stroke="#d8d8d8" stroke-opacity=".8" stroke-width=".45"/><text x="3313.33" y="721.85" fill="#fff">12</text><text x="3164.90" y="732.75" text-anchor="end">DISH</text><path d="M3169.00 730.55h-2.1" stroke="#333" stroke-width=".5"/><rect x="3169.00" y="725.10" width="57.73" height="10.90" fill="#eaf3fb" stroke="#d8d8d8" stroke-opacity=".8" stroke-width=".45"/><text x="3197.87" y="732.75" fill="#262626">1</text><rect x="3226.73" y="725.10" width="57.73" height="10.90" fill="#2070b4" stroke="#d8d8d8" stroke-opacity=".8" stroke-width=".45"/><text x="3255.60" y="732.75" fill="#fff">12</text><rect x="3284.47" y="725.10" width="57.73" height="10.90" fill="#d2e3f3" stroke="#d8d8d8" stroke-opacity=".8" stroke-width=".45"/><text x="3313.33" y="732.75" fill="#262626">3</text><text x="3164.90" y="743.65" text-anchor="end">DIST</text><path d="M3169.00 741.45h-2.1" stroke="#333" stroke-width=".5"/><rect x="3169.00" y="736.00" width="57.73" height="10.90" fill="#f7fbff" stroke="#d8d8d8" stroke-opacity=".8" stroke-width=".45"/><text x="3197.87" y="743.65" fill="#262626">0</text><rect x="3226.73" y="736.00" width="57.73" height="10.90" fill="#3181bd" stroke="#d8d8d8" stroke-opacity=".8" stroke-width=".45"/><text x="3255.60" y="743.65" fill="#fff">11</text><rect x="3284.47" y="736.00" width="57.73" height="10.90" fill="#b2d2e8" stroke="#d8d8d8" stroke-opacity=".8" stroke-width=".45"/><text x="3313.33" y="743.65" fill="#262626">5</text><text x="3164.90" y="754.55" text-anchor="end">GROT</text><path d="M3169.00 752.35h-2.1" stroke="#333" stroke-width=".5"/><rect x="3169.00" y="746.90" width="57.73" height="10.90" fill="#eaf3fb" stroke="#d8d8d8" stroke-opacity=".8" stroke-width=".45"/><text x="3197.87" y="754.55" fill="#262626">1</text><rect x="3226.73" y="746.90" width="57.73" height="10.90" fill="#1460a8" stroke="#d8d8d8" stroke-opacity=".8" stroke-width=".45"/><text x="3255.60" y="754.55" fill="#fff">13</text><rect x="3284.47" y="746.90" width="57.73" height="10.90" fill="#deebf7" stroke="#d8d8d8" stroke-opacity=".8" stroke-width=".45"/><text x="3313.33" y="754.55" fill="#262626">2</text><text x="3164.90" y="765.45" text-anchor="end">HARS</text><path d="M3169.00 763.25h-2.1" stroke="#333" stroke-width=".5"/><rect x="3169.00" y="757.80" width="57.73" height="10.90" fill="#f7fbff" stroke="#d8d8d8" stroke-opacity=".8" stroke-width=".45"/><text x="3197.87" y="765.45" fill="#262626">0</text><rect x="3226.73" y="757.80" width="57.73" height="10.90" fill="#08509b" stroke="#d8d8d8" stroke-opacity=".8" stroke-width=".45"/><text x="3255.60" y="765.45" fill="#fff">14</text><rect x="3284.47" y="757.80" width="57.73" height="10.90" fill="#deebf7" stroke="#d8d8d8" stroke-opacity=".8" stroke-width=".45"/><text x="3313.33" y="765.45" fill="#262626">2</text><text x="3164.90" y="776.35" text-anchor="end">INTO</text><path d="M3169.00 774.15h-2.1" stroke="#333" stroke-width=".5"/><rect x="3169.00" y="768.70" width="57.73" height="10.90" fill="#f7fbff" stroke="#d8d8d8" stroke-opacity=".8" stroke-width=".45"/><text x="3197.87" y="776.35" fill="#262626">0</text><rect x="3226.73" y="768.70" width="57.73" height="10.90" fill="#08306b" stroke="#d8d8d8" stroke-opacity=".8" stroke-width=".45"/><text x="3255.60" y="776.35" fill="#fff">16</text><rect x="3284.47" y="768.70" width="57.73" height="10.90" fill="#f7fbff" stroke="#d8d8d8" stroke-opacity=".8" stroke-width=".45"/><text x="3313.33" y="776.35" fill="#262626">0</text><text x="3164.90" y="787.25" text-anchor="end">NEGL</text><path d="M3169.00 785.05h-2.1" stroke="#333" stroke-width=".5"/><rect x="3169.00" y="779.60" width="57.73" height="10.90" fill="#f7fbff" stroke="#d8d8d8" stroke-opacity=".8" stroke-width=".45"/><text x="3197.87" y="787.25" fill="#262626">0</text><rect x="3226.73" y="779.60" width="57.73" height="10.90" fill="#08509b" stroke="#d8d8d8" stroke-opacity=".8" stroke-width=".45"/><text x="3255.60" y="787.25" fill="#fff">14</text><rect x="3284.47" y="779.60" width="57.73" height="10.90" fill="#deebf7" stroke="#d8d8d8" stroke-opacity=".8" stroke-width=".45"/><text x="3313.33" y="787.25" fill="#262626">2</text><text x="3164.90" y="798.15" text-anchor="end">SELF</text><path d="M3169.00 795.95h-2.1" stroke="#333" stroke-width=".5"/><rect x="3169.00" y="790.50" width="57.73" height="10.90" fill="#f7fbff" stroke="#d8d8d8" stroke-opacity=".8" stroke-width=".45"/><text x="3197.87" y="798.15" fill="#262626">0</text><rect x="3226.73" y="790.50" width="57.73" height="10.90" fill="#08306b" stroke="#d8d8d8" stroke-opacity=".8" stroke-width=".45"/><text x="3255.60" y="798.15" fill="#fff">16</text><rect x="3284.47" y="790.50" width="57.73" height="10.90" fill="#f7fbff" stroke="#d8d8d8" stroke-opacity=".8" stroke-width=".45"/><text x="3313.33" y="798.15" fill="#262626">0</text><text x="3164.90" y="809.05" text-anchor="end">UNPL</text><path d="M3169.00 806.85h-2.1" stroke="#333" stroke-width=".5"/><rect x="3169.00" y="801.40" width="57.73" height="10.90" fill="#f7fbff" stroke="#d8d8d8" stroke-opacity=".8" stroke-width=".45"/><text x="3197.87" y="809.05" fill="#262626">0</text><rect x="3226.73" y="801.40" width="57.73" height="10.90" fill="#08509b" stroke="#d8d8d8" stroke-opacity=".8" stroke-width=".45"/><text x="3255.60" y="809.05" fill="#fff">14</text><rect x="3284.47" y="801.40" width="57.73" height="10.90" fill="#deebf7" stroke="#d8d8d8" stroke-opacity=".8" stroke-width=".45"/><text x="3313.33" y="809.05" fill="#262626">2</text><path d="M3197.87 812.30v2.2" stroke="#333" stroke-width=".5"/><text x="3197.87" y="821.00" font-size="5.9">PoC</text><path d="M3255.60 812.30v2.2" stroke="#333" stroke-width=".5"/><text x="3255.60" y="821.00" font-size="5.9">W</text><path d="M3313.33 812.30v2.2" stroke="#333" stroke-width=".5"/><text x="3313.33" y="821.00" font-size="5.9">undefined</text><text x="3459.05" y="667.00" font-size="7.29">Race Distribution (Lexical Opposites)</text><text x="3368.50" y="678.25" text-anchor="end">HUMB</text><path d="M3372.60 676.05h-2.1" stroke="#333" stroke-width=".5"/><rect x="3372.60" y="670.60" width="57.63" height="10.90" fill="#00441b" stroke="#d8d8d8" stroke-opacity=".8" stroke-width=".45"/><text x="3401.42" y="678.25" fill="#fff">13</text><rect x="3430.23" y="670.60" width="57.63" height="10.90" fill="#def2d9" stroke="#d8d8d8" stroke-opacity=".8" stroke-width=".45"/><text x="3459.05" y="678.25" fill="#262626">2</text><rect x="3487.87" y="670.60" width="57.63" height="10.90" fill="#ecf8e8" stroke="#d8d8d8" stroke-opacity=".8" stroke-width=".45"/><text x="3516.68" y="678.25" fill="#262626">1</text><text x="3368.50" y="689.15" text-anchor="end">SYMM</text><path d="M3372.60 686.95h-2.1" stroke="#333" stroke-width=".5"/><rect x="3372.60" y="681.50" width="57.63" height="10.90" fill="#cbebc5" stroke="#d8d8d8" stroke-opacity=".8" stroke-width=".45"/><text x="3401.42" y="689.15" fill="#262626">3</text><rect x="3430.23" y="681.50" width="57.63" height="10.90" fill="#005c25" stroke="#d8d8d8" stroke-opacity=".8" stroke-width=".45"/><text x="3459.05" y="689.15" fill="#fff">12</text><rect x="3487.87" y="681.50" width="57.63" height="10.90" fill="#ecf8e8" stroke="#d8d8d8" stroke-opacity=".8" stroke-width=".45"/><text x="3516.68" y="689.15" fill="#262626">1</text><text x="3368.50" y="700.05" text-anchor="end">SWEE</text><path d="M3372.60 697.85h-2.1" stroke="#333" stroke-width=".5"/><rect x="3372.60" y="692.40" width="57.63" height="10.90" fill="#9ed798" stroke="#d8d8d8" stroke-opacity=".8" stroke-width=".45"/><text x="3401.42" y="700.05" fill="#262626">5</text><rect x="3430.23" y="692.40" width="57.63" height="10.90" fill="#65bd6f" stroke="#d8d8d8" stroke-opacity=".8" stroke-width=".45"/><text x="3459.05" y="700.05" fill="#fff">7</text><rect x="3487.87" y="692.40" width="57.63" height="10.90" fill="#b6e2af" stroke="#d8d8d8" stroke-opacity=".8" stroke-width=".45"/><text x="3516.68" y="700.05" fill="#262626">4</text><text x="3368.50" y="710.95" text-anchor="end">KIND</text><path d="M3372.60 708.75h-2.1" stroke="#333" stroke-width=".5"/><rect x="3372.60" y="703.30" width="57.63" height="10.90" fill="#81ca81" stroke="#d8d8d8" stroke-opacity=".8" stroke-width=".45"/><text x="3401.42" y="710.95" fill="#262626">6</text><rect x="3430.23" y="703.30" width="57.63" height="10.90" fill="#65bd6f" stroke="#d8d8d8" stroke-opacity=".8" stroke-width=".45"/><text x="3459.05" y="710.95" fill="#fff">7</text><rect x="3487.87" y="703.30" width="57.63" height="10.90" fill="#cbebc5" stroke="#d8d8d8" stroke-opacity=".8" stroke-width=".45"/><text x="3516.68" y="710.95" fill="#262626">3</text><text x="3368.50" y="721.85" text-anchor="end">RECO</text><path d="M3372.60 719.65h-2.1" stroke="#333" stroke-width=".5"/><rect x="3372.60" y="714.20" width="57.63" height="10.90" fill="#b6e2af" stroke="#d8d8d8" stroke-opacity=".8" stroke-width=".45"/><text x="3401.42" y="721.85" fill="#262626">4</text><rect x="3430.23" y="714.20" width="57.63" height="10.90" fill="#1e8741" stroke="#d8d8d8" stroke-opacity=".8" stroke-width=".45"/><text x="3459.05" y="721.85" fill="#fff">10</text><rect x="3487.87" y="714.20" width="57.63" height="10.90" fill="#def2d9" stroke="#d8d8d8" stroke-opacity=".8" stroke-width=".45"/><text x="3516.68" y="721.85" fill="#262626">2</text><text x="3368.50" y="732.75" text-anchor="end">HONE</text><path d="M3372.60 730.55h-2.1" stroke="#333" stroke-width=".5"/><rect x="3372.60" y="725.10" width="57.63" height="10.90" fill="#b6e2af" stroke="#d8d8d8" stroke-opacity=".8" stroke-width=".45"/><text x="3401.42" y="732.75" fill="#262626">4</text><rect x="3430.23" y="725.10" width="57.63" height="10.90" fill="#005c25" stroke="#d8d8d8" stroke-opacity=".8" stroke-width=".45"/><text x="3459.05" y="732.75" fill="#fff">12</text><rect x="3487.87" y="725.10" width="57.63" height="10.90" fill="#f7fcf5" stroke="#d8d8d8" stroke-opacity=".8" stroke-width=".45"/><text x="3516.68" y="732.75" fill="#262626">0</text><text x="3368.50" y="743.65" text-anchor="end">PERF</text><path d="M3372.60 741.45h-2.1" stroke="#333" stroke-width=".5"/><rect x="3372.60" y="736.00" width="57.63" height="10.90" fill="#65bd6f" stroke="#d8d8d8" stroke-opacity=".8" stroke-width=".45"/><text x="3401.42" y="743.65" fill="#fff">7</text><rect x="3430.23" y="736.00" width="57.63" height="10.90" fill="#309950" stroke="#d8d8d8" stroke-opacity=".8" stroke-width=".45"/><text x="3459.05" y="743.65" fill="#fff">9</text><rect x="3487.87" y="736.00" width="57.63" height="10.90" fill="#f7fcf5" stroke="#d8d8d8" stroke-opacity=".8" stroke-width=".45"/><text x="3516.68" y="743.65" fill="#262626">0</text><text x="3368.50" y="754.55" text-anchor="end">AEST</text><path d="M3372.60 752.35h-2.1" stroke="#333" stroke-width=".5"/><rect x="3372.60" y="746.90" width="57.63" height="10.90" fill="#65bd6f" stroke="#d8d8d8" stroke-opacity=".8" stroke-width=".45"/><text x="3401.42" y="754.55" fill="#fff">7</text><rect x="3430.23" y="746.90" width="57.63" height="10.90" fill="#81ca81" stroke="#d8d8d8" stroke-opacity=".8" stroke-width=".45"/><text x="3459.05" y="754.55" fill="#262626">6</text><rect x="3487.87" y="746.90" width="57.63" height="10.90" fill="#cbebc5" stroke="#d8d8d8" stroke-opacity=".8" stroke-width=".45"/><text x="3516.68" y="754.55" fill="#262626">3</text><text x="3368.50" y="765.45" text-anchor="end">GENT</text><path d="M3372.60 763.25h-2.1" stroke="#333" stroke-width=".5"/><rect x="3372.60" y="757.80" width="57.63" height="10.90" fill="#81ca81" stroke="#d8d8d8" stroke-opacity=".8" stroke-width=".45"/><text x="3401.42" y="765.45" fill="#262626">6</text><rect x="3430.23" y="757.80" width="57.63" height="10.90" fill="#309950" stroke="#d8d8d8" stroke-opacity=".8" stroke-width=".45"/><text x="3459.05" y="765.45" fill="#fff">9</text><rect x="3487.87" y="757.80" width="57.63" height="10.90" fill="#ecf8e8" stroke="#d8d8d8" stroke-opacity=".8" stroke-width=".45"/><text x="3516.68" y="765.45" fill="#262626">1</text><text x="3368.50" y="776.35" text-anchor="end">TOLE</text><path d="M3372.60 774.15h-2.1" stroke="#333" stroke-width=".5"/><rect x="3372.60" y="768.70" width="57.63" height="10.90" fill="#65bd6f" stroke="#d8d8d8" stroke-opacity=".8" stroke-width=".45"/><text x="3401.42" y="776.35" fill="#fff">7</text><rect x="3430.23" y="768.70" width="57.63" height="10.90" fill="#b6e2af" stroke="#d8d8d8" stroke-opacity=".8" stroke-width=".45"/><text x="3459.05" y="776.35" fill="#262626">4</text><rect x="3487.87" y="768.70" width="57.63" height="10.90" fill="#9ed798" stroke="#d8d8d8" stroke-opacity=".8" stroke-width=".45"/><text x="3516.68" y="776.35" fill="#262626">5</text><text x="3368.50" y="787.25" text-anchor="end">ATTEN</text><path d="M3372.60 785.05h-2.1" stroke="#333" stroke-width=".5"/><rect x="3372.60" y="779.60" width="57.63" height="10.90" fill="#9ed798" stroke="#d8d8d8" stroke-opacity=".8" stroke-width=".45"/><text x="3401.42" y="787.25" fill="#262626">5</text><rect x="3430.23" y="779.60" width="57.63" height="10.90" fill="#1e8741" stroke="#d8d8d8" stroke-opacity=".8" stroke-width=".45"/><text x="3459.05" y="787.25" fill="#fff">10</text><rect x="3487.87" y="779.60" width="57.63" height="10.90" fill="#ecf8e8" stroke="#d8d8d8" stroke-opacity=".8" stroke-width=".45"/><text x="3516.68" y="787.25" fill="#262626">1</text><text x="3368.50" y="798.15" text-anchor="end">SELFL</text><path d="M3372.60 795.95h-2.1" stroke="#333" stroke-width=".5"/><rect x="3372.60" y="790.50" width="57.63" height="10.90" fill="#45ad5f" stroke="#d8d8d8" stroke-opacity=".8" stroke-width=".45"/><text x="3401.42" y="798.15" fill="#fff">8</text><rect x="3430.23" y="790.50" width="57.63" height="10.90" fill="#9ed798" stroke="#d8d8d8" stroke-opacity=".8" stroke-width=".45"/><text x="3459.05" y="798.15" fill="#262626">5</text><rect x="3487.87" y="790.50" width="57.63" height="10.90" fill="#cbebc5" stroke="#d8d8d8" stroke-opacity=".8" stroke-width=".45"/><text x="3516.68" y="798.15" fill="#262626">3</text><text x="3368.50" y="809.05" text-anchor="end">PLEA</text><path d="M3372.60 806.85h-2.1" stroke="#333" stroke-width=".5"/><rect x="3372.60" y="801.40" width="57.63" height="10.90" fill="#b6e2af" stroke="#d8d8d8" stroke-opacity=".8" stroke-width=".45"/><text x="3401.42" y="809.05" fill="#262626">4</text><rect x="3430.23" y="801.40" width="57.63" height="10.90" fill="#45ad5f" stroke="#d8d8d8" stroke-opacity=".8" stroke-width=".45"/><text x="3459.05" y="809.05" fill="#fff">8</text><rect x="3487.87" y="801.40" width="57.63" height="10.90" fill="#b6e2af" stroke="#d8d8d8" stroke-opacity=".8" stroke-width=".45"/><text x="3516.68" y="809.05" fill="#262626">4</text><path d="M3401.42 812.30v2.2" stroke="#333" stroke-width=".5"/><text x="3401.42" y="821.00" font-size="5.9">PoC</text><path d="M3459.05 812.30v2.2" stroke="#333" stroke-width=".5"/><text x="3459.05" y="821.00" font-size="5.9">W</text><path d="M3516.68 812.30v2.2" stroke="#333" stroke-width=".5"/><text x="3516.68" y="821.00" font-size="5.9">undefined</text></svg>
<div class="hd" style="left:3789.80px;top:90.90px">Draw an Ugly Person</div>
<div class="hd r cm" style="left:3789.80px;top:90.90px;width:757.70px">, ,</div>
<div id="L284" class="l" style="left:3789.80px;top:127px;"><span class="ss">3.1.2<span class="gap2"></span>Perceived Socioeconomic and Lifestyle Attributes.</span></div>
<div id="L285" class="l  j" style="left:3804.90px;top:160px;width:348.40px;letter-spacing:0.073px;"><i>Hygiene.</i><span class="g3"></span> When looking at the hygiene levels of the people gen-</div>
<div id="L286" class="l  j" style="left:3789.80px;top:177px;width:363.50px;">erated in Prompt A, most adjectives resulted in normal levels of</div>
<div id="L287" class="l  j" style="left:3789.80px;top:194px;width:363.50px;letter-spacing:0.085px;">hygiene. The exceptions were decaying, grotesque, and neglectful,</div>
<div id="L288" class="l  j" style="left:3789.80px;top:210px;width:363.50px;">which resulted in images of mostly unclean people. Prompt C’s</div>
<div id="L289" class="l  j" style="left:3789.80px;top:227px;width:363.50px;">results were quite distinct from that of Prompt A. Adjectives that</div>
<div id="L290" class="l  j" style="left:3789.80px;top:243px;width:363.50px;">were mostly average levels of hygiene were split almost evenly</div>
<div id="L291" class="l  j" style="left:3789.80px;top:260px;width:363.50px;">across average and unclean hygiene levels. Adding the context</div>
<div id="L292" class="l  j" style="left:3789.80px;top:277px;width:363.50px;">of ugliness led to a decrease in hygiene levels. Prompt B reveals</div>
<div id="L293" class="l  j" style="left:3789.80px;top:293px;width:363.50px;">a similar trend in the opposite direction. The antonyms resulted</div>
<div id="L294" class="l  j" style="left:3789.80px;top:310px;width:363.50px;">in no adjectives drawing unclean individuals. Turning away from</div>
<div id="L295" class="l" style="left:3789.80px;top:326px;">ugliness led to an increase in cleanliness.</div>
<div id="L296" class="l  j" style="left:3804.90px;top:343px;width:348.40px;letter-spacing:0.132px;">The hygiene levels observed across the prompts show that gen-</div>
<div id="L297" class="l  j" style="left:3789.80px;top:360px;width:363.50px;">erative AI does have a tendency to see ugliness as dirtier than its</div>
<div id="L298" class="l  j" style="left:3789.80px;top:376px;width:363.50px;">counterparts. However, since the shift is only towards a moderate</div>
<div id="L299" class="l  j" style="left:3789.80px;top:393px;width:363.50px;">split between average and unclean, it does not appear that low</div>
<div id="L300" class="l" style="left:3789.80px;top:409px;">hygiene levels are an essential part of ugliness for generative AI.</div>
<div id="L301" class="l  j" style="left:3804.90px;top:443px;width:348.40px;"><i>Clothing.</i><span class="g3"></span> Prompt A and C revealed similar results in terms of</div>
<div id="L302" class="l  j" style="left:3789.80px;top:459px;width:363.50px;">clothing generated within images of ugliness. Formal clothing is</div>
<div id="L303" class="l  j" style="left:3789.80px;top:476px;width:363.50px;">seen frequently in images of arrogant and dishonest people while</div>
<div id="L304" class="l  j" style="left:3789.80px;top:493px;width:363.50px;letter-spacing:0.100px;">most adjectives result in images containing people in casual cloth-</div>
<div id="L305" class="l  j" style="left:3789.80px;top:509px;width:363.50px;letter-spacing:0.010px;">ing. In contrast, the antonyms in Prompt B resulted in all adjectives</div>
<div id="L306" class="l" style="left:3789.80px;top:526px;">drawing images with people in casual clothes.</div>
<div id="L307" class="l  j" style="left:3804.90px;top:543px;width:348.40px;letter-spacing:0.126px;">These results imply that generative AI does not place particular</div>
<div id="L308" class="l  j" style="left:3789.80px;top:559px;width:363.50px;">emphasis on clothing when visualizing ugliness. As the type of</div>
<div id="L309" class="l  j" style="left:3789.80px;top:576px;width:363.50px;letter-spacing:0.087px;">clothing most commonly seen is maintained across prompts, it can</div>
<div id="L310" class="l  j" style="left:3789.80px;top:592px;width:363.50px;">be inferred that the expression of clothing can be interpreted as</div>
<div id="L311" class="l  j" style="left:3789.80px;top:609px;width:363.50px;">reflecting the nature of the adjective used rather than the value</div>
<div id="L312" class="l" style="left:3789.80px;top:626px;">judgment of ugliness (Table 3).</div>
<div id="L313" class="l h1 lc" style="left:3789.80px;top:662px;line-height:25px;height:25px;">3.2<span class="gap"></span>Findings of Qualitative Analysis</div>
<div id="L314" class="l  j" style="left:3789.80px;top:685px;width:363.50px;letter-spacing:-0.021px;"><span class="ss">3.2.1<span class="gap2"></span>Expression of Visual Ugliness in Words.</span> We noticed two main</div>
<div id="L315" class="l  j" style="left:3789.80px;top:702px;width:363.50px;">trends in LLM’s textual explanations of ugliness. First, many re-</div>
<div id="L316" class="l  j" style="left:3789.80px;top:719px;width:363.50px;letter-spacing:-0.000px;">sponses included contextual elements such as lighting, background,</div>
<div id="L317" class="l  j" style="left:3789.80px;top:735px;width:363.50px;letter-spacing:0.038px;">posture, and attire in representations of ugliness despite the prompt</div>
<div id="L318" class="l  j" style="left:3789.80px;top:752px;width:363.50px;letter-spacing:0.111px;">asking for a drawing of an ugly person. Examples included dim or</div>
<div id="L319" class="l  j" style="left:3789.80px;top:769px;width:363.50px;">moody lighting, blurred or undefined spaces, slouched body pos-</div>
<div id="L320" class="l  j" style="left:3789.80px;top:785px;width:363.50px;letter-spacing:0.040px;">ture, and unkempt appearance. These elements appeared regardless</div>
<div id="L321" class="l" style="left:3789.80px;top:802px;">of whether physical deformities were also present.</div>
<div id="L322" class="l it j" style="left:3826.15px;top:831px;width:290.80px;letter-spacing:-0.121px;">“The palette is muted and cold, stripped of warmth, sug-</div>
<div id="L323" class="l it j" style="left:3826.15px;top:847px;width:290.80px;">gesting emotional distance. The lighting is stark and</div>
<div id="L324" class="l it j" style="left:3826.15px;top:864px;width:290.80px;letter-spacing:0.146px;">directional—like an interrogation lamp—emphasizing</div>
<div id="L325" class="l it j" style="left:3826.15px;top:881px;width:290.80px;letter-spacing:-0.076px;">her severe presence and every line of experience, regret,</div>
<div id="L326" class="l it" style="left:3826.15px;top:897px;">or resentment.” <span class="up">(ChatGPT)</span></div>
<div id="L327" class="l  j" style="left:3804.90px;top:924px;width:348.40px;letter-spacing:0.078px;">Second, physical features traditionally associated with unattrac-</div>
<div id="L328" class="l  j" style="left:3789.80px;top:941px;width:363.50px;">tiveness such as wrinkles, asymmetry, sagging facial lines, and</div>
<div id="L329" class="l  j" style="left:3789.80px;top:957px;width:363.50px;">rough skin texture were often framed as markers of life’s weight</div>
<div id="L330" class="l  j" style="left:3789.80px;top:974px;width:363.50px;">and trajectory and not simply flaws in appearance. The continued</div>
<div id="L331" class="l  j" style="left:3789.80px;top:990px;width:363.50px;">addition of context to the emphasis on these visual characteristics</div>
<div id="L332" class="l  j" style="left:3789.80px;top:1007px;width:363.50px;">suggests an attempt to portray physical irregularities not as su-</div>
<div id="L333" class="l  j" style="left:3789.80px;top:1023px;width:363.50px;">perficial flaws, but as reflections of accumulated experiences and</div>
<div id="L334" class="l  j" style="left:3789.80px;top:1040px;width:363.50px;">inner turmoil. This can be seen in prompts focused on emotional</div>
<div id="L335" class="l" style="left:3789.80px;top:1057px;">or behavioral ugliness in particular.</div>
<div id="L336" class="l it j" style="left:4226.05px;top:127px;width:290.80px;letter-spacing:-0.283px;">“For this image, I defined "ugliness" through exaggerated</div>
<div id="L337" class="l it j" style="left:4226.05px;top:144px;width:290.80px;">aging and emotional distress, distorting the person’s</div>
<div id="L338" class="l it" style="left:4226.05px;top:161px;">appearance to reflect inner turmoil.” <span class="up">(Grok)</span></div>
<div id="L339" class="l  j" style="left:4189.70px;top:200px;width:363.50px;letter-spacing:0.008px;"><span class="ss">3.2.2<span class="gap2"></span>Avoidance of accountability.</span> When asked to explain why they</div>
<div id="L340" class="l  j" style="left:4189.70px;top:217px;width:363.50px;">drew an ugly person the way they did, the various generative AI</div>
<div id="L341" class="l  j" style="left:4189.70px;top:233px;width:363.50px;">models exhibited a tendency to make attempts to avoid account-</div>
<div id="L342" class="l" style="left:4189.70px;top:250px;">ability, employing various tactics to do so.</div>
<div id="L343" class="l  j" style="left:4204.80px;top:266px;width:348.40px;letter-spacing:0.118px;">One tactic noticed was a deliberate distancing of itself from the</div>
<div id="L344" class="l  j" style="left:4189.70px;top:283px;width:363.50px;letter-spacing:0.099px;">decision-making behind image generation by shifting blame to the</div>
<div id="L345" class="l  j" style="left:4189.70px;top:300px;width:363.50px;">data or a separate image generation model. Statements such as</div>
<div id="L346" class="l  j" style="left:4189.70px;top:316px;width:363.50px;">“This is based on my understanding of the prompt and training</div>
<div id="L347" class="l  j" style="left:4189.70px;top:333px;width:363.50px;letter-spacing:0.006px;">data” appeared across multiple responses and models while Gemini</div>
<div id="L348" class="l  j" style="left:4189.70px;top:349px;width:363.50px;">explicitly stated that “I cannot know for sure why the image was</div>
<div id="L349" class="l  j" style="left:4189.70px;top:366px;width:363.50px;letter-spacing:-0.131px;">generated the way it was, but I can offer some possible explanations”</div>
<div id="L350" class="l  j" style="left:4189.70px;top:383px;width:363.50px;">in another instance. Instances of chatbots (Gemini and ChatGPT)</div>
<div id="L351" class="l  j" style="left:4189.70px;top:399px;width:363.50px;letter-spacing:0.146px;">claiming that they could not know the reasoning as image genera-</div>
<div id="L352" class="l  j" style="left:4189.70px;top:416px;width:363.50px;letter-spacing:0.030px;">tion occurs in a separate model (Imagen and Dall-E) were recorded</div>
<div id="L353" class="l" style="left:4189.70px;top:432px;">as well.</div>
<div id="L354" class="l  j" style="left:4204.80px;top:449px;width:348.40px;letter-spacing:-0.014px;">In other cases, the AI models redirected the judgment of ugliness</div>
<div id="L355" class="l  j" style="left:4189.70px;top:466px;width:363.50px;letter-spacing:0.129px;">back to the user, prompting reflection rather than asserting a fixed</div>
<div id="L356" class="l" style="left:4189.70px;top:482px;">standard:</div>
<div id="L357" class="l it j" style="left:4226.05px;top:516px;width:290.80px;">“The image invites viewers to confront their own bi-</div>
<div id="L358" class="l it j" style="left:4226.05px;top:533px;width:290.80px;letter-spacing:-0.066px;">ases and preconceived notions about what is considered</div>
<div id="L359" class="l it" style="left:4226.05px;top:550px;">"ugly" and why.” <span class="up">(Grok)</span></div>
<div id="L360" class="l  j" style="left:4204.80px;top:583px;width:348.40px;letter-spacing:0.071px;">This tactic of passing the locus of interpretation onto the viewer</div>
<div id="L361" class="l  j" style="left:4189.70px;top:600px;width:363.50px;letter-spacing:-0.086px;">was observed consistently across different prompt types and models,</div>
<div id="L362" class="l  j" style="left:4189.70px;top:617px;width:363.50px;">suggesting a deliberate strategy to avoid direct value judgments</div>
<div id="L363" class="l  j" style="left:4189.70px;top:633px;width:363.50px;">while still guiding users toward self-examination. The generative</div>
<div id="L364" class="l  j" style="left:4189.70px;top:650px;width:363.50px;letter-spacing:0.051px;">AI models do not claim to show something ugly in these instances,</div>
<div id="L365" class="l  j" style="left:4189.70px;top:667px;width:363.50px;">but instead tell the viewer that the ugliness is something they</div>
<div id="L366" class="l  j" style="left:4189.70px;top:683px;width:363.50px;">find within an image that isn’t necessarily one thing or another.</div>
<div id="L367" class="l  j" style="left:4189.70px;top:700px;width:363.50px;">According to the models that provide depictions of ugliness, they</div>
<div id="L368" class="l  j" style="left:4189.70px;top:716px;width:363.50px;">are not making any claims of what is ugly or beautiful in their</div>
<div id="L369" class="l" style="left:4189.70px;top:733px;">generation of such images.</div>
<div id="L370" class="l h1" style="left:4189.70px;top:777px;line-height:25px;height:25px;">4<span class="gap"></span>DISCUSSION</div>
<div id="L371" class="l h1 lc" style="left:4189.70px;top:801px;line-height:25px;height:25px;">4.1<span class="gap"></span>The Possibility of Reverse Discrimination</div>
<div id="L372" class="l  j" style="left:4189.70px;top:825px;width:363.50px;">In this study, we observed a tendency for ugliness to be primarily</div>
<div id="L373" class="l  j" style="left:4189.70px;top:841px;width:363.50px;letter-spacing:0.031px;">represented visually by white men. This could potentially be attrib-</div>
<div id="L374" class="l  j" style="left:4189.70px;top:858px;width:363.50px;letter-spacing:0.115px;">uted, first, to the demographic composition of the training dataset.</div>
<div id="L375" class="l  j" style="left:4189.70px;top:874px;width:363.50px;">Large-scale datasets tend to over represent image and text data</div>
<div id="L376" class="l  j" style="left:4189.70px;top:891px;width:363.50px;letter-spacing:0.108px;">related to white men [2], which may lead to frequent depictions of</div>
<div id="L377" class="l  j" style="left:4189.70px;top:908px;width:363.50px;">white men during the generation process. Additionally, the algo-</div>
<div id="L378" class="l  j" style="left:4189.70px;top:924px;width:363.50px;">rithm may have undergone post-training alignment [7] to ensure</div>
<div id="L379" class="l  j" style="left:4189.70px;top:941px;width:363.50px;">a positive balance for minority groups when assigning favorable</div>
<div id="L380" class="l  j" style="left:4189.70px;top:957px;width:363.50px;letter-spacing:-0.030px;">traits (like beauty). As a result, there’s a possibility that the negative</div>
<div id="L381" class="l  j" style="left:4189.70px;top:974px;width:363.50px;">trait of "ugliness" was disproportionately projected onto majority</div>
<div id="L382" class="l  j" style="left:4189.70px;top:991px;width:363.50px;letter-spacing:0.065px;">groups (especially white men) in an effort to avoid reproduction of</div>
<div id="L383" class="l  j" style="left:4189.70px;top:1007px;width:363.50px;letter-spacing:0.067px;">societal discrimination. The model may have intentionally avoided</div>
<div id="L384" class="l  j" style="left:4189.70px;top:1024px;width:363.50px;letter-spacing:0.011px;">negative portrayals of certain groups (minorities) while excessively</div>
<div id="L385" class="l  j" style="left:4189.70px;top:1040px;width:363.50px;letter-spacing:0.138px;">attributing negative traits to other groups (majorities), resulting in</div>
<div id="L386" class="l" style="left:4189.70px;top:1057px;">the biases observed in this study.</div>
</body></html>
